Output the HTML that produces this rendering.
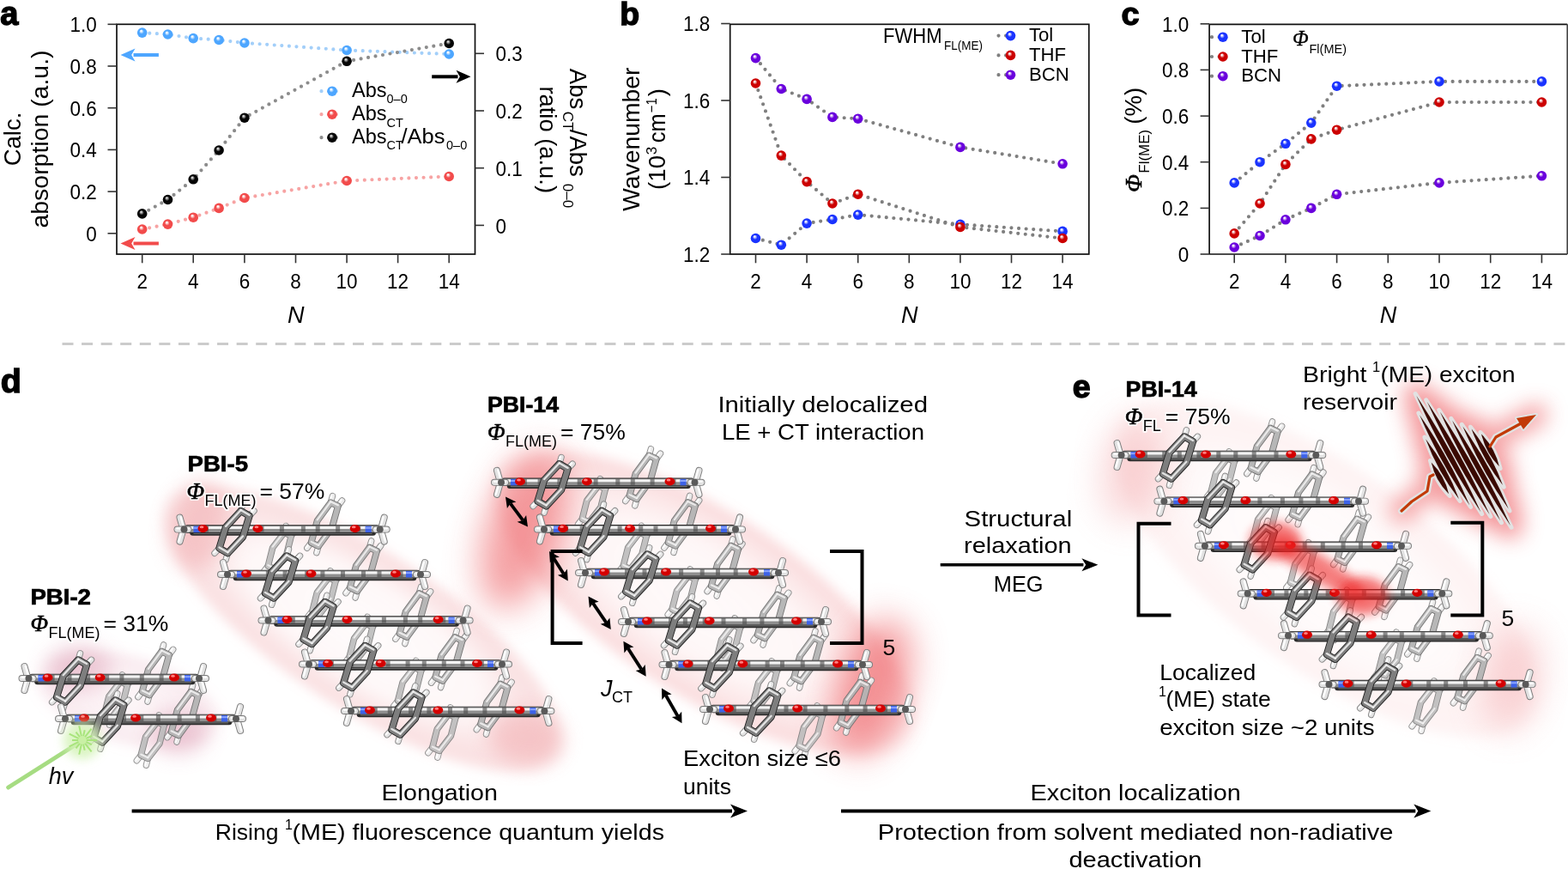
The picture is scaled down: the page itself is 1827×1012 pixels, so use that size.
<!DOCTYPE html>
<html><head><meta charset="utf-8"><title>PBI figure</title>
<style>html,body{margin:0;padding:0;background:#fff;overflow:hidden;} svg{display:block;}</style></head>
<body><svg width="1827" height="1012" viewBox="0 0 1827 1012">
<defs>
<radialGradient id="sLB" cx="0.5" cy="0.5" r="0.5" fx="0.38" fy="0.3">
<stop offset="0" stop-color="#ffffff"/><stop offset="0.1" stop-color="#ffffff" stop-opacity="0.95"/>
<stop offset="0.48" stop-color="#4da6ff"/><stop offset="1" stop-color="#4da6ff"/></radialGradient>
<radialGradient id="sLR" cx="0.5" cy="0.5" r="0.5" fx="0.38" fy="0.3">
<stop offset="0" stop-color="#ffffff"/><stop offset="0.1" stop-color="#ffffff" stop-opacity="0.95"/>
<stop offset="0.48" stop-color="#f24b4b"/><stop offset="1" stop-color="#f24b4b"/></radialGradient>
<radialGradient id="sK" cx="0.5" cy="0.5" r="0.5" fx="0.38" fy="0.3">
<stop offset="0" stop-color="#d8d8d8"/><stop offset="0.1" stop-color="#d8d8d8" stop-opacity="0.95"/>
<stop offset="0.48" stop-color="#050505"/><stop offset="1" stop-color="#050505"/></radialGradient>
<radialGradient id="sB" cx="0.5" cy="0.5" r="0.5" fx="0.38" fy="0.3">
<stop offset="0" stop-color="#ffffff"/><stop offset="0.1" stop-color="#ffffff" stop-opacity="0.95"/>
<stop offset="0.48" stop-color="#1a33ff"/><stop offset="1" stop-color="#1a33ff"/></radialGradient>
<radialGradient id="sR" cx="0.5" cy="0.5" r="0.5" fx="0.38" fy="0.3">
<stop offset="0" stop-color="#ffffff"/><stop offset="0.1" stop-color="#ffffff" stop-opacity="0.95"/>
<stop offset="0.48" stop-color="#cc0000"/><stop offset="1" stop-color="#cc0000"/></radialGradient>
<radialGradient id="sP" cx="0.5" cy="0.5" r="0.5" fx="0.38" fy="0.3">
<stop offset="0" stop-color="#ffffff"/><stop offset="0.1" stop-color="#ffffff" stop-opacity="0.95"/>
<stop offset="0.48" stop-color="#6a00dd"/><stop offset="1" stop-color="#6a00dd"/></radialGradient>
<linearGradient id="rod" x1="0" y1="0" x2="0" y2="1">
<stop offset="0" stop-color="#9a9a9a"/><stop offset="0.22" stop-color="#f4f4f4"/><stop offset="0.5" stop-color="#b8b8b8"/><stop offset="0.8" stop-color="#5a5a5a"/><stop offset="1" stop-color="#2a2a2a"/></linearGradient>
<linearGradient id="hstick" x1="0" y1="0" x2="0" y2="1">
<stop offset="0" stop-color="#c8c8c8"/><stop offset="0.35" stop-color="#ffffff"/><stop offset="1" stop-color="#9a9a9a"/></linearGradient>
<filter id="bl6" x="-50%" y="-50%" width="200%" height="200%"><feGaussianBlur stdDeviation="6"/></filter>
<filter id="bl12" x="-50%" y="-50%" width="200%" height="200%"><feGaussianBlur stdDeviation="12"/></filter>
<filter id="bl20" x="-50%" y="-50%" width="200%" height="200%"><feGaussianBlur stdDeviation="20"/></filter>
<filter id="bl28" x="-50%" y="-50%" width="200%" height="200%"><feGaussianBlur stdDeviation="28"/></filter>
<filter id="bl3" x="-50%" y="-50%" width="200%" height="200%"><feGaussianBlur stdDeviation="3"/></filter>
<radialGradient id="gl1" cx="0.5" cy="0.5" r="0.5"><stop offset="0" stop-color="#e4a0b6" stop-opacity="0.1"/><stop offset="0.5" stop-color="#e4a0b6" stop-opacity="0.14"/><stop offset="0.8" stop-color="#e4a0b6" stop-opacity="0.22"/><stop offset="1" stop-color="#e4a0b6" stop-opacity="0"/></radialGradient>
<radialGradient id="gl2" cx="0.5" cy="0.5" r="0.5"><stop offset="0" stop-color="#f0a2a6" stop-opacity="0.04"/><stop offset="0.55" stop-color="#f0a2a6" stop-opacity="0.08"/><stop offset="0.8" stop-color="#f0a2a6" stop-opacity="0.3"/><stop offset="0.92" stop-color="#f0a2a6" stop-opacity="0.32"/><stop offset="1" stop-color="#f0a2a6" stop-opacity="0"/></radialGradient>
<radialGradient id="gl3" cx="0.5" cy="0.5" r="0.5"><stop offset="0" stop-color="#f08a8e" stop-opacity="0.04"/><stop offset="0.5" stop-color="#f08a8e" stop-opacity="0.07"/><stop offset="0.78" stop-color="#f08a8e" stop-opacity="0.22"/><stop offset="0.9" stop-color="#f08a8e" stop-opacity="0.3"/><stop offset="1" stop-color="#f08a8e" stop-opacity="0"/></radialGradient>
<radialGradient id="gl4" cx="0.5" cy="0.5" r="0.5"><stop offset="0" stop-color="#f3a3a6" stop-opacity="0.03"/><stop offset="0.55" stop-color="#f3a3a6" stop-opacity="0.05"/><stop offset="0.8" stop-color="#f3a3a6" stop-opacity="0.13"/><stop offset="0.92" stop-color="#f3a3a6" stop-opacity="0.13"/><stop offset="1" stop-color="#f3a3a6" stop-opacity="0"/></radialGradient>
</defs>
<rect width="1827" height="1012" fill="#fff"/>
<rect x="136.0" y="28.3" width="417.5" height="267.7" fill="none" stroke="#111" stroke-width="1.7"/>
<line x1="165.7" y1="296.0" x2="165.7" y2="306.3" stroke="#333" stroke-width="1.6"/>
<g transform="translate(165.7,336.3) scale(1,1.09)">
<text x="0.0" y="0.0" font-size="22.5" text-anchor="middle" font-weight="normal" font-style="normal" fill="#000" font-family="'Liberation Sans', Arial, sans-serif" >2</text>
</g>
<line x1="225.2" y1="296.0" x2="225.2" y2="306.3" stroke="#333" stroke-width="1.6"/>
<g transform="translate(225.2,336.3) scale(1,1.09)">
<text x="0.0" y="0.0" font-size="22.5" text-anchor="middle" font-weight="normal" font-style="normal" fill="#000" font-family="'Liberation Sans', Arial, sans-serif" >4</text>
</g>
<line x1="284.9" y1="296.0" x2="284.9" y2="306.3" stroke="#333" stroke-width="1.6"/>
<g transform="translate(284.9,336.3) scale(1,1.09)">
<text x="0.0" y="0.0" font-size="22.5" text-anchor="middle" font-weight="normal" font-style="normal" fill="#000" font-family="'Liberation Sans', Arial, sans-serif" >6</text>
</g>
<line x1="344.5" y1="296.0" x2="344.5" y2="306.3" stroke="#333" stroke-width="1.6"/>
<g transform="translate(344.5,336.3) scale(1,1.09)">
<text x="0.0" y="0.0" font-size="22.5" text-anchor="middle" font-weight="normal" font-style="normal" fill="#000" font-family="'Liberation Sans', Arial, sans-serif" >8</text>
</g>
<line x1="404.1" y1="296.0" x2="404.1" y2="306.3" stroke="#333" stroke-width="1.6"/>
<g transform="translate(404.1,336.3) scale(1,1.09)">
<text x="0.0" y="0.0" font-size="22.5" text-anchor="middle" font-weight="normal" font-style="normal" fill="#000" font-family="'Liberation Sans', Arial, sans-serif" >10</text>
</g>
<line x1="463.6" y1="296.0" x2="463.6" y2="306.3" stroke="#333" stroke-width="1.6"/>
<g transform="translate(463.6,336.3) scale(1,1.09)">
<text x="0.0" y="0.0" font-size="22.5" text-anchor="middle" font-weight="normal" font-style="normal" fill="#000" font-family="'Liberation Sans', Arial, sans-serif" >12</text>
</g>
<line x1="523.2" y1="296.0" x2="523.2" y2="306.3" stroke="#333" stroke-width="1.6"/>
<g transform="translate(523.2,336.3) scale(1,1.09)">
<text x="0.0" y="0.0" font-size="22.5" text-anchor="middle" font-weight="normal" font-style="normal" fill="#000" font-family="'Liberation Sans', Arial, sans-serif" >14</text>
</g>
<line x1="125.5" y1="28.3" x2="136.0" y2="28.3" stroke="#333" stroke-width="1.6"/>
<g transform="translate(112.8,37.2) scale(1,1.09)">
<text x="0.0" y="0.0" font-size="22.5" text-anchor="end" font-weight="normal" font-style="normal" fill="#000" font-family="'Liberation Sans', Arial, sans-serif" >1.0</text>
</g>
<line x1="125.5" y1="77.0" x2="136.0" y2="77.0" stroke="#333" stroke-width="1.6"/>
<g transform="translate(112.8,85.9) scale(1,1.09)">
<text x="0.0" y="0.0" font-size="22.5" text-anchor="end" font-weight="normal" font-style="normal" fill="#000" font-family="'Liberation Sans', Arial, sans-serif" >0.8</text>
</g>
<line x1="125.5" y1="125.7" x2="136.0" y2="125.7" stroke="#333" stroke-width="1.6"/>
<g transform="translate(112.8,134.6) scale(1,1.09)">
<text x="0.0" y="0.0" font-size="22.5" text-anchor="end" font-weight="normal" font-style="normal" fill="#000" font-family="'Liberation Sans', Arial, sans-serif" >0.6</text>
</g>
<line x1="125.5" y1="174.4" x2="136.0" y2="174.4" stroke="#333" stroke-width="1.6"/>
<g transform="translate(112.8,183.3) scale(1,1.09)">
<text x="0.0" y="0.0" font-size="22.5" text-anchor="end" font-weight="normal" font-style="normal" fill="#000" font-family="'Liberation Sans', Arial, sans-serif" >0.4</text>
</g>
<line x1="125.5" y1="223.1" x2="136.0" y2="223.1" stroke="#333" stroke-width="1.6"/>
<g transform="translate(112.8,232.0) scale(1,1.09)">
<text x="0.0" y="0.0" font-size="22.5" text-anchor="end" font-weight="normal" font-style="normal" fill="#000" font-family="'Liberation Sans', Arial, sans-serif" >0.2</text>
</g>
<line x1="125.5" y1="271.8" x2="136.0" y2="271.8" stroke="#333" stroke-width="1.6"/>
<g transform="translate(112.8,280.7) scale(1,1.09)">
<text x="0.0" y="0.0" font-size="22.5" text-anchor="end" font-weight="normal" font-style="normal" fill="#000" font-family="'Liberation Sans', Arial, sans-serif" >0</text>
</g>
<line x1="553.5" y1="62.3" x2="564.0" y2="62.3" stroke="#333" stroke-width="1.6"/>
<g transform="translate(577.5,71.4) scale(1,1.09)">
<text x="0.0" y="0.0" font-size="22.5" text-anchor="start" font-weight="normal" font-style="normal" fill="#000" font-family="'Liberation Sans', Arial, sans-serif" >0.3</text>
</g>
<line x1="553.5" y1="129.0" x2="564.0" y2="129.0" stroke="#333" stroke-width="1.6"/>
<g transform="translate(577.5,138.1) scale(1,1.09)">
<text x="0.0" y="0.0" font-size="22.5" text-anchor="start" font-weight="normal" font-style="normal" fill="#000" font-family="'Liberation Sans', Arial, sans-serif" >0.2</text>
</g>
<line x1="553.5" y1="195.7" x2="564.0" y2="195.7" stroke="#333" stroke-width="1.6"/>
<g transform="translate(577.5,204.8) scale(1,1.09)">
<text x="0.0" y="0.0" font-size="22.5" text-anchor="start" font-weight="normal" font-style="normal" fill="#000" font-family="'Liberation Sans', Arial, sans-serif" >0.1</text>
</g>
<line x1="553.5" y1="262.4" x2="564.0" y2="262.4" stroke="#333" stroke-width="1.6"/>
<g transform="translate(577.5,271.5) scale(1,1.09)">
<text x="0.0" y="0.0" font-size="22.5" text-anchor="start" font-weight="normal" font-style="normal" fill="#000" font-family="'Liberation Sans', Arial, sans-serif" >0</text>
</g>
<path d="M165.7,38.1 L195.5,40.0 L225.2,44.6 L255.1,46.5 L284.9,50.0 L404.1,58.5 L523.2,63.0" fill="none" stroke="#a3cff9" stroke-width="4.2" stroke-linecap="round" stroke-dasharray="0 8.6"/>
<path d="M165.7,267.0 L195.5,261.1 L225.2,253.2 L255.1,242.4 L284.9,230.5 L404.1,210.5 L523.2,205.5" fill="none" stroke="#f7a3a3" stroke-width="4.2" stroke-linecap="round" stroke-dasharray="0 8.6"/>
<path d="M165.7,248.9 L195.5,232.5 L225.2,208.8 L255.1,175.0 L284.9,137.2 L404.1,71.3 L523.2,50.5" fill="none" stroke="#8c8c8c" stroke-width="4.2" stroke-linecap="round" stroke-dasharray="0 8.6"/>
<circle cx="165.7" cy="38.1" r="5.8" fill="url(#sLB)"/>
<circle cx="195.5" cy="40.0" r="5.8" fill="url(#sLB)"/>
<circle cx="225.2" cy="44.6" r="5.8" fill="url(#sLB)"/>
<circle cx="255.1" cy="46.5" r="5.8" fill="url(#sLB)"/>
<circle cx="284.9" cy="50.0" r="5.8" fill="url(#sLB)"/>
<circle cx="404.1" cy="58.5" r="5.8" fill="url(#sLB)"/>
<circle cx="523.2" cy="63.0" r="5.8" fill="url(#sLB)"/>
<circle cx="165.7" cy="267.0" r="5.8" fill="url(#sLR)"/>
<circle cx="195.5" cy="261.1" r="5.8" fill="url(#sLR)"/>
<circle cx="225.2" cy="253.2" r="5.8" fill="url(#sLR)"/>
<circle cx="255.1" cy="242.4" r="5.8" fill="url(#sLR)"/>
<circle cx="284.9" cy="230.5" r="5.8" fill="url(#sLR)"/>
<circle cx="404.1" cy="210.5" r="5.8" fill="url(#sLR)"/>
<circle cx="523.2" cy="205.5" r="5.8" fill="url(#sLR)"/>
<circle cx="165.7" cy="248.9" r="5.8" fill="url(#sK)"/>
<circle cx="195.5" cy="232.5" r="5.8" fill="url(#sK)"/>
<circle cx="225.2" cy="208.8" r="5.8" fill="url(#sK)"/>
<circle cx="255.1" cy="175.0" r="5.8" fill="url(#sK)"/>
<circle cx="284.9" cy="137.2" r="5.8" fill="url(#sK)"/>
<circle cx="404.1" cy="71.3" r="5.8" fill="url(#sK)"/>
<circle cx="523.2" cy="50.5" r="5.8" fill="url(#sK)"/>
<line x1="184.9" y1="64.0" x2="155.5" y2="64.0" stroke="#4da6ff" stroke-width="4"/>
<path d="M140.5,64.0 L157.5,56.5 L153.2,64.0 L157.5,71.5 Z" fill="#4da6ff"/>
<line x1="184.9" y1="283.5" x2="155.5" y2="283.5" stroke="#f24b4b" stroke-width="4"/>
<path d="M140.5,283.5 L157.5,276.0 L153.2,283.5 L157.5,291.0 Z" fill="#f24b4b"/>
<line x1="503.2" y1="89.3" x2="533.5" y2="89.3" stroke="#000" stroke-width="4"/>
<path d="M548.5,89.3 L531.5,96.8 L535.8,89.3 L531.5,81.8 Z" fill="#000"/>
<path d="M374.5,106.2 L400.0,106.2" fill="none" stroke="#a3cff9" stroke-width="4.2" stroke-linecap="round" stroke-dasharray="0 8.6"/>
<circle cx="387.0" cy="106.2" r="5.8" fill="url(#sLB)"/>
<path d="M374.5,133.2 L400.0,133.2" fill="none" stroke="#f7a3a3" stroke-width="4.2" stroke-linecap="round" stroke-dasharray="0 8.6"/>
<circle cx="387.0" cy="133.2" r="5.8" fill="url(#sLR)"/>
<path d="M374.5,160.2 L400.0,160.2" fill="none" stroke="#8c8c8c" stroke-width="4.2" stroke-linecap="round" stroke-dasharray="0 8.6"/>
<circle cx="387.0" cy="160.2" r="5.8" fill="url(#sK)"/>
<text x="410.0" y="113.4" font-size="23.5" text-anchor="start" font-weight="normal" font-style="normal" fill="#000" font-family="'Liberation Sans', Arial, sans-serif" >Abs</text>
<text x="450.5" y="120.3" font-size="14.5" text-anchor="start" font-weight="normal" font-style="normal" fill="#000" font-family="'Liberation Sans', Arial, sans-serif" >0–0</text>
<text x="410.0" y="139.6" font-size="23.5" text-anchor="start" font-weight="normal" font-style="normal" fill="#000" font-family="'Liberation Sans', Arial, sans-serif" >Abs</text>
<text x="450.5" y="147.5" font-size="14.5" text-anchor="start" font-weight="normal" font-style="normal" fill="#000" font-family="'Liberation Sans', Arial, sans-serif" >CT</text>
<text x="410.0" y="166.6" font-size="23.5" text-anchor="start" font-weight="normal" font-style="normal" fill="#000" font-family="'Liberation Sans', Arial, sans-serif" >Abs</text>
<text x="450.5" y="174.3" font-size="14.5" text-anchor="start" font-weight="normal" font-style="normal" fill="#000" font-family="'Liberation Sans', Arial, sans-serif" >CT</text>
<text x="467.5" y="166.6" font-size="23.5" text-anchor="start" font-weight="normal" font-style="normal" fill="#000" font-family="'Liberation Sans', Arial, sans-serif" textLength="51" lengthAdjust="spacingAndGlyphs" >/Abs</text>
<text x="520.0" y="174.3" font-size="14.5" text-anchor="start" font-weight="normal" font-style="normal" fill="#000" font-family="'Liberation Sans', Arial, sans-serif" >0–0</text>
<text x="344.8" y="375.7" font-size="27" text-anchor="middle" font-weight="normal" font-style="italic" fill="#000" font-family="'Liberation Sans', Arial, sans-serif" >N</text>
<g transform="translate(24.0,162.0) rotate(-90)">
<text x="0.0" y="0.0" font-size="27.5" text-anchor="middle" font-weight="normal" font-style="normal" fill="#000" font-family="'Liberation Sans', Arial, sans-serif" >Calc.</text>
</g>
<g transform="translate(56.4,162.0) rotate(-90)">
<text x="0.0" y="0.0" font-size="27.5" text-anchor="middle" font-weight="normal" font-style="normal" fill="#000" font-family="'Liberation Sans', Arial, sans-serif" textLength="207" lengthAdjust="spacingAndGlyphs" >absorption (a.u.)</text>
</g>
<g transform="translate(663.5,79.8) rotate(90)">
<text x="0.0" y="0.0" font-size="27.5" text-anchor="start" font-weight="normal" font-style="normal" fill="#000" font-family="'Liberation Sans', Arial, sans-serif" >Abs</text>
<text x="50.0" y="8.0" font-size="17" text-anchor="start" font-weight="normal" font-style="normal" fill="#000" font-family="'Liberation Sans', Arial, sans-serif" >CT</text>
<text x="71.0" y="0.0" font-size="27.5" text-anchor="start" font-weight="normal" font-style="normal" fill="#000" font-family="'Liberation Sans', Arial, sans-serif" >/Abs</text>
<text x="134.0" y="8.0" font-size="17" text-anchor="start" font-weight="normal" font-style="normal" fill="#000" font-family="'Liberation Sans', Arial, sans-serif" >0–0</text>
</g>
<g transform="translate(629.0,162.7) rotate(90)">
<text x="0.0" y="0.0" font-size="27.5" text-anchor="middle" font-weight="normal" font-style="normal" fill="#000" font-family="'Liberation Sans', Arial, sans-serif" textLength="124.6" lengthAdjust="spacingAndGlyphs" >ratio (a.u.)</text>
</g>
<text x="0.3" y="29.4" font-size="38" text-anchor="start" font-weight="bold" font-style="normal" fill="#000" font-family="'Liberation Sans', Arial, sans-serif" stroke="#000" stroke-width="1.4">a</text>
<rect x="850.7" y="28.3" width="418.0999999999999" height="267.7" fill="none" stroke="#111" stroke-width="1.7"/>
<line x1="880.5" y1="296.0" x2="880.5" y2="306.3" stroke="#333" stroke-width="1.6"/>
<g transform="translate(880.5,336.3) scale(1,1.09)">
<text x="0.0" y="0.0" font-size="22.5" text-anchor="middle" font-weight="normal" font-style="normal" fill="#000" font-family="'Liberation Sans', Arial, sans-serif" >2</text>
</g>
<line x1="940.1" y1="296.0" x2="940.1" y2="306.3" stroke="#333" stroke-width="1.6"/>
<g transform="translate(940.1,336.3) scale(1,1.09)">
<text x="0.0" y="0.0" font-size="22.5" text-anchor="middle" font-weight="normal" font-style="normal" fill="#000" font-family="'Liberation Sans', Arial, sans-serif" >4</text>
</g>
<line x1="999.7" y1="296.0" x2="999.7" y2="306.3" stroke="#333" stroke-width="1.6"/>
<g transform="translate(999.7,336.3) scale(1,1.09)">
<text x="0.0" y="0.0" font-size="22.5" text-anchor="middle" font-weight="normal" font-style="normal" fill="#000" font-family="'Liberation Sans', Arial, sans-serif" >6</text>
</g>
<line x1="1059.3" y1="296.0" x2="1059.3" y2="306.3" stroke="#333" stroke-width="1.6"/>
<g transform="translate(1059.3,336.3) scale(1,1.09)">
<text x="0.0" y="0.0" font-size="22.5" text-anchor="middle" font-weight="normal" font-style="normal" fill="#000" font-family="'Liberation Sans', Arial, sans-serif" >8</text>
</g>
<line x1="1118.9" y1="296.0" x2="1118.9" y2="306.3" stroke="#333" stroke-width="1.6"/>
<g transform="translate(1118.9,336.3) scale(1,1.09)">
<text x="0.0" y="0.0" font-size="22.5" text-anchor="middle" font-weight="normal" font-style="normal" fill="#000" font-family="'Liberation Sans', Arial, sans-serif" >10</text>
</g>
<line x1="1178.5" y1="296.0" x2="1178.5" y2="306.3" stroke="#333" stroke-width="1.6"/>
<g transform="translate(1178.5,336.3) scale(1,1.09)">
<text x="0.0" y="0.0" font-size="22.5" text-anchor="middle" font-weight="normal" font-style="normal" fill="#000" font-family="'Liberation Sans', Arial, sans-serif" >12</text>
</g>
<line x1="1238.1" y1="296.0" x2="1238.1" y2="306.3" stroke="#333" stroke-width="1.6"/>
<g transform="translate(1238.1,336.3) scale(1,1.09)">
<text x="0.0" y="0.0" font-size="22.5" text-anchor="middle" font-weight="normal" font-style="normal" fill="#000" font-family="'Liberation Sans', Arial, sans-serif" >14</text>
</g>
<line x1="840.2" y1="27.5" x2="850.7" y2="27.5" stroke="#333" stroke-width="1.6"/>
<g transform="translate(827.2,36.4) scale(1,1.09)">
<text x="0.0" y="0.0" font-size="22.5" text-anchor="end" font-weight="normal" font-style="normal" fill="#000" font-family="'Liberation Sans', Arial, sans-serif" >1.8</text>
</g>
<line x1="840.2" y1="117.0" x2="850.7" y2="117.0" stroke="#333" stroke-width="1.6"/>
<g transform="translate(827.2,125.9) scale(1,1.09)">
<text x="0.0" y="0.0" font-size="22.5" text-anchor="end" font-weight="normal" font-style="normal" fill="#000" font-family="'Liberation Sans', Arial, sans-serif" >1.6</text>
</g>
<line x1="840.2" y1="206.5" x2="850.7" y2="206.5" stroke="#333" stroke-width="1.6"/>
<g transform="translate(827.2,215.4) scale(1,1.09)">
<text x="0.0" y="0.0" font-size="22.5" text-anchor="end" font-weight="normal" font-style="normal" fill="#000" font-family="'Liberation Sans', Arial, sans-serif" >1.4</text>
</g>
<line x1="840.2" y1="296.0" x2="850.7" y2="296.0" stroke="#333" stroke-width="1.6"/>
<g transform="translate(827.2,304.9) scale(1,1.09)">
<text x="0.0" y="0.0" font-size="22.5" text-anchor="end" font-weight="normal" font-style="normal" fill="#000" font-family="'Liberation Sans', Arial, sans-serif" >1.2</text>
</g>
<path d="M880.5,67.6 L910.3,103.5 L940.1,115.4 L969.9,136.4 L999.7,138.2 L1118.9,171.4 L1238.1,190.8" fill="none" stroke="#7f7f7f" stroke-width="4.2" stroke-linecap="round" stroke-dasharray="0 8.6"/>
<path d="M880.5,97.0 L910.3,181.1 L940.1,211.6 L969.9,237.0 L999.7,226.2 L1118.9,264.4 L1238.1,277.5" fill="none" stroke="#7f7f7f" stroke-width="4.2" stroke-linecap="round" stroke-dasharray="0 8.6"/>
<path d="M880.5,277.5 L910.3,285.2 L940.1,260.1 L969.9,255.5 L999.7,250.1 L1118.9,261.3 L1238.1,269.4" fill="none" stroke="#7f7f7f" stroke-width="4.2" stroke-linecap="round" stroke-dasharray="0 8.6"/>
<circle cx="880.5" cy="277.5" r="5.8" fill="url(#sB)"/>
<circle cx="910.3" cy="285.2" r="5.8" fill="url(#sB)"/>
<circle cx="940.1" cy="260.1" r="5.8" fill="url(#sB)"/>
<circle cx="969.9" cy="255.5" r="5.8" fill="url(#sB)"/>
<circle cx="999.7" cy="250.1" r="5.8" fill="url(#sB)"/>
<circle cx="1118.9" cy="261.3" r="5.8" fill="url(#sB)"/>
<circle cx="1238.1" cy="269.4" r="5.8" fill="url(#sB)"/>
<circle cx="880.5" cy="97.0" r="5.8" fill="url(#sR)"/>
<circle cx="910.3" cy="181.1" r="5.8" fill="url(#sR)"/>
<circle cx="940.1" cy="211.6" r="5.8" fill="url(#sR)"/>
<circle cx="969.9" cy="237.0" r="5.8" fill="url(#sR)"/>
<circle cx="999.7" cy="226.2" r="5.8" fill="url(#sR)"/>
<circle cx="1118.9" cy="264.4" r="5.8" fill="url(#sR)"/>
<circle cx="1238.1" cy="277.5" r="5.8" fill="url(#sR)"/>
<circle cx="880.5" cy="67.6" r="5.8" fill="url(#sP)"/>
<circle cx="910.3" cy="103.5" r="5.8" fill="url(#sP)"/>
<circle cx="940.1" cy="115.4" r="5.8" fill="url(#sP)"/>
<circle cx="969.9" cy="136.4" r="5.8" fill="url(#sP)"/>
<circle cx="999.7" cy="138.2" r="5.8" fill="url(#sP)"/>
<circle cx="1118.9" cy="171.4" r="5.8" fill="url(#sP)"/>
<circle cx="1238.1" cy="190.8" r="5.8" fill="url(#sP)"/>
<path d="M1163.5,41.6 L1175.0,41.6" fill="none" stroke="#7f7f7f" stroke-width="4.2" stroke-linecap="round" stroke-dasharray="0 8.6"/>
<circle cx="1177.5" cy="41.6" r="5.8" fill="url(#sB)"/>
<text x="1198.9" y="48.4" font-size="22.2" text-anchor="start" font-weight="normal" font-style="normal" fill="#000" font-family="'Liberation Sans', Arial, sans-serif" >Tol</text>
<path d="M1163.5,64.4 L1175.0,64.4" fill="none" stroke="#7f7f7f" stroke-width="4.2" stroke-linecap="round" stroke-dasharray="0 8.6"/>
<circle cx="1177.5" cy="64.4" r="5.8" fill="url(#sR)"/>
<text x="1198.9" y="71.2" font-size="22.2" text-anchor="start" font-weight="normal" font-style="normal" fill="#000" font-family="'Liberation Sans', Arial, sans-serif" >THF</text>
<path d="M1163.5,87.2 L1175.0,87.2" fill="none" stroke="#7f7f7f" stroke-width="4.2" stroke-linecap="round" stroke-dasharray="0 8.6"/>
<circle cx="1177.5" cy="87.2" r="5.8" fill="url(#sP)"/>
<text x="1198.9" y="94.0" font-size="22.2" text-anchor="start" font-weight="normal" font-style="normal" fill="#000" font-family="'Liberation Sans', Arial, sans-serif" >BCN</text>
<text x="1029.0" y="50.1" font-size="23.5" text-anchor="start" font-weight="normal" font-style="normal" fill="#000" font-family="'Liberation Sans', Arial, sans-serif" textLength="68.5" lengthAdjust="spacingAndGlyphs" >FWHM</text>
<text x="1100.0" y="57.8" font-size="14.5" text-anchor="start" font-weight="normal" font-style="normal" fill="#000" font-family="'Liberation Sans', Arial, sans-serif" textLength="45" lengthAdjust="spacingAndGlyphs" >FL(ME)</text>
<text x="1059.8" y="375.7" font-size="27" text-anchor="middle" font-weight="normal" font-style="italic" fill="#000" font-family="'Liberation Sans', Arial, sans-serif" >N</text>
<g transform="translate(744.8,162.2) rotate(-90)">
<text x="0.0" y="0.0" font-size="27.5" text-anchor="middle" font-weight="normal" font-style="normal" fill="#000" font-family="'Liberation Sans', Arial, sans-serif" textLength="167.4" lengthAdjust="spacingAndGlyphs" >Wavenumber</text>
</g>
<g transform="translate(775.2,161.7) rotate(-90)">
<text x="-59.2" y="0.0" font-size="27.5" text-anchor="start" font-weight="normal" font-style="normal" fill="#000" font-family="'Liberation Sans', Arial, sans-serif" textLength="40" lengthAdjust="spacingAndGlyphs" >(10</text>
<text x="-18.5" y="-10.5" font-size="17" text-anchor="start" font-weight="normal" font-style="normal" fill="#000" font-family="'Liberation Sans', Arial, sans-serif" >3</text>
<text x="-4.5" y="0.0" font-size="27.5" text-anchor="start" font-weight="normal" font-style="normal" fill="#000" font-family="'Liberation Sans', Arial, sans-serif" textLength="34" lengthAdjust="spacingAndGlyphs" >cm</text>
<text x="30.5" y="-10.5" font-size="17" text-anchor="start" font-weight="normal" font-style="normal" fill="#000" font-family="'Liberation Sans', Arial, sans-serif" textLength="17" lengthAdjust="spacingAndGlyphs" >−1</text>
<text x="49.5" y="0.0" font-size="27.5" text-anchor="start" font-weight="normal" font-style="normal" fill="#000" font-family="'Liberation Sans', Arial, sans-serif" >)</text>
</g>
<text x="722.3" y="29.2" font-size="37.5" text-anchor="start" font-weight="bold" font-style="normal" fill="#000" font-family="'Liberation Sans', Arial, sans-serif" stroke="#000" stroke-width="1.4">b</text>
<line x1="1409.1" y1="28.3" x2="1826.2" y2="28.3" stroke="#111" stroke-width="1.7"/>
<line x1="1409.1" y1="296.0" x2="1826.2" y2="296.0" stroke="#111" stroke-width="1.7"/>
<line x1="1409.1" y1="28.3" x2="1409.1" y2="296.0" stroke="#111" stroke-width="1.7"/>
<line x1="1826.2" y1="28.3" x2="1826.2" y2="296.0" stroke="#444" stroke-width="1.6"/>
<line x1="1438.2" y1="296.0" x2="1438.2" y2="306.3" stroke="#333" stroke-width="1.6"/>
<g transform="translate(1438.2,336.3) scale(1,1.09)">
<text x="0.0" y="0.0" font-size="22.5" text-anchor="middle" font-weight="normal" font-style="normal" fill="#000" font-family="'Liberation Sans', Arial, sans-serif" >2</text>
</g>
<line x1="1497.9" y1="296.0" x2="1497.9" y2="306.3" stroke="#333" stroke-width="1.6"/>
<g transform="translate(1497.9,336.3) scale(1,1.09)">
<text x="0.0" y="0.0" font-size="22.5" text-anchor="middle" font-weight="normal" font-style="normal" fill="#000" font-family="'Liberation Sans', Arial, sans-serif" >4</text>
</g>
<line x1="1557.6" y1="296.0" x2="1557.6" y2="306.3" stroke="#333" stroke-width="1.6"/>
<g transform="translate(1557.6,336.3) scale(1,1.09)">
<text x="0.0" y="0.0" font-size="22.5" text-anchor="middle" font-weight="normal" font-style="normal" fill="#000" font-family="'Liberation Sans', Arial, sans-serif" >6</text>
</g>
<line x1="1617.3" y1="296.0" x2="1617.3" y2="306.3" stroke="#333" stroke-width="1.6"/>
<g transform="translate(1617.3,336.3) scale(1,1.09)">
<text x="0.0" y="0.0" font-size="22.5" text-anchor="middle" font-weight="normal" font-style="normal" fill="#000" font-family="'Liberation Sans', Arial, sans-serif" >8</text>
</g>
<line x1="1677.0" y1="296.0" x2="1677.0" y2="306.3" stroke="#333" stroke-width="1.6"/>
<g transform="translate(1677.0,336.3) scale(1,1.09)">
<text x="0.0" y="0.0" font-size="22.5" text-anchor="middle" font-weight="normal" font-style="normal" fill="#000" font-family="'Liberation Sans', Arial, sans-serif" >10</text>
</g>
<line x1="1736.7" y1="296.0" x2="1736.7" y2="306.3" stroke="#333" stroke-width="1.6"/>
<g transform="translate(1736.7,336.3) scale(1,1.09)">
<text x="0.0" y="0.0" font-size="22.5" text-anchor="middle" font-weight="normal" font-style="normal" fill="#000" font-family="'Liberation Sans', Arial, sans-serif" >12</text>
</g>
<line x1="1796.4" y1="296.0" x2="1796.4" y2="306.3" stroke="#333" stroke-width="1.6"/>
<g transform="translate(1796.4,336.3) scale(1,1.09)">
<text x="0.0" y="0.0" font-size="22.5" text-anchor="middle" font-weight="normal" font-style="normal" fill="#000" font-family="'Liberation Sans', Arial, sans-serif" >14</text>
</g>
<line x1="1398.6" y1="27.8" x2="1409.1" y2="27.8" stroke="#333" stroke-width="1.6"/>
<g transform="translate(1385.2,36.7) scale(1,1.09)">
<text x="0.0" y="0.0" font-size="22.5" text-anchor="end" font-weight="normal" font-style="normal" fill="#000" font-family="'Liberation Sans', Arial, sans-serif" >1.0</text>
</g>
<line x1="1398.6" y1="81.4" x2="1409.1" y2="81.4" stroke="#333" stroke-width="1.6"/>
<g transform="translate(1385.2,90.3) scale(1,1.09)">
<text x="0.0" y="0.0" font-size="22.5" text-anchor="end" font-weight="normal" font-style="normal" fill="#000" font-family="'Liberation Sans', Arial, sans-serif" >0.8</text>
</g>
<line x1="1398.6" y1="135.1" x2="1409.1" y2="135.1" stroke="#333" stroke-width="1.6"/>
<g transform="translate(1385.2,144.0) scale(1,1.09)">
<text x="0.0" y="0.0" font-size="22.5" text-anchor="end" font-weight="normal" font-style="normal" fill="#000" font-family="'Liberation Sans', Arial, sans-serif" >0.6</text>
</g>
<line x1="1398.6" y1="188.7" x2="1409.1" y2="188.7" stroke="#333" stroke-width="1.6"/>
<g transform="translate(1385.2,197.6) scale(1,1.09)">
<text x="0.0" y="0.0" font-size="22.5" text-anchor="end" font-weight="normal" font-style="normal" fill="#000" font-family="'Liberation Sans', Arial, sans-serif" >0.4</text>
</g>
<line x1="1398.6" y1="242.4" x2="1409.1" y2="242.4" stroke="#333" stroke-width="1.6"/>
<g transform="translate(1385.2,251.3) scale(1,1.09)">
<text x="0.0" y="0.0" font-size="22.5" text-anchor="end" font-weight="normal" font-style="normal" fill="#000" font-family="'Liberation Sans', Arial, sans-serif" >0.2</text>
</g>
<line x1="1398.6" y1="296.0" x2="1409.1" y2="296.0" stroke="#333" stroke-width="1.6"/>
<g transform="translate(1385.2,304.9) scale(1,1.09)">
<text x="0.0" y="0.0" font-size="22.5" text-anchor="end" font-weight="normal" font-style="normal" fill="#000" font-family="'Liberation Sans', Arial, sans-serif" >0</text>
</g>
<path d="M1438.2,212.9 L1468.0,188.7 L1497.9,167.3 L1527.8,143.1 L1557.6,100.2 L1677.0,94.9 L1796.4,94.9" fill="none" stroke="#7f7f7f" stroke-width="4.2" stroke-linecap="round" stroke-dasharray="0 8.6"/>
<path d="M1438.2,271.9 L1468.0,237.0 L1497.9,191.4 L1527.8,161.9 L1557.6,151.2 L1677.0,119.0 L1796.4,119.0" fill="none" stroke="#7f7f7f" stroke-width="4.2" stroke-linecap="round" stroke-dasharray="0 8.6"/>
<path d="M1438.2,288.0 L1468.0,274.5 L1497.9,255.8 L1527.8,242.4 L1557.6,226.3 L1677.0,212.9 L1796.4,204.8" fill="none" stroke="#7f7f7f" stroke-width="4.2" stroke-linecap="round" stroke-dasharray="0 8.6"/>
<circle cx="1438.2" cy="212.9" r="5.8" fill="url(#sB)"/>
<circle cx="1468.0" cy="188.7" r="5.8" fill="url(#sB)"/>
<circle cx="1497.9" cy="167.3" r="5.8" fill="url(#sB)"/>
<circle cx="1527.8" cy="143.1" r="5.8" fill="url(#sB)"/>
<circle cx="1557.6" cy="100.2" r="5.8" fill="url(#sB)"/>
<circle cx="1677.0" cy="94.9" r="5.8" fill="url(#sB)"/>
<circle cx="1796.4" cy="94.9" r="5.8" fill="url(#sB)"/>
<circle cx="1438.2" cy="271.9" r="5.8" fill="url(#sR)"/>
<circle cx="1468.0" cy="237.0" r="5.8" fill="url(#sR)"/>
<circle cx="1497.9" cy="191.4" r="5.8" fill="url(#sR)"/>
<circle cx="1527.8" cy="161.9" r="5.8" fill="url(#sR)"/>
<circle cx="1557.6" cy="151.2" r="5.8" fill="url(#sR)"/>
<circle cx="1677.0" cy="119.0" r="5.8" fill="url(#sR)"/>
<circle cx="1796.4" cy="119.0" r="5.8" fill="url(#sR)"/>
<circle cx="1438.2" cy="288.0" r="5.8" fill="url(#sP)"/>
<circle cx="1468.0" cy="274.5" r="5.8" fill="url(#sP)"/>
<circle cx="1497.9" cy="255.8" r="5.8" fill="url(#sP)"/>
<circle cx="1527.8" cy="242.4" r="5.8" fill="url(#sP)"/>
<circle cx="1557.6" cy="226.3" r="5.8" fill="url(#sP)"/>
<circle cx="1677.0" cy="212.9" r="5.8" fill="url(#sP)"/>
<circle cx="1796.4" cy="204.8" r="5.8" fill="url(#sP)"/>
<path d="M1412.0,43.2 L1422.0,43.2" fill="none" stroke="#7f7f7f" stroke-width="4.2" stroke-linecap="round" stroke-dasharray="0 8.6"/>
<circle cx="1424.9" cy="43.2" r="5.8" fill="url(#sB)"/>
<text x="1446.3" y="49.8" font-size="22.2" text-anchor="start" font-weight="normal" font-style="normal" fill="#000" font-family="'Liberation Sans', Arial, sans-serif" >Tol</text>
<path d="M1412.0,66.0 L1422.0,66.0" fill="none" stroke="#7f7f7f" stroke-width="4.2" stroke-linecap="round" stroke-dasharray="0 8.6"/>
<circle cx="1424.9" cy="66.0" r="5.8" fill="url(#sR)"/>
<text x="1446.3" y="72.5" font-size="22.2" text-anchor="start" font-weight="normal" font-style="normal" fill="#000" font-family="'Liberation Sans', Arial, sans-serif" >THF</text>
<path d="M1412.0,88.7 L1422.0,88.7" fill="none" stroke="#7f7f7f" stroke-width="4.2" stroke-linecap="round" stroke-dasharray="0 8.6"/>
<circle cx="1424.9" cy="88.7" r="5.8" fill="url(#sP)"/>
<text x="1446.3" y="95.3" font-size="22.2" text-anchor="start" font-weight="normal" font-style="normal" fill="#000" font-family="'Liberation Sans', Arial, sans-serif" >BCN</text>
<text x="1506.0" y="52.8" font-size="24.5" text-anchor="start" font-weight="normal" font-style="italic" fill="#000" font-family="'Liberation Serif', serif" stroke="#000" stroke-width="0.3">Φ</text>
<text x="1525.5" y="61.7" font-size="14.5" text-anchor="start" font-weight="normal" font-style="normal" fill="#000" font-family="'Liberation Sans', Arial, sans-serif" >Fl(ME)</text>
<text x="1617.5" y="375.7" font-size="27" text-anchor="middle" font-weight="normal" font-style="italic" fill="#000" font-family="'Liberation Sans', Arial, sans-serif" >N</text>
<g transform="translate(1330.3,163.2) rotate(-90)">
<text x="-60.5" y="0.0" font-size="27" text-anchor="start" font-weight="normal" font-style="italic" fill="#000" font-family="'Liberation Serif', serif" stroke="#000" stroke-width="0.6">Φ</text>
<text x="-38.5" y="8.5" font-size="17" text-anchor="start" font-weight="normal" font-style="normal" fill="#000" font-family="'Liberation Sans', Arial, sans-serif" >Fl(ME)</text>
<text x="18.5" y="0.0" font-size="27.5" text-anchor="start" font-weight="normal" font-style="normal" fill="#000" font-family="'Liberation Sans', Arial, sans-serif" >(%)</text>
</g>
<text x="1306.5" y="29.4" font-size="37.8" text-anchor="start" font-weight="bold" font-style="normal" fill="#000" font-family="'Liberation Sans', Arial, sans-serif" stroke="#000" stroke-width="1.4">c</text>
<line x1="72.5" y1="400.4" x2="1827" y2="400.4" stroke="#cbcbcb" stroke-width="3" stroke-dasharray="13 9.57"/>
<ellipse cx="150" cy="815" rx="118" ry="56" transform="rotate(16 150 815)" fill="url(#gl1)" filter="url(#bl6)"/>
<ellipse cx="92" cy="778" rx="38" ry="26" transform="rotate(0 92 778)" fill="#dc98b0" opacity="0.45" filter="url(#bl12)"/>
<ellipse cx="208" cy="852" rx="34" ry="26" transform="rotate(0 208 852)" fill="#dc98b0" opacity="0.45" filter="url(#bl12)"/>
<ellipse cx="423" cy="733" rx="280" ry="96" transform="rotate(33 423 733)" fill="url(#gl2)" filter="url(#bl6)"/>
<ellipse cx="232" cy="612" rx="34" ry="52" transform="rotate(10 232 612)" fill="#f0a0a4" opacity="0.45" filter="url(#bl12)"/>
<ellipse cx="612" cy="858" rx="44" ry="32" transform="rotate(10 612 858)" fill="#f0a0a4" opacity="0.45" filter="url(#bl12)"/>
<ellipse cx="820" cy="702" rx="294" ry="112" transform="rotate(33 820 702)" fill="url(#gl3)" filter="url(#bl6)"/>
<ellipse cx="610" cy="618" rx="44" ry="95" transform="rotate(18 610 618)" fill="#ee6266" opacity="0.6" filter="url(#bl20)"/>
<ellipse cx="1016" cy="800" rx="40" ry="82" transform="rotate(18 1016 800)" fill="#ee5a5e" opacity="0.62" filter="url(#bl20)"/>
<ellipse cx="1545" cy="662" rx="305" ry="122" transform="rotate(36 1545 662)" fill="url(#gl4)" filter="url(#bl6)"/>
<ellipse cx="1320" cy="548" rx="36" ry="62" transform="rotate(10 1320 548)" fill="#f3a0a4" opacity="0.42" filter="url(#bl20)"/>
<ellipse cx="1762" cy="790" rx="34" ry="62" transform="rotate(10 1762 790)" fill="#f3a0a4" opacity="0.42" filter="url(#bl20)"/>
<g opacity="0.95">
<g opacity="1.0" stroke-linecap="round"><line x1="174.2" y1="809.4" x2="172.0" y2="817.1" stroke="#888" stroke-width="7.4"/><line x1="174.2" y1="809.4" x2="172.0" y2="817.1" stroke="#eaeaea" stroke-width="5.6"/><line x1="173.1" y1="809.1" x2="171.0" y2="816.8" stroke="#ffffff" stroke-width="2.1" opacity="0.9"/></g>
<g opacity="1.0" stroke-linecap="round"><line x1="165.7" y1="805.3" x2="160.9" y2="811.7" stroke="#888" stroke-width="7.4"/><line x1="165.7" y1="805.3" x2="160.9" y2="811.7" stroke="#eaeaea" stroke-width="5.6"/><line x1="164.8" y1="804.6" x2="160.0" y2="811.0" stroke="#ffffff" stroke-width="2.1" opacity="0.9"/></g>
<g opacity="1.0" stroke-linecap="round"><line x1="188.4" y1="758.6" x2="190.6" y2="750.9" stroke="#888" stroke-width="7.4"/><line x1="188.4" y1="758.6" x2="190.6" y2="750.9" stroke="#eaeaea" stroke-width="5.6"/><line x1="187.4" y1="758.3" x2="189.5" y2="750.6" stroke="#ffffff" stroke-width="2.1" opacity="0.9"/></g>
<g opacity="1.0" stroke-linecap="round"><line x1="197.0" y1="762.7" x2="201.7" y2="756.3" stroke="#888" stroke-width="7.4"/><line x1="197.0" y1="762.7" x2="201.7" y2="756.3" stroke="#eaeaea" stroke-width="5.6"/><line x1="196.1" y1="762.1" x2="200.8" y2="755.6" stroke="#ffffff" stroke-width="2.1" opacity="0.9"/></g>
<path d="M189.9,788.2 L174.2,809.4 L165.7,805.3 L172.8,779.8 L188.4,758.6 L197.0,762.7 Z" fill="none" stroke="#6e6e6e" stroke-width="7.8" stroke-linejoin="round"/><path d="M189.9,788.2 L174.2,809.4 L165.7,805.3 L172.8,779.8 L188.4,758.6 L197.0,762.7 Z" fill="none" stroke="#b4b4b4" stroke-width="6.0" stroke-linejoin="round"/>
<line x1="174.2" y1="808.4" x2="165.7" y2="804.3" stroke="#f4f4f4" stroke-width="2.1" stroke-linecap="round" opacity="0.85"/>
<line x1="188.4" y1="757.6" x2="197.0" y2="761.7" stroke="#f4f4f4" stroke-width="2.1" stroke-linecap="round" opacity="0.85"/>
<line x1="189.9" y1="787.2" x2="174.2" y2="808.4" stroke="#f4f4f4" stroke-width="2.1" stroke-linecap="round" opacity="0.85"/>
<line x1="172.8" y1="778.8" x2="188.4" y2="757.6" stroke="#f4f4f4" stroke-width="2.1" stroke-linecap="round" opacity="0.85"/>
</g>
<g opacity="0.9">
<g opacity="1.0" stroke-linecap="round"><line x1="129.5" y1="836.4" x2="127.6" y2="844.2" stroke="#888" stroke-width="7.4"/><line x1="129.5" y1="836.4" x2="127.6" y2="844.2" stroke="#eeeeee" stroke-width="5.6"/><line x1="128.5" y1="836.2" x2="126.5" y2="843.9" stroke="#ffffff" stroke-width="2.1" opacity="0.9"/></g>
<g opacity="1.0" stroke-linecap="round"><line x1="121.4" y1="832.5" x2="116.6" y2="838.8" stroke="#888" stroke-width="7.4"/><line x1="121.4" y1="832.5" x2="116.6" y2="838.8" stroke="#eeeeee" stroke-width="5.6"/><line x1="120.6" y1="831.8" x2="115.7" y2="838.1" stroke="#ffffff" stroke-width="2.1" opacity="0.9"/></g>
<g opacity="1.0" stroke-linecap="round"><line x1="140.4" y1="793.6" x2="142.4" y2="785.8" stroke="#888" stroke-width="7.4"/><line x1="140.4" y1="793.6" x2="142.4" y2="785.8" stroke="#eeeeee" stroke-width="5.6"/><line x1="139.3" y1="793.3" x2="141.3" y2="785.5" stroke="#ffffff" stroke-width="2.1" opacity="0.9"/></g>
<g opacity="1.0" stroke-linecap="round"><line x1="148.5" y1="797.5" x2="153.4" y2="791.2" stroke="#888" stroke-width="7.4"/><line x1="148.5" y1="797.5" x2="153.4" y2="791.2" stroke="#eeeeee" stroke-width="5.6"/><line x1="147.6" y1="796.8" x2="152.5" y2="790.5" stroke="#ffffff" stroke-width="2.1" opacity="0.9"/></g>
<path d="M143.1,818.9 L129.5,836.4 L121.4,832.5 L126.9,811.1 L140.4,793.6 L148.5,797.5 Z" fill="none" stroke="#7a7a7a" stroke-width="7.6" stroke-linejoin="round"/><path d="M143.1,818.9 L129.5,836.4 L121.4,832.5 L126.9,811.1 L140.4,793.6 L148.5,797.5 Z" fill="none" stroke="#bcbcbc" stroke-width="5.8" stroke-linejoin="round"/>
<line x1="129.5" y1="835.4" x2="121.4" y2="831.5" stroke="#f4f4f4" stroke-width="2.0" stroke-linecap="round" opacity="0.85"/>
<line x1="140.4" y1="792.6" x2="148.5" y2="796.5" stroke="#f4f4f4" stroke-width="2.0" stroke-linecap="round" opacity="0.85"/>
<line x1="143.1" y1="817.9" x2="129.5" y2="835.4" stroke="#f4f4f4" stroke-width="2.0" stroke-linecap="round" opacity="0.85"/>
<line x1="126.9" y1="810.1" x2="140.4" y2="792.6" stroke="#f4f4f4" stroke-width="2.0" stroke-linecap="round" opacity="0.85"/>
</g>
<g opacity="0.95">
<g opacity="1.0" stroke-linecap="round"><line x1="208.2" y1="856.4" x2="206.0" y2="864.1" stroke="#888" stroke-width="7.4"/><line x1="208.2" y1="856.4" x2="206.0" y2="864.1" stroke="#eaeaea" stroke-width="5.6"/><line x1="207.1" y1="856.1" x2="204.9" y2="863.8" stroke="#ffffff" stroke-width="2.1" opacity="0.9"/></g>
<g opacity="1.0" stroke-linecap="round"><line x1="199.6" y1="852.3" x2="194.9" y2="858.7" stroke="#888" stroke-width="7.4"/><line x1="199.6" y1="852.3" x2="194.9" y2="858.7" stroke="#eaeaea" stroke-width="5.6"/><line x1="198.7" y1="851.6" x2="194.0" y2="858.0" stroke="#ffffff" stroke-width="2.1" opacity="0.9"/></g>
<g opacity="1.0" stroke-linecap="round"><line x1="222.4" y1="805.6" x2="224.6" y2="797.9" stroke="#888" stroke-width="7.4"/><line x1="222.4" y1="805.6" x2="224.6" y2="797.9" stroke="#eaeaea" stroke-width="5.6"/><line x1="221.3" y1="805.3" x2="223.5" y2="797.6" stroke="#ffffff" stroke-width="2.1" opacity="0.9"/></g>
<g opacity="1.0" stroke-linecap="round"><line x1="230.9" y1="809.7" x2="235.7" y2="803.3" stroke="#888" stroke-width="7.4"/><line x1="230.9" y1="809.7" x2="235.7" y2="803.3" stroke="#eaeaea" stroke-width="5.6"/><line x1="230.0" y1="809.1" x2="234.8" y2="802.6" stroke="#ffffff" stroke-width="2.1" opacity="0.9"/></g>
<path d="M223.8,835.2 L208.2,856.4 L199.6,852.3 L206.7,826.8 L222.4,805.6 L230.9,809.7 Z" fill="none" stroke="#6e6e6e" stroke-width="7.8" stroke-linejoin="round"/><path d="M223.8,835.2 L208.2,856.4 L199.6,852.3 L206.7,826.8 L222.4,805.6 L230.9,809.7 Z" fill="none" stroke="#b4b4b4" stroke-width="6.0" stroke-linejoin="round"/>
<line x1="208.2" y1="855.4" x2="199.6" y2="851.3" stroke="#f4f4f4" stroke-width="2.1" stroke-linecap="round" opacity="0.85"/>
<line x1="222.4" y1="804.6" x2="230.9" y2="808.7" stroke="#f4f4f4" stroke-width="2.1" stroke-linecap="round" opacity="0.85"/>
<line x1="223.8" y1="834.2" x2="208.2" y2="855.4" stroke="#f4f4f4" stroke-width="2.1" stroke-linecap="round" opacity="0.85"/>
<line x1="206.7" y1="825.8" x2="222.4" y2="804.6" stroke="#f4f4f4" stroke-width="2.1" stroke-linecap="round" opacity="0.85"/>
</g>
<g opacity="0.9">
<g opacity="1.0" stroke-linecap="round"><line x1="172.3" y1="883.4" x2="170.4" y2="891.2" stroke="#888" stroke-width="7.4"/><line x1="172.3" y1="883.4" x2="170.4" y2="891.2" stroke="#eeeeee" stroke-width="5.6"/><line x1="171.2" y1="883.2" x2="169.3" y2="890.9" stroke="#ffffff" stroke-width="2.1" opacity="0.9"/></g>
<g opacity="1.0" stroke-linecap="round"><line x1="164.2" y1="879.5" x2="159.3" y2="885.8" stroke="#888" stroke-width="7.4"/><line x1="164.2" y1="879.5" x2="159.3" y2="885.8" stroke="#eeeeee" stroke-width="5.6"/><line x1="163.4" y1="878.8" x2="158.5" y2="885.1" stroke="#ffffff" stroke-width="2.1" opacity="0.9"/></g>
<g opacity="1.0" stroke-linecap="round"><line x1="183.2" y1="840.6" x2="185.2" y2="832.8" stroke="#888" stroke-width="7.4"/><line x1="183.2" y1="840.6" x2="185.2" y2="832.8" stroke="#eeeeee" stroke-width="5.6"/><line x1="182.1" y1="840.3" x2="184.1" y2="832.5" stroke="#ffffff" stroke-width="2.1" opacity="0.9"/></g>
<g opacity="1.0" stroke-linecap="round"><line x1="191.3" y1="844.5" x2="196.2" y2="838.2" stroke="#888" stroke-width="7.4"/><line x1="191.3" y1="844.5" x2="196.2" y2="838.2" stroke="#eeeeee" stroke-width="5.6"/><line x1="190.4" y1="843.8" x2="195.3" y2="837.5" stroke="#ffffff" stroke-width="2.1" opacity="0.9"/></g>
<path d="M185.9,865.9 L172.3,883.4 L164.2,879.5 L169.7,858.1 L183.2,840.6 L191.3,844.5 Z" fill="none" stroke="#7a7a7a" stroke-width="7.6" stroke-linejoin="round"/><path d="M185.9,865.9 L172.3,883.4 L164.2,879.5 L169.7,858.1 L183.2,840.6 L191.3,844.5 Z" fill="none" stroke="#bcbcbc" stroke-width="5.8" stroke-linejoin="round"/>
<line x1="172.3" y1="882.4" x2="164.2" y2="878.5" stroke="#f4f4f4" stroke-width="2.0" stroke-linecap="round" opacity="0.85"/>
<line x1="183.2" y1="839.6" x2="191.3" y2="843.5" stroke="#f4f4f4" stroke-width="2.0" stroke-linecap="round" opacity="0.85"/>
<line x1="185.9" y1="864.9" x2="172.3" y2="882.4" stroke="#f4f4f4" stroke-width="2.0" stroke-linecap="round" opacity="0.85"/>
<line x1="169.7" y1="857.1" x2="183.2" y2="839.6" stroke="#f4f4f4" stroke-width="2.0" stroke-linecap="round" opacity="0.85"/>
</g>
<line x1="43.5" y1="794.0" x2="224.0" y2="794.0" stroke="#2c2c2c" stroke-width="6.5" stroke-linecap="round"/>
<line x1="45.5" y1="794.0" x2="222.0" y2="794.0" stroke="#6a6a6a" stroke-width="3" stroke-linecap="round"/>
<g opacity="1.0" stroke-linecap="round"><line x1="37.5" y1="789.5" x2="228.0" y2="789.5" stroke="#2a2a2a" stroke-width="9.6"/><line x1="37.5" y1="789.5" x2="228.0" y2="789.5" stroke="#8e8e8e" stroke-width="7.8"/><line x1="37.5" y1="787.9" x2="228.0" y2="787.9" stroke="#ffffff" stroke-width="3.0" opacity="0.9"/></g>
<rect x="58.6" y="786.0" width="5" height="7" fill="#4a4a4a" opacity="0.6"/>
<rect x="78.5" y="786.0" width="5" height="7" fill="#4a4a4a" opacity="0.6"/>
<rect x="100.1" y="786.0" width="5" height="7" fill="#4a4a4a" opacity="0.6"/>
<rect x="122.1" y="786.0" width="5" height="7" fill="#4a4a4a" opacity="0.6"/>
<rect x="139.4" y="786.0" width="5" height="7" fill="#4a4a4a" opacity="0.6"/>
<rect x="162.8" y="786.0" width="5" height="7" fill="#4a4a4a" opacity="0.6"/>
<rect x="185.6" y="786.0" width="5" height="7" fill="#4a4a4a" opacity="0.6"/>
<rect x="206.6" y="786.0" width="5" height="7" fill="#4a4a4a" opacity="0.6"/>
<rect x="44.5" y="786.0" width="7" height="7.5" fill="#3d62e8"/><rect x="44.5" y="787.2" width="7" height="2" fill="#8aa4ff"/>
<rect x="215.0" y="786.0" width="7" height="7.5" fill="#3d62e8"/><rect x="215.0" y="787.2" width="7" height="2" fill="#8aa4ff"/>
<ellipse cx="55.5" cy="789.0" rx="6" ry="4.6" fill="#d40000"/><ellipse cx="54.0" cy="787.2" rx="2.4" ry="1.5" fill="#ff8080"/>
<ellipse cx="116.7" cy="789.0" rx="6" ry="4.6" fill="#d40000"/><ellipse cx="115.2" cy="787.2" rx="2.4" ry="1.5" fill="#ff8080"/>
<ellipse cx="203.0" cy="789.0" rx="6" ry="4.6" fill="#d40000"/><ellipse cx="201.5" cy="787.2" rx="2.4" ry="1.5" fill="#ff8080"/>
<g opacity="1.0" stroke-linecap="round"><line x1="32.5" y1="790.0" x2="28.5" y2="776.0" stroke="#7a7a7a" stroke-width="8.0"/><line x1="32.5" y1="790.0" x2="28.5" y2="776.0" stroke="#e2e2e2" stroke-width="6.2"/><line x1="33.7" y1="789.7" x2="29.7" y2="775.7" stroke="#ffffff" stroke-width="2.4" opacity="0.9"/></g>
<g opacity="1.0" stroke-linecap="round"><line x1="32.5" y1="790.0" x2="28.5" y2="804.0" stroke="#7a7a7a" stroke-width="8.0"/><line x1="32.5" y1="790.0" x2="28.5" y2="804.0" stroke="#e2e2e2" stroke-width="6.2"/><line x1="31.3" y1="789.7" x2="27.3" y2="803.7" stroke="#ffffff" stroke-width="2.4" opacity="0.9"/></g>
<g opacity="1.0" stroke-linecap="round"><line x1="38.5" y1="790.0" x2="25.5" y2="790.0" stroke="#7a7a7a" stroke-width="8.0"/><line x1="38.5" y1="790.0" x2="25.5" y2="790.0" stroke="#e2e2e2" stroke-width="6.2"/><line x1="38.5" y1="788.8" x2="25.5" y2="788.8" stroke="#ffffff" stroke-width="2.4" opacity="0.9"/></g>
<circle cx="33.5" cy="790.0" r="4" fill="#5a5a5a"/>
<g opacity="1.0" stroke-linecap="round"><line x1="233.0" y1="790.0" x2="237.0" y2="776.0" stroke="#7a7a7a" stroke-width="8.0"/><line x1="233.0" y1="790.0" x2="237.0" y2="776.0" stroke="#e2e2e2" stroke-width="6.2"/><line x1="231.8" y1="789.7" x2="235.8" y2="775.7" stroke="#ffffff" stroke-width="2.4" opacity="0.9"/></g>
<g opacity="1.0" stroke-linecap="round"><line x1="233.0" y1="790.0" x2="237.0" y2="804.0" stroke="#7a7a7a" stroke-width="8.0"/><line x1="233.0" y1="790.0" x2="237.0" y2="804.0" stroke="#e2e2e2" stroke-width="6.2"/><line x1="234.2" y1="789.7" x2="238.2" y2="803.7" stroke="#ffffff" stroke-width="2.4" opacity="0.9"/></g>
<g opacity="1.0" stroke-linecap="round"><line x1="227.0" y1="790.0" x2="240.0" y2="790.0" stroke="#7a7a7a" stroke-width="8.0"/><line x1="227.0" y1="790.0" x2="240.0" y2="790.0" stroke="#e2e2e2" stroke-width="6.2"/><line x1="227.0" y1="788.8" x2="240.0" y2="788.8" stroke="#ffffff" stroke-width="2.4" opacity="0.9"/></g>
<circle cx="232.0" cy="790.0" r="4" fill="#5a5a5a"/>
<g opacity="1.0">
<g opacity="1.0" stroke-linecap="round"><line x1="76.0" y1="817.6" x2="73.6" y2="825.3" stroke="#888" stroke-width="7.4"/><line x1="76.0" y1="817.6" x2="73.6" y2="825.3" stroke="#e4e4e4" stroke-width="5.6"/><line x1="74.9" y1="817.3" x2="72.6" y2="824.9" stroke="#ffffff" stroke-width="2.1" opacity="0.9"/></g>
<g opacity="1.0" stroke-linecap="round"><line x1="66.0" y1="811.9" x2="60.6" y2="817.7" stroke="#888" stroke-width="7.4"/><line x1="66.0" y1="811.9" x2="60.6" y2="817.7" stroke="#e4e4e4" stroke-width="5.6"/><line x1="65.2" y1="811.1" x2="59.8" y2="817.0" stroke="#ffffff" stroke-width="2.1" opacity="0.9"/></g>
<g opacity="1.0" stroke-linecap="round"><line x1="91.1" y1="768.4" x2="93.5" y2="760.7" stroke="#888" stroke-width="7.4"/><line x1="91.1" y1="768.4" x2="93.5" y2="760.7" stroke="#e4e4e4" stroke-width="5.6"/><line x1="90.1" y1="768.0" x2="92.4" y2="760.4" stroke="#ffffff" stroke-width="2.1" opacity="0.9"/></g>
<g opacity="1.0" stroke-linecap="round"><line x1="101.1" y1="774.1" x2="106.5" y2="768.3" stroke="#888" stroke-width="7.4"/><line x1="101.1" y1="774.1" x2="106.5" y2="768.3" stroke="#e4e4e4" stroke-width="5.6"/><line x1="100.3" y1="773.4" x2="105.7" y2="767.5" stroke="#ffffff" stroke-width="2.1" opacity="0.9"/></g>
<path d="M93.5,798.8 L76.0,817.6 L66.0,811.9 L73.6,787.2 L91.1,768.4 L101.1,774.1 Z" fill="none" stroke="#222222" stroke-width="8.3" stroke-linejoin="round"/><path d="M93.5,798.8 L76.0,817.6 L66.0,811.9 L73.6,787.2 L91.1,768.4 L101.1,774.1 Z" fill="none" stroke="#7e7e7e" stroke-width="6.5" stroke-linejoin="round"/>
<line x1="76.0" y1="816.6" x2="66.0" y2="810.9" stroke="#f4f4f4" stroke-width="2.3" stroke-linecap="round" opacity="0.85"/>
<line x1="91.1" y1="767.4" x2="101.1" y2="773.1" stroke="#f4f4f4" stroke-width="2.3" stroke-linecap="round" opacity="0.85"/>
<line x1="93.5" y1="797.8" x2="76.0" y2="816.6" stroke="#f4f4f4" stroke-width="2.3" stroke-linecap="round" opacity="0.85"/>
<line x1="73.6" y1="786.2" x2="91.1" y2="767.4" stroke="#f4f4f4" stroke-width="2.3" stroke-linecap="round" opacity="0.85"/>
</g>
<line x1="86.0" y1="841.0" x2="267.0" y2="841.0" stroke="#2c2c2c" stroke-width="6.5" stroke-linecap="round"/>
<line x1="88.0" y1="841.0" x2="265.0" y2="841.0" stroke="#6a6a6a" stroke-width="3" stroke-linecap="round"/>
<g opacity="1.0" stroke-linecap="round"><line x1="80.0" y1="836.5" x2="271.0" y2="836.5" stroke="#2a2a2a" stroke-width="9.6"/><line x1="80.0" y1="836.5" x2="271.0" y2="836.5" stroke="#8e8e8e" stroke-width="7.8"/><line x1="80.0" y1="834.9" x2="271.0" y2="834.9" stroke="#ffffff" stroke-width="3.0" opacity="0.9"/></g>
<rect x="96.7" y="833.0" width="5" height="7" fill="#4a4a4a" opacity="0.6"/>
<rect x="121.1" y="833.0" width="5" height="7" fill="#4a4a4a" opacity="0.6"/>
<rect x="142.0" y="833.0" width="5" height="7" fill="#4a4a4a" opacity="0.6"/>
<rect x="162.3" y="833.0" width="5" height="7" fill="#4a4a4a" opacity="0.6"/>
<rect x="181.9" y="833.0" width="5" height="7" fill="#4a4a4a" opacity="0.6"/>
<rect x="206.6" y="833.0" width="5" height="7" fill="#4a4a4a" opacity="0.6"/>
<rect x="227.9" y="833.0" width="5" height="7" fill="#4a4a4a" opacity="0.6"/>
<rect x="247.4" y="833.0" width="5" height="7" fill="#4a4a4a" opacity="0.6"/>
<rect x="87.0" y="833.0" width="7" height="7.5" fill="#3d62e8"/><rect x="87.0" y="834.2" width="7" height="2" fill="#8aa4ff"/>
<rect x="258.0" y="833.0" width="7" height="7.5" fill="#3d62e8"/><rect x="258.0" y="834.2" width="7" height="2" fill="#8aa4ff"/>
<ellipse cx="98.0" cy="836.0" rx="6" ry="4.6" fill="#d40000"/><ellipse cx="96.5" cy="834.2" rx="2.4" ry="1.5" fill="#ff8080"/>
<ellipse cx="158.1" cy="836.0" rx="6" ry="4.6" fill="#d40000"/><ellipse cx="156.6" cy="834.2" rx="2.4" ry="1.5" fill="#ff8080"/>
<ellipse cx="246.0" cy="836.0" rx="6" ry="4.6" fill="#d40000"/><ellipse cx="244.5" cy="834.2" rx="2.4" ry="1.5" fill="#ff8080"/>
<g opacity="1.0" stroke-linecap="round"><line x1="75.0" y1="837.0" x2="71.0" y2="823.0" stroke="#7a7a7a" stroke-width="8.0"/><line x1="75.0" y1="837.0" x2="71.0" y2="823.0" stroke="#e2e2e2" stroke-width="6.2"/><line x1="76.2" y1="836.7" x2="72.2" y2="822.7" stroke="#ffffff" stroke-width="2.4" opacity="0.9"/></g>
<g opacity="1.0" stroke-linecap="round"><line x1="75.0" y1="837.0" x2="71.0" y2="851.0" stroke="#7a7a7a" stroke-width="8.0"/><line x1="75.0" y1="837.0" x2="71.0" y2="851.0" stroke="#e2e2e2" stroke-width="6.2"/><line x1="73.8" y1="836.7" x2="69.8" y2="850.7" stroke="#ffffff" stroke-width="2.4" opacity="0.9"/></g>
<g opacity="1.0" stroke-linecap="round"><line x1="81.0" y1="837.0" x2="68.0" y2="837.0" stroke="#7a7a7a" stroke-width="8.0"/><line x1="81.0" y1="837.0" x2="68.0" y2="837.0" stroke="#e2e2e2" stroke-width="6.2"/><line x1="81.0" y1="835.8" x2="68.0" y2="835.8" stroke="#ffffff" stroke-width="2.4" opacity="0.9"/></g>
<circle cx="76.0" cy="837.0" r="4" fill="#5a5a5a"/>
<g opacity="1.0" stroke-linecap="round"><line x1="276.0" y1="837.0" x2="280.0" y2="823.0" stroke="#7a7a7a" stroke-width="8.0"/><line x1="276.0" y1="837.0" x2="280.0" y2="823.0" stroke="#e2e2e2" stroke-width="6.2"/><line x1="274.8" y1="836.7" x2="278.8" y2="822.7" stroke="#ffffff" stroke-width="2.4" opacity="0.9"/></g>
<g opacity="1.0" stroke-linecap="round"><line x1="276.0" y1="837.0" x2="280.0" y2="851.0" stroke="#7a7a7a" stroke-width="8.0"/><line x1="276.0" y1="837.0" x2="280.0" y2="851.0" stroke="#e2e2e2" stroke-width="6.2"/><line x1="277.2" y1="836.7" x2="281.2" y2="850.7" stroke="#ffffff" stroke-width="2.4" opacity="0.9"/></g>
<g opacity="1.0" stroke-linecap="round"><line x1="270.0" y1="837.0" x2="283.0" y2="837.0" stroke="#7a7a7a" stroke-width="8.0"/><line x1="270.0" y1="837.0" x2="283.0" y2="837.0" stroke="#e2e2e2" stroke-width="6.2"/><line x1="270.0" y1="835.8" x2="283.0" y2="835.8" stroke="#ffffff" stroke-width="2.4" opacity="0.9"/></g>
<circle cx="275.0" cy="837.0" r="4" fill="#5a5a5a"/>
<g opacity="1.0">
<g opacity="1.0" stroke-linecap="round"><line x1="119.3" y1="864.6" x2="116.9" y2="872.3" stroke="#888" stroke-width="7.4"/><line x1="119.3" y1="864.6" x2="116.9" y2="872.3" stroke="#e4e4e4" stroke-width="5.6"/><line x1="118.2" y1="864.3" x2="115.9" y2="871.9" stroke="#ffffff" stroke-width="2.1" opacity="0.9"/></g>
<g opacity="1.0" stroke-linecap="round"><line x1="109.3" y1="858.9" x2="103.9" y2="864.7" stroke="#888" stroke-width="7.4"/><line x1="109.3" y1="858.9" x2="103.9" y2="864.7" stroke="#e4e4e4" stroke-width="5.6"/><line x1="108.5" y1="858.1" x2="103.1" y2="864.0" stroke="#ffffff" stroke-width="2.1" opacity="0.9"/></g>
<g opacity="1.0" stroke-linecap="round"><line x1="134.4" y1="815.4" x2="136.8" y2="807.7" stroke="#888" stroke-width="7.4"/><line x1="134.4" y1="815.4" x2="136.8" y2="807.7" stroke="#e4e4e4" stroke-width="5.6"/><line x1="133.4" y1="815.0" x2="135.7" y2="807.4" stroke="#ffffff" stroke-width="2.1" opacity="0.9"/></g>
<g opacity="1.0" stroke-linecap="round"><line x1="144.4" y1="821.1" x2="149.9" y2="815.3" stroke="#888" stroke-width="7.4"/><line x1="144.4" y1="821.1" x2="149.9" y2="815.3" stroke="#e4e4e4" stroke-width="5.6"/><line x1="143.6" y1="820.4" x2="149.0" y2="814.5" stroke="#ffffff" stroke-width="2.1" opacity="0.9"/></g>
<path d="M136.8,845.8 L119.3,864.6 L109.3,858.9 L116.9,834.2 L134.4,815.4 L144.4,821.1 Z" fill="none" stroke="#222222" stroke-width="8.3" stroke-linejoin="round"/><path d="M136.8,845.8 L119.3,864.6 L109.3,858.9 L116.9,834.2 L134.4,815.4 L144.4,821.1 Z" fill="none" stroke="#7e7e7e" stroke-width="6.5" stroke-linejoin="round"/>
<line x1="119.3" y1="863.6" x2="109.3" y2="857.9" stroke="#f4f4f4" stroke-width="2.3" stroke-linecap="round" opacity="0.85"/>
<line x1="134.4" y1="814.4" x2="144.4" y2="820.1" stroke="#f4f4f4" stroke-width="2.3" stroke-linecap="round" opacity="0.85"/>
<line x1="136.8" y1="844.8" x2="119.3" y2="863.6" stroke="#f4f4f4" stroke-width="2.3" stroke-linecap="round" opacity="0.85"/>
<line x1="116.9" y1="833.2" x2="134.4" y2="814.4" stroke="#f4f4f4" stroke-width="2.3" stroke-linecap="round" opacity="0.85"/>
</g>
<g opacity="0.95">
<g opacity="1.0" stroke-linecap="round"><line x1="371.1" y1="636.0" x2="368.9" y2="643.7" stroke="#888" stroke-width="7.4"/><line x1="371.1" y1="636.0" x2="368.9" y2="643.7" stroke="#eaeaea" stroke-width="5.6"/><line x1="370.0" y1="635.7" x2="367.9" y2="643.4" stroke="#ffffff" stroke-width="2.1" opacity="0.9"/></g>
<g opacity="1.0" stroke-linecap="round"><line x1="362.6" y1="631.9" x2="357.8" y2="638.3" stroke="#888" stroke-width="7.4"/><line x1="362.6" y1="631.9" x2="357.8" y2="638.3" stroke="#eaeaea" stroke-width="5.6"/><line x1="361.7" y1="631.2" x2="356.9" y2="637.6" stroke="#ffffff" stroke-width="2.1" opacity="0.9"/></g>
<g opacity="1.0" stroke-linecap="round"><line x1="385.3" y1="585.2" x2="387.5" y2="577.5" stroke="#888" stroke-width="7.4"/><line x1="385.3" y1="585.2" x2="387.5" y2="577.5" stroke="#eaeaea" stroke-width="5.6"/><line x1="384.3" y1="584.9" x2="386.4" y2="577.2" stroke="#ffffff" stroke-width="2.1" opacity="0.9"/></g>
<g opacity="1.0" stroke-linecap="round"><line x1="393.9" y1="589.3" x2="398.6" y2="582.9" stroke="#888" stroke-width="7.4"/><line x1="393.9" y1="589.3" x2="398.6" y2="582.9" stroke="#eaeaea" stroke-width="5.6"/><line x1="393.0" y1="588.7" x2="397.7" y2="582.2" stroke="#ffffff" stroke-width="2.1" opacity="0.9"/></g>
<path d="M386.7,614.8 L371.1,636.0 L362.6,631.9 L369.7,606.4 L385.3,585.2 L393.9,589.3 Z" fill="none" stroke="#6e6e6e" stroke-width="7.8" stroke-linejoin="round"/><path d="M386.7,614.8 L371.1,636.0 L362.6,631.9 L369.7,606.4 L385.3,585.2 L393.9,589.3 Z" fill="none" stroke="#b4b4b4" stroke-width="6.0" stroke-linejoin="round"/>
<line x1="371.1" y1="635.0" x2="362.6" y2="630.9" stroke="#f4f4f4" stroke-width="2.1" stroke-linecap="round" opacity="0.85"/>
<line x1="385.3" y1="584.2" x2="393.9" y2="588.3" stroke="#f4f4f4" stroke-width="2.1" stroke-linecap="round" opacity="0.85"/>
<line x1="386.7" y1="613.8" x2="371.1" y2="635.0" stroke="#f4f4f4" stroke-width="2.1" stroke-linecap="round" opacity="0.85"/>
<line x1="369.7" y1="605.4" x2="385.3" y2="584.2" stroke="#f4f4f4" stroke-width="2.1" stroke-linecap="round" opacity="0.85"/>
</g>
<g opacity="0.9">
<g opacity="1.0" stroke-linecap="round"><line x1="320.3" y1="663.0" x2="318.4" y2="670.8" stroke="#888" stroke-width="7.4"/><line x1="320.3" y1="663.0" x2="318.4" y2="670.8" stroke="#eeeeee" stroke-width="5.6"/><line x1="319.3" y1="662.8" x2="317.3" y2="670.5" stroke="#ffffff" stroke-width="2.1" opacity="0.9"/></g>
<g opacity="1.0" stroke-linecap="round"><line x1="312.3" y1="659.1" x2="307.4" y2="665.4" stroke="#888" stroke-width="7.4"/><line x1="312.3" y1="659.1" x2="307.4" y2="665.4" stroke="#eeeeee" stroke-width="5.6"/><line x1="311.4" y1="658.4" x2="306.5" y2="664.7" stroke="#ffffff" stroke-width="2.1" opacity="0.9"/></g>
<g opacity="1.0" stroke-linecap="round"><line x1="331.2" y1="620.2" x2="333.2" y2="612.4" stroke="#888" stroke-width="7.4"/><line x1="331.2" y1="620.2" x2="333.2" y2="612.4" stroke="#eeeeee" stroke-width="5.6"/><line x1="330.2" y1="619.9" x2="332.1" y2="612.1" stroke="#ffffff" stroke-width="2.1" opacity="0.9"/></g>
<g opacity="1.0" stroke-linecap="round"><line x1="339.3" y1="624.1" x2="344.2" y2="617.8" stroke="#888" stroke-width="7.4"/><line x1="339.3" y1="624.1" x2="344.2" y2="617.8" stroke="#eeeeee" stroke-width="5.6"/><line x1="338.4" y1="623.4" x2="343.3" y2="617.1" stroke="#ffffff" stroke-width="2.1" opacity="0.9"/></g>
<path d="M333.9,645.5 L320.3,663.0 L312.3,659.1 L317.7,637.7 L331.2,620.2 L339.3,624.1 Z" fill="none" stroke="#7a7a7a" stroke-width="7.6" stroke-linejoin="round"/><path d="M333.9,645.5 L320.3,663.0 L312.3,659.1 L317.7,637.7 L331.2,620.2 L339.3,624.1 Z" fill="none" stroke="#bcbcbc" stroke-width="5.8" stroke-linejoin="round"/>
<line x1="320.3" y1="662.0" x2="312.3" y2="658.1" stroke="#f4f4f4" stroke-width="2.0" stroke-linecap="round" opacity="0.85"/>
<line x1="331.2" y1="619.2" x2="339.3" y2="623.1" stroke="#f4f4f4" stroke-width="2.0" stroke-linecap="round" opacity="0.85"/>
<line x1="333.9" y1="644.5" x2="320.3" y2="662.0" stroke="#f4f4f4" stroke-width="2.0" stroke-linecap="round" opacity="0.85"/>
<line x1="317.7" y1="636.7" x2="331.2" y2="619.2" stroke="#f4f4f4" stroke-width="2.0" stroke-linecap="round" opacity="0.85"/>
</g>
<g opacity="0.95">
<g opacity="1.0" stroke-linecap="round"><line x1="416.3" y1="688.4" x2="414.1" y2="696.1" stroke="#888" stroke-width="7.4"/><line x1="416.3" y1="688.4" x2="414.1" y2="696.1" stroke="#eaeaea" stroke-width="5.6"/><line x1="415.2" y1="688.1" x2="413.1" y2="695.8" stroke="#ffffff" stroke-width="2.1" opacity="0.9"/></g>
<g opacity="1.0" stroke-linecap="round"><line x1="407.8" y1="684.3" x2="403.0" y2="690.7" stroke="#888" stroke-width="7.4"/><line x1="407.8" y1="684.3" x2="403.0" y2="690.7" stroke="#eaeaea" stroke-width="5.6"/><line x1="406.9" y1="683.6" x2="402.1" y2="690.0" stroke="#ffffff" stroke-width="2.1" opacity="0.9"/></g>
<g opacity="1.0" stroke-linecap="round"><line x1="430.5" y1="637.6" x2="432.7" y2="629.9" stroke="#888" stroke-width="7.4"/><line x1="430.5" y1="637.6" x2="432.7" y2="629.9" stroke="#eaeaea" stroke-width="5.6"/><line x1="429.5" y1="637.3" x2="431.6" y2="629.6" stroke="#ffffff" stroke-width="2.1" opacity="0.9"/></g>
<g opacity="1.0" stroke-linecap="round"><line x1="439.1" y1="641.7" x2="443.8" y2="635.3" stroke="#888" stroke-width="7.4"/><line x1="439.1" y1="641.7" x2="443.8" y2="635.3" stroke="#eaeaea" stroke-width="5.6"/><line x1="438.2" y1="641.1" x2="442.9" y2="634.6" stroke="#ffffff" stroke-width="2.1" opacity="0.9"/></g>
<path d="M432.0,667.2 L416.3,688.4 L407.8,684.3 L414.9,658.8 L430.5,637.6 L439.1,641.7 Z" fill="none" stroke="#6e6e6e" stroke-width="7.8" stroke-linejoin="round"/><path d="M432.0,667.2 L416.3,688.4 L407.8,684.3 L414.9,658.8 L430.5,637.6 L439.1,641.7 Z" fill="none" stroke="#b4b4b4" stroke-width="6.0" stroke-linejoin="round"/>
<line x1="416.3" y1="687.4" x2="407.8" y2="683.3" stroke="#f4f4f4" stroke-width="2.1" stroke-linecap="round" opacity="0.85"/>
<line x1="430.5" y1="636.6" x2="439.1" y2="640.7" stroke="#f4f4f4" stroke-width="2.1" stroke-linecap="round" opacity="0.85"/>
<line x1="432.0" y1="666.2" x2="416.3" y2="687.4" stroke="#f4f4f4" stroke-width="2.1" stroke-linecap="round" opacity="0.85"/>
<line x1="414.9" y1="657.8" x2="430.5" y2="636.6" stroke="#f4f4f4" stroke-width="2.1" stroke-linecap="round" opacity="0.85"/>
</g>
<g opacity="0.9">
<g opacity="1.0" stroke-linecap="round"><line x1="372.1" y1="715.4" x2="370.1" y2="723.2" stroke="#888" stroke-width="7.4"/><line x1="372.1" y1="715.4" x2="370.1" y2="723.2" stroke="#eeeeee" stroke-width="5.6"/><line x1="371.0" y1="715.2" x2="369.0" y2="722.9" stroke="#ffffff" stroke-width="2.1" opacity="0.9"/></g>
<g opacity="1.0" stroke-linecap="round"><line x1="364.0" y1="711.5" x2="359.1" y2="717.8" stroke="#888" stroke-width="7.4"/><line x1="364.0" y1="711.5" x2="359.1" y2="717.8" stroke="#eeeeee" stroke-width="5.6"/><line x1="363.1" y1="710.8" x2="358.2" y2="717.1" stroke="#ffffff" stroke-width="2.1" opacity="0.9"/></g>
<g opacity="1.0" stroke-linecap="round"><line x1="383.0" y1="672.6" x2="384.9" y2="664.8" stroke="#888" stroke-width="7.4"/><line x1="383.0" y1="672.6" x2="384.9" y2="664.8" stroke="#eeeeee" stroke-width="5.6"/><line x1="381.9" y1="672.3" x2="383.9" y2="664.5" stroke="#ffffff" stroke-width="2.1" opacity="0.9"/></g>
<g opacity="1.0" stroke-linecap="round"><line x1="391.1" y1="676.5" x2="396.0" y2="670.2" stroke="#888" stroke-width="7.4"/><line x1="391.1" y1="676.5" x2="396.0" y2="670.2" stroke="#eeeeee" stroke-width="5.6"/><line x1="390.2" y1="675.8" x2="395.1" y2="669.5" stroke="#ffffff" stroke-width="2.1" opacity="0.9"/></g>
<path d="M385.6,697.9 L372.1,715.4 L364.0,711.5 L369.4,690.1 L383.0,672.6 L391.1,676.5 Z" fill="none" stroke="#7a7a7a" stroke-width="7.6" stroke-linejoin="round"/><path d="M385.6,697.9 L372.1,715.4 L364.0,711.5 L369.4,690.1 L383.0,672.6 L391.1,676.5 Z" fill="none" stroke="#bcbcbc" stroke-width="5.8" stroke-linejoin="round"/>
<line x1="372.1" y1="714.4" x2="364.0" y2="710.5" stroke="#f4f4f4" stroke-width="2.0" stroke-linecap="round" opacity="0.85"/>
<line x1="383.0" y1="671.6" x2="391.1" y2="675.5" stroke="#f4f4f4" stroke-width="2.0" stroke-linecap="round" opacity="0.85"/>
<line x1="385.6" y1="696.9" x2="372.1" y2="714.4" stroke="#f4f4f4" stroke-width="2.0" stroke-linecap="round" opacity="0.85"/>
<line x1="369.4" y1="689.1" x2="383.0" y2="671.6" stroke="#f4f4f4" stroke-width="2.0" stroke-linecap="round" opacity="0.85"/>
</g>
<g opacity="0.95">
<g opacity="1.0" stroke-linecap="round"><line x1="474.1" y1="741.9" x2="471.9" y2="749.6" stroke="#888" stroke-width="7.4"/><line x1="474.1" y1="741.9" x2="471.9" y2="749.6" stroke="#eaeaea" stroke-width="5.6"/><line x1="473.0" y1="741.6" x2="470.9" y2="749.3" stroke="#ffffff" stroke-width="2.1" opacity="0.9"/></g>
<g opacity="1.0" stroke-linecap="round"><line x1="465.6" y1="737.8" x2="460.8" y2="744.2" stroke="#888" stroke-width="7.4"/><line x1="465.6" y1="737.8" x2="460.8" y2="744.2" stroke="#eaeaea" stroke-width="5.6"/><line x1="464.6" y1="737.1" x2="459.9" y2="743.5" stroke="#ffffff" stroke-width="2.1" opacity="0.9"/></g>
<g opacity="1.0" stroke-linecap="round"><line x1="488.3" y1="691.1" x2="490.5" y2="683.4" stroke="#888" stroke-width="7.4"/><line x1="488.3" y1="691.1" x2="490.5" y2="683.4" stroke="#eaeaea" stroke-width="5.6"/><line x1="487.3" y1="690.8" x2="489.4" y2="683.1" stroke="#ffffff" stroke-width="2.1" opacity="0.9"/></g>
<g opacity="1.0" stroke-linecap="round"><line x1="496.9" y1="695.2" x2="501.6" y2="688.8" stroke="#888" stroke-width="7.4"/><line x1="496.9" y1="695.2" x2="501.6" y2="688.8" stroke="#eaeaea" stroke-width="5.6"/><line x1="496.0" y1="694.6" x2="500.7" y2="688.1" stroke="#ffffff" stroke-width="2.1" opacity="0.9"/></g>
<path d="M489.7,720.7 L474.1,741.9 L465.6,737.8 L472.7,712.3 L488.3,691.1 L496.9,695.2 Z" fill="none" stroke="#6e6e6e" stroke-width="7.8" stroke-linejoin="round"/><path d="M489.7,720.7 L474.1,741.9 L465.6,737.8 L472.7,712.3 L488.3,691.1 L496.9,695.2 Z" fill="none" stroke="#b4b4b4" stroke-width="6.0" stroke-linejoin="round"/>
<line x1="474.1" y1="740.9" x2="465.6" y2="736.8" stroke="#f4f4f4" stroke-width="2.1" stroke-linecap="round" opacity="0.85"/>
<line x1="488.3" y1="690.1" x2="496.9" y2="694.2" stroke="#f4f4f4" stroke-width="2.1" stroke-linecap="round" opacity="0.85"/>
<line x1="489.7" y1="719.7" x2="474.1" y2="740.9" stroke="#f4f4f4" stroke-width="2.1" stroke-linecap="round" opacity="0.85"/>
<line x1="472.7" y1="711.3" x2="488.3" y2="690.1" stroke="#f4f4f4" stroke-width="2.1" stroke-linecap="round" opacity="0.85"/>
</g>
<g opacity="0.9">
<g opacity="1.0" stroke-linecap="round"><line x1="415.3" y1="768.9" x2="413.3" y2="776.7" stroke="#888" stroke-width="7.4"/><line x1="415.3" y1="768.9" x2="413.3" y2="776.7" stroke="#eeeeee" stroke-width="5.6"/><line x1="414.2" y1="768.7" x2="412.2" y2="776.4" stroke="#ffffff" stroke-width="2.1" opacity="0.9"/></g>
<g opacity="1.0" stroke-linecap="round"><line x1="407.2" y1="765.0" x2="402.3" y2="771.3" stroke="#888" stroke-width="7.4"/><line x1="407.2" y1="765.0" x2="402.3" y2="771.3" stroke="#eeeeee" stroke-width="5.6"/><line x1="406.3" y1="764.3" x2="401.4" y2="770.6" stroke="#ffffff" stroke-width="2.1" opacity="0.9"/></g>
<g opacity="1.0" stroke-linecap="round"><line x1="426.2" y1="726.1" x2="428.1" y2="718.3" stroke="#888" stroke-width="7.4"/><line x1="426.2" y1="726.1" x2="428.1" y2="718.3" stroke="#eeeeee" stroke-width="5.6"/><line x1="425.1" y1="725.8" x2="427.0" y2="718.0" stroke="#ffffff" stroke-width="2.1" opacity="0.9"/></g>
<g opacity="1.0" stroke-linecap="round"><line x1="434.2" y1="730.0" x2="439.1" y2="723.7" stroke="#888" stroke-width="7.4"/><line x1="434.2" y1="730.0" x2="439.1" y2="723.7" stroke="#eeeeee" stroke-width="5.6"/><line x1="433.4" y1="729.3" x2="438.3" y2="723.0" stroke="#ffffff" stroke-width="2.1" opacity="0.9"/></g>
<path d="M428.8,751.4 L415.3,768.9 L407.2,765.0 L412.6,743.6 L426.2,726.1 L434.2,730.0 Z" fill="none" stroke="#7a7a7a" stroke-width="7.6" stroke-linejoin="round"/><path d="M428.8,751.4 L415.3,768.9 L407.2,765.0 L412.6,743.6 L426.2,726.1 L434.2,730.0 Z" fill="none" stroke="#bcbcbc" stroke-width="5.8" stroke-linejoin="round"/>
<line x1="415.3" y1="767.9" x2="407.2" y2="764.0" stroke="#f4f4f4" stroke-width="2.0" stroke-linecap="round" opacity="0.85"/>
<line x1="426.2" y1="725.1" x2="434.2" y2="729.0" stroke="#f4f4f4" stroke-width="2.0" stroke-linecap="round" opacity="0.85"/>
<line x1="428.8" y1="750.4" x2="415.3" y2="767.9" stroke="#f4f4f4" stroke-width="2.0" stroke-linecap="round" opacity="0.85"/>
<line x1="412.6" y1="742.6" x2="426.2" y2="725.1" stroke="#f4f4f4" stroke-width="2.0" stroke-linecap="round" opacity="0.85"/>
</g>
<g opacity="0.95">
<g opacity="1.0" stroke-linecap="round"><line x1="515.8" y1="792.9" x2="513.6" y2="800.6" stroke="#888" stroke-width="7.4"/><line x1="515.8" y1="792.9" x2="513.6" y2="800.6" stroke="#eaeaea" stroke-width="5.6"/><line x1="514.7" y1="792.6" x2="512.6" y2="800.3" stroke="#ffffff" stroke-width="2.1" opacity="0.9"/></g>
<g opacity="1.0" stroke-linecap="round"><line x1="507.2" y1="788.8" x2="502.5" y2="795.2" stroke="#888" stroke-width="7.4"/><line x1="507.2" y1="788.8" x2="502.5" y2="795.2" stroke="#eaeaea" stroke-width="5.6"/><line x1="506.3" y1="788.1" x2="501.6" y2="794.5" stroke="#ffffff" stroke-width="2.1" opacity="0.9"/></g>
<g opacity="1.0" stroke-linecap="round"><line x1="530.0" y1="742.1" x2="532.2" y2="734.4" stroke="#888" stroke-width="7.4"/><line x1="530.0" y1="742.1" x2="532.2" y2="734.4" stroke="#eaeaea" stroke-width="5.6"/><line x1="528.9" y1="741.8" x2="531.1" y2="734.1" stroke="#ffffff" stroke-width="2.1" opacity="0.9"/></g>
<g opacity="1.0" stroke-linecap="round"><line x1="538.6" y1="746.2" x2="543.3" y2="739.8" stroke="#888" stroke-width="7.4"/><line x1="538.6" y1="746.2" x2="543.3" y2="739.8" stroke="#eaeaea" stroke-width="5.6"/><line x1="537.7" y1="745.6" x2="542.4" y2="739.1" stroke="#ffffff" stroke-width="2.1" opacity="0.9"/></g>
<path d="M531.4,771.7 L515.8,792.9 L507.2,788.8 L514.4,763.3 L530.0,742.1 L538.6,746.2 Z" fill="none" stroke="#6e6e6e" stroke-width="7.8" stroke-linejoin="round"/><path d="M531.4,771.7 L515.8,792.9 L507.2,788.8 L514.4,763.3 L530.0,742.1 L538.6,746.2 Z" fill="none" stroke="#b4b4b4" stroke-width="6.0" stroke-linejoin="round"/>
<line x1="515.8" y1="791.9" x2="507.2" y2="787.8" stroke="#f4f4f4" stroke-width="2.1" stroke-linecap="round" opacity="0.85"/>
<line x1="530.0" y1="741.1" x2="538.6" y2="745.2" stroke="#f4f4f4" stroke-width="2.1" stroke-linecap="round" opacity="0.85"/>
<line x1="531.4" y1="770.7" x2="515.8" y2="791.9" stroke="#f4f4f4" stroke-width="2.1" stroke-linecap="round" opacity="0.85"/>
<line x1="514.4" y1="762.3" x2="530.0" y2="741.1" stroke="#f4f4f4" stroke-width="2.1" stroke-linecap="round" opacity="0.85"/>
</g>
<g opacity="0.9">
<g opacity="1.0" stroke-linecap="round"><line x1="471.7" y1="819.9" x2="469.8" y2="827.7" stroke="#888" stroke-width="7.4"/><line x1="471.7" y1="819.9" x2="469.8" y2="827.7" stroke="#eeeeee" stroke-width="5.6"/><line x1="470.6" y1="819.7" x2="468.7" y2="827.4" stroke="#ffffff" stroke-width="2.1" opacity="0.9"/></g>
<g opacity="1.0" stroke-linecap="round"><line x1="463.6" y1="816.0" x2="458.7" y2="822.3" stroke="#888" stroke-width="7.4"/><line x1="463.6" y1="816.0" x2="458.7" y2="822.3" stroke="#eeeeee" stroke-width="5.6"/><line x1="462.8" y1="815.3" x2="457.9" y2="821.6" stroke="#ffffff" stroke-width="2.1" opacity="0.9"/></g>
<g opacity="1.0" stroke-linecap="round"><line x1="482.6" y1="777.1" x2="484.6" y2="769.3" stroke="#888" stroke-width="7.4"/><line x1="482.6" y1="777.1" x2="484.6" y2="769.3" stroke="#eeeeee" stroke-width="5.6"/><line x1="481.5" y1="776.8" x2="483.5" y2="769.0" stroke="#ffffff" stroke-width="2.1" opacity="0.9"/></g>
<g opacity="1.0" stroke-linecap="round"><line x1="490.7" y1="781.0" x2="495.6" y2="774.7" stroke="#888" stroke-width="7.4"/><line x1="490.7" y1="781.0" x2="495.6" y2="774.7" stroke="#eeeeee" stroke-width="5.6"/><line x1="489.8" y1="780.3" x2="494.7" y2="774.0" stroke="#ffffff" stroke-width="2.1" opacity="0.9"/></g>
<path d="M485.3,802.4 L471.7,819.9 L463.6,816.0 L469.1,794.6 L482.6,777.1 L490.7,781.0 Z" fill="none" stroke="#7a7a7a" stroke-width="7.6" stroke-linejoin="round"/><path d="M485.3,802.4 L471.7,819.9 L463.6,816.0 L469.1,794.6 L482.6,777.1 L490.7,781.0 Z" fill="none" stroke="#bcbcbc" stroke-width="5.8" stroke-linejoin="round"/>
<line x1="471.7" y1="818.9" x2="463.6" y2="815.0" stroke="#f4f4f4" stroke-width="2.0" stroke-linecap="round" opacity="0.85"/>
<line x1="482.6" y1="776.1" x2="490.7" y2="780.0" stroke="#f4f4f4" stroke-width="2.0" stroke-linecap="round" opacity="0.85"/>
<line x1="485.3" y1="801.4" x2="471.7" y2="818.9" stroke="#f4f4f4" stroke-width="2.0" stroke-linecap="round" opacity="0.85"/>
<line x1="469.1" y1="793.6" x2="482.6" y2="776.1" stroke="#f4f4f4" stroke-width="2.0" stroke-linecap="round" opacity="0.85"/>
</g>
<g opacity="0.95">
<g opacity="1.0" stroke-linecap="round"><line x1="568.6" y1="847.4" x2="566.5" y2="855.1" stroke="#888" stroke-width="7.4"/><line x1="568.6" y1="847.4" x2="566.5" y2="855.1" stroke="#eaeaea" stroke-width="5.6"/><line x1="567.5" y1="847.1" x2="565.4" y2="854.8" stroke="#ffffff" stroke-width="2.1" opacity="0.9"/></g>
<g opacity="1.0" stroke-linecap="round"><line x1="560.1" y1="843.3" x2="555.3" y2="849.7" stroke="#888" stroke-width="7.4"/><line x1="560.1" y1="843.3" x2="555.3" y2="849.7" stroke="#eaeaea" stroke-width="5.6"/><line x1="559.2" y1="842.6" x2="554.4" y2="849.0" stroke="#ffffff" stroke-width="2.1" opacity="0.9"/></g>
<g opacity="1.0" stroke-linecap="round"><line x1="582.9" y1="796.6" x2="585.0" y2="788.9" stroke="#888" stroke-width="7.4"/><line x1="582.9" y1="796.6" x2="585.0" y2="788.9" stroke="#eaeaea" stroke-width="5.6"/><line x1="581.8" y1="796.3" x2="583.9" y2="788.6" stroke="#ffffff" stroke-width="2.1" opacity="0.9"/></g>
<g opacity="1.0" stroke-linecap="round"><line x1="591.4" y1="800.7" x2="596.1" y2="794.3" stroke="#888" stroke-width="7.4"/><line x1="591.4" y1="800.7" x2="596.1" y2="794.3" stroke="#eaeaea" stroke-width="5.6"/><line x1="590.5" y1="800.1" x2="595.2" y2="793.6" stroke="#ffffff" stroke-width="2.1" opacity="0.9"/></g>
<path d="M584.3,826.2 L568.6,847.4 L560.1,843.3 L567.2,817.8 L582.9,796.6 L591.4,800.7 Z" fill="none" stroke="#6e6e6e" stroke-width="7.8" stroke-linejoin="round"/><path d="M584.3,826.2 L568.6,847.4 L560.1,843.3 L567.2,817.8 L582.9,796.6 L591.4,800.7 Z" fill="none" stroke="#b4b4b4" stroke-width="6.0" stroke-linejoin="round"/>
<line x1="568.6" y1="846.4" x2="560.1" y2="842.3" stroke="#f4f4f4" stroke-width="2.1" stroke-linecap="round" opacity="0.85"/>
<line x1="582.9" y1="795.6" x2="591.4" y2="799.7" stroke="#f4f4f4" stroke-width="2.1" stroke-linecap="round" opacity="0.85"/>
<line x1="584.3" y1="825.2" x2="568.6" y2="846.4" stroke="#f4f4f4" stroke-width="2.1" stroke-linecap="round" opacity="0.85"/>
<line x1="567.2" y1="816.8" x2="582.9" y2="795.6" stroke="#f4f4f4" stroke-width="2.1" stroke-linecap="round" opacity="0.85"/>
</g>
<g opacity="0.9">
<g opacity="1.0" stroke-linecap="round"><line x1="511.9" y1="874.4" x2="509.9" y2="882.2" stroke="#888" stroke-width="7.4"/><line x1="511.9" y1="874.4" x2="509.9" y2="882.2" stroke="#eeeeee" stroke-width="5.6"/><line x1="510.8" y1="874.2" x2="508.8" y2="881.9" stroke="#ffffff" stroke-width="2.1" opacity="0.9"/></g>
<g opacity="1.0" stroke-linecap="round"><line x1="503.8" y1="870.5" x2="498.9" y2="876.8" stroke="#888" stroke-width="7.4"/><line x1="503.8" y1="870.5" x2="498.9" y2="876.8" stroke="#eeeeee" stroke-width="5.6"/><line x1="502.9" y1="869.8" x2="498.0" y2="876.1" stroke="#ffffff" stroke-width="2.1" opacity="0.9"/></g>
<g opacity="1.0" stroke-linecap="round"><line x1="522.8" y1="831.6" x2="524.8" y2="823.8" stroke="#888" stroke-width="7.4"/><line x1="522.8" y1="831.6" x2="524.8" y2="823.8" stroke="#eeeeee" stroke-width="5.6"/><line x1="521.7" y1="831.3" x2="523.7" y2="823.5" stroke="#ffffff" stroke-width="2.1" opacity="0.9"/></g>
<g opacity="1.0" stroke-linecap="round"><line x1="530.9" y1="835.5" x2="535.8" y2="829.2" stroke="#888" stroke-width="7.4"/><line x1="530.9" y1="835.5" x2="535.8" y2="829.2" stroke="#eeeeee" stroke-width="5.6"/><line x1="530.0" y1="834.8" x2="534.9" y2="828.5" stroke="#ffffff" stroke-width="2.1" opacity="0.9"/></g>
<path d="M525.4,856.9 L511.9,874.4 L503.8,870.5 L509.3,849.1 L522.8,831.6 L530.9,835.5 Z" fill="none" stroke="#7a7a7a" stroke-width="7.6" stroke-linejoin="round"/><path d="M525.4,856.9 L511.9,874.4 L503.8,870.5 L509.3,849.1 L522.8,831.6 L530.9,835.5 Z" fill="none" stroke="#bcbcbc" stroke-width="5.8" stroke-linejoin="round"/>
<line x1="511.9" y1="873.4" x2="503.8" y2="869.5" stroke="#f4f4f4" stroke-width="2.0" stroke-linecap="round" opacity="0.85"/>
<line x1="522.8" y1="830.6" x2="530.9" y2="834.5" stroke="#f4f4f4" stroke-width="2.0" stroke-linecap="round" opacity="0.85"/>
<line x1="525.4" y1="855.9" x2="511.9" y2="873.4" stroke="#f4f4f4" stroke-width="2.0" stroke-linecap="round" opacity="0.85"/>
<line x1="509.3" y1="848.1" x2="522.8" y2="830.6" stroke="#f4f4f4" stroke-width="2.0" stroke-linecap="round" opacity="0.85"/>
</g>
<line x1="224.5" y1="620.6" x2="434.7" y2="620.6" stroke="#2c2c2c" stroke-width="6.5" stroke-linecap="round"/>
<line x1="226.5" y1="620.6" x2="432.7" y2="620.6" stroke="#6a6a6a" stroke-width="3" stroke-linecap="round"/>
<g opacity="1.0" stroke-linecap="round"><line x1="218.5" y1="616.1" x2="438.7" y2="616.1" stroke="#2a2a2a" stroke-width="9.6"/><line x1="218.5" y1="616.1" x2="438.7" y2="616.1" stroke="#8e8e8e" stroke-width="7.8"/><line x1="218.5" y1="614.5" x2="438.7" y2="614.5" stroke="#ffffff" stroke-width="3.0" opacity="0.9"/></g>
<rect x="238.0" y="612.6" width="5" height="7" fill="#4a4a4a" opacity="0.6"/>
<rect x="258.6" y="612.6" width="5" height="7" fill="#4a4a4a" opacity="0.6"/>
<rect x="282.9" y="612.6" width="5" height="7" fill="#4a4a4a" opacity="0.6"/>
<rect x="302.5" y="612.6" width="5" height="7" fill="#4a4a4a" opacity="0.6"/>
<rect x="325.9" y="612.6" width="5" height="7" fill="#4a4a4a" opacity="0.6"/>
<rect x="350.9" y="612.6" width="5" height="7" fill="#4a4a4a" opacity="0.6"/>
<rect x="367.7" y="612.6" width="5" height="7" fill="#4a4a4a" opacity="0.6"/>
<rect x="391.1" y="612.6" width="5" height="7" fill="#4a4a4a" opacity="0.6"/>
<rect x="415.2" y="612.6" width="5" height="7" fill="#4a4a4a" opacity="0.6"/>
<rect x="225.5" y="612.6" width="7" height="7.5" fill="#3d62e8"/><rect x="225.5" y="613.8" width="7" height="2" fill="#8aa4ff"/>
<rect x="425.7" y="612.6" width="7" height="7.5" fill="#3d62e8"/><rect x="425.7" y="613.8" width="7" height="2" fill="#8aa4ff"/>
<ellipse cx="236.5" cy="615.6" rx="6" ry="4.6" fill="#d40000"/><ellipse cx="235.0" cy="613.8" rx="2.4" ry="1.5" fill="#ff8080"/>
<ellipse cx="300.4" cy="615.6" rx="6" ry="4.6" fill="#d40000"/><ellipse cx="298.9" cy="613.8" rx="2.4" ry="1.5" fill="#ff8080"/>
<ellipse cx="413.7" cy="615.6" rx="6" ry="4.6" fill="#d40000"/><ellipse cx="412.2" cy="613.8" rx="2.4" ry="1.5" fill="#ff8080"/>
<g opacity="1.0" stroke-linecap="round"><line x1="213.5" y1="616.6" x2="209.5" y2="602.6" stroke="#7a7a7a" stroke-width="8.0"/><line x1="213.5" y1="616.6" x2="209.5" y2="602.6" stroke="#e2e2e2" stroke-width="6.2"/><line x1="214.7" y1="616.3" x2="210.7" y2="602.3" stroke="#ffffff" stroke-width="2.4" opacity="0.9"/></g>
<g opacity="1.0" stroke-linecap="round"><line x1="213.5" y1="616.6" x2="209.5" y2="630.6" stroke="#7a7a7a" stroke-width="8.0"/><line x1="213.5" y1="616.6" x2="209.5" y2="630.6" stroke="#e2e2e2" stroke-width="6.2"/><line x1="212.3" y1="616.3" x2="208.3" y2="630.3" stroke="#ffffff" stroke-width="2.4" opacity="0.9"/></g>
<g opacity="1.0" stroke-linecap="round"><line x1="219.5" y1="616.6" x2="206.5" y2="616.6" stroke="#7a7a7a" stroke-width="8.0"/><line x1="219.5" y1="616.6" x2="206.5" y2="616.6" stroke="#e2e2e2" stroke-width="6.2"/><line x1="219.5" y1="615.4" x2="206.5" y2="615.4" stroke="#ffffff" stroke-width="2.4" opacity="0.9"/></g>
<circle cx="214.5" cy="616.6" r="4" fill="#5a5a5a"/>
<g opacity="1.0" stroke-linecap="round"><line x1="443.7" y1="616.6" x2="447.7" y2="602.6" stroke="#7a7a7a" stroke-width="8.0"/><line x1="443.7" y1="616.6" x2="447.7" y2="602.6" stroke="#e2e2e2" stroke-width="6.2"/><line x1="442.5" y1="616.3" x2="446.5" y2="602.3" stroke="#ffffff" stroke-width="2.4" opacity="0.9"/></g>
<g opacity="1.0" stroke-linecap="round"><line x1="443.7" y1="616.6" x2="447.7" y2="630.6" stroke="#7a7a7a" stroke-width="8.0"/><line x1="443.7" y1="616.6" x2="447.7" y2="630.6" stroke="#e2e2e2" stroke-width="6.2"/><line x1="444.9" y1="616.3" x2="448.9" y2="630.3" stroke="#ffffff" stroke-width="2.4" opacity="0.9"/></g>
<g opacity="1.0" stroke-linecap="round"><line x1="437.7" y1="616.6" x2="450.7" y2="616.6" stroke="#7a7a7a" stroke-width="8.0"/><line x1="437.7" y1="616.6" x2="450.7" y2="616.6" stroke="#e2e2e2" stroke-width="6.2"/><line x1="437.7" y1="615.4" x2="450.7" y2="615.4" stroke="#ffffff" stroke-width="2.4" opacity="0.9"/></g>
<circle cx="442.7" cy="616.6" r="4" fill="#5a5a5a"/>
<g opacity="1.0">
<g opacity="1.0" stroke-linecap="round"><line x1="265.4" y1="644.2" x2="263.1" y2="651.9" stroke="#888" stroke-width="7.4"/><line x1="265.4" y1="644.2" x2="263.1" y2="651.9" stroke="#e4e4e4" stroke-width="5.6"/><line x1="264.4" y1="643.9" x2="262.0" y2="651.5" stroke="#ffffff" stroke-width="2.1" opacity="0.9"/></g>
<g opacity="1.0" stroke-linecap="round"><line x1="255.5" y1="638.5" x2="250.0" y2="644.3" stroke="#888" stroke-width="7.4"/><line x1="255.5" y1="638.5" x2="250.0" y2="644.3" stroke="#e4e4e4" stroke-width="5.6"/><line x1="254.7" y1="637.7" x2="249.2" y2="643.6" stroke="#ffffff" stroke-width="2.1" opacity="0.9"/></g>
<g opacity="1.0" stroke-linecap="round"><line x1="280.6" y1="595.0" x2="282.9" y2="587.3" stroke="#888" stroke-width="7.4"/><line x1="280.6" y1="595.0" x2="282.9" y2="587.3" stroke="#e4e4e4" stroke-width="5.6"/><line x1="279.5" y1="594.6" x2="281.9" y2="587.0" stroke="#ffffff" stroke-width="2.1" opacity="0.9"/></g>
<g opacity="1.0" stroke-linecap="round"><line x1="290.5" y1="600.7" x2="296.0" y2="594.9" stroke="#888" stroke-width="7.4"/><line x1="290.5" y1="600.7" x2="296.0" y2="594.9" stroke="#e4e4e4" stroke-width="5.6"/><line x1="289.7" y1="600.0" x2="295.2" y2="594.1" stroke="#ffffff" stroke-width="2.1" opacity="0.9"/></g>
<path d="M283.0,625.4 L265.4,644.2 L255.5,638.5 L263.1,613.9 L280.6,595.0 L290.5,600.7 Z" fill="none" stroke="#222222" stroke-width="8.3" stroke-linejoin="round"/><path d="M283.0,625.4 L265.4,644.2 L255.5,638.5 L263.1,613.9 L280.6,595.0 L290.5,600.7 Z" fill="none" stroke="#7e7e7e" stroke-width="6.5" stroke-linejoin="round"/>
<line x1="265.4" y1="643.2" x2="255.5" y2="637.5" stroke="#f4f4f4" stroke-width="2.3" stroke-linecap="round" opacity="0.85"/>
<line x1="280.6" y1="594.0" x2="290.5" y2="599.7" stroke="#f4f4f4" stroke-width="2.3" stroke-linecap="round" opacity="0.85"/>
<line x1="283.0" y1="624.4" x2="265.4" y2="643.2" stroke="#f4f4f4" stroke-width="2.3" stroke-linecap="round" opacity="0.85"/>
<line x1="263.1" y1="612.9" x2="280.6" y2="594.0" stroke="#f4f4f4" stroke-width="2.3" stroke-linecap="round" opacity="0.85"/>
</g>
<line x1="275.0" y1="673.0" x2="482.0" y2="673.0" stroke="#2c2c2c" stroke-width="6.5" stroke-linecap="round"/>
<line x1="277.0" y1="673.0" x2="480.0" y2="673.0" stroke="#6a6a6a" stroke-width="3" stroke-linecap="round"/>
<g opacity="1.0" stroke-linecap="round"><line x1="269.0" y1="668.5" x2="486.0" y2="668.5" stroke="#2a2a2a" stroke-width="9.6"/><line x1="269.0" y1="668.5" x2="486.0" y2="668.5" stroke="#8e8e8e" stroke-width="7.8"/><line x1="269.0" y1="666.9" x2="486.0" y2="666.9" stroke="#ffffff" stroke-width="3.0" opacity="0.9"/></g>
<rect x="286.7" y="665.0" width="5" height="7" fill="#4a4a4a" opacity="0.6"/>
<rect x="309.9" y="665.0" width="5" height="7" fill="#4a4a4a" opacity="0.6"/>
<rect x="329.6" y="665.0" width="5" height="7" fill="#4a4a4a" opacity="0.6"/>
<rect x="355.2" y="665.0" width="5" height="7" fill="#4a4a4a" opacity="0.6"/>
<rect x="373.4" y="665.0" width="5" height="7" fill="#4a4a4a" opacity="0.6"/>
<rect x="397.0" y="665.0" width="5" height="7" fill="#4a4a4a" opacity="0.6"/>
<rect x="421.0" y="665.0" width="5" height="7" fill="#4a4a4a" opacity="0.6"/>
<rect x="439.5" y="665.0" width="5" height="7" fill="#4a4a4a" opacity="0.6"/>
<rect x="464.6" y="665.0" width="5" height="7" fill="#4a4a4a" opacity="0.6"/>
<rect x="276.0" y="665.0" width="7" height="7.5" fill="#3d62e8"/><rect x="276.0" y="666.2" width="7" height="2" fill="#8aa4ff"/>
<rect x="473.0" y="665.0" width="7" height="7.5" fill="#3d62e8"/><rect x="473.0" y="666.2" width="7" height="2" fill="#8aa4ff"/>
<ellipse cx="287.0" cy="668.0" rx="6" ry="4.6" fill="#d40000"/><ellipse cx="285.5" cy="666.2" rx="2.4" ry="1.5" fill="#ff8080"/>
<ellipse cx="362.5" cy="668.0" rx="6" ry="4.6" fill="#d40000"/><ellipse cx="361.0" cy="666.2" rx="2.4" ry="1.5" fill="#ff8080"/>
<ellipse cx="461.0" cy="668.0" rx="6" ry="4.6" fill="#d40000"/><ellipse cx="459.5" cy="666.2" rx="2.4" ry="1.5" fill="#ff8080"/>
<g opacity="1.0" stroke-linecap="round"><line x1="264.0" y1="669.0" x2="260.0" y2="655.0" stroke="#7a7a7a" stroke-width="8.0"/><line x1="264.0" y1="669.0" x2="260.0" y2="655.0" stroke="#e2e2e2" stroke-width="6.2"/><line x1="265.2" y1="668.7" x2="261.2" y2="654.7" stroke="#ffffff" stroke-width="2.4" opacity="0.9"/></g>
<g opacity="1.0" stroke-linecap="round"><line x1="264.0" y1="669.0" x2="260.0" y2="683.0" stroke="#7a7a7a" stroke-width="8.0"/><line x1="264.0" y1="669.0" x2="260.0" y2="683.0" stroke="#e2e2e2" stroke-width="6.2"/><line x1="262.8" y1="668.7" x2="258.8" y2="682.7" stroke="#ffffff" stroke-width="2.4" opacity="0.9"/></g>
<g opacity="1.0" stroke-linecap="round"><line x1="270.0" y1="669.0" x2="257.0" y2="669.0" stroke="#7a7a7a" stroke-width="8.0"/><line x1="270.0" y1="669.0" x2="257.0" y2="669.0" stroke="#e2e2e2" stroke-width="6.2"/><line x1="270.0" y1="667.8" x2="257.0" y2="667.8" stroke="#ffffff" stroke-width="2.4" opacity="0.9"/></g>
<circle cx="265.0" cy="669.0" r="4" fill="#5a5a5a"/>
<g opacity="1.0" stroke-linecap="round"><line x1="491.0" y1="669.0" x2="495.0" y2="655.0" stroke="#7a7a7a" stroke-width="8.0"/><line x1="491.0" y1="669.0" x2="495.0" y2="655.0" stroke="#e2e2e2" stroke-width="6.2"/><line x1="489.8" y1="668.7" x2="493.8" y2="654.7" stroke="#ffffff" stroke-width="2.4" opacity="0.9"/></g>
<g opacity="1.0" stroke-linecap="round"><line x1="491.0" y1="669.0" x2="495.0" y2="683.0" stroke="#7a7a7a" stroke-width="8.0"/><line x1="491.0" y1="669.0" x2="495.0" y2="683.0" stroke="#e2e2e2" stroke-width="6.2"/><line x1="492.2" y1="668.7" x2="496.2" y2="682.7" stroke="#ffffff" stroke-width="2.4" opacity="0.9"/></g>
<g opacity="1.0" stroke-linecap="round"><line x1="485.0" y1="669.0" x2="498.0" y2="669.0" stroke="#7a7a7a" stroke-width="8.0"/><line x1="485.0" y1="669.0" x2="498.0" y2="669.0" stroke="#e2e2e2" stroke-width="6.2"/><line x1="485.0" y1="667.8" x2="498.0" y2="667.8" stroke="#ffffff" stroke-width="2.4" opacity="0.9"/></g>
<circle cx="490.0" cy="669.0" r="4" fill="#5a5a5a"/>
<g opacity="1.0">
<g opacity="1.0" stroke-linecap="round"><line x1="319.0" y1="696.6" x2="316.6" y2="704.3" stroke="#888" stroke-width="7.4"/><line x1="319.0" y1="696.6" x2="316.6" y2="704.3" stroke="#e4e4e4" stroke-width="5.6"/><line x1="317.9" y1="696.3" x2="315.5" y2="703.9" stroke="#ffffff" stroke-width="2.1" opacity="0.9"/></g>
<g opacity="1.0" stroke-linecap="round"><line x1="309.0" y1="690.9" x2="303.5" y2="696.7" stroke="#888" stroke-width="7.4"/><line x1="309.0" y1="690.9" x2="303.5" y2="696.7" stroke="#e4e4e4" stroke-width="5.6"/><line x1="308.2" y1="690.1" x2="302.7" y2="696.0" stroke="#ffffff" stroke-width="2.1" opacity="0.9"/></g>
<g opacity="1.0" stroke-linecap="round"><line x1="334.1" y1="647.4" x2="336.5" y2="639.7" stroke="#888" stroke-width="7.4"/><line x1="334.1" y1="647.4" x2="336.5" y2="639.7" stroke="#e4e4e4" stroke-width="5.6"/><line x1="333.0" y1="647.0" x2="335.4" y2="639.4" stroke="#ffffff" stroke-width="2.1" opacity="0.9"/></g>
<g opacity="1.0" stroke-linecap="round"><line x1="344.1" y1="653.1" x2="349.5" y2="647.3" stroke="#888" stroke-width="7.4"/><line x1="344.1" y1="653.1" x2="349.5" y2="647.3" stroke="#e4e4e4" stroke-width="5.6"/><line x1="343.2" y1="652.4" x2="348.7" y2="646.5" stroke="#ffffff" stroke-width="2.1" opacity="0.9"/></g>
<path d="M336.5,677.8 L319.0,696.6 L309.0,690.9 L316.6,666.2 L334.1,647.4 L344.1,653.1 Z" fill="none" stroke="#222222" stroke-width="8.3" stroke-linejoin="round"/><path d="M336.5,677.8 L319.0,696.6 L309.0,690.9 L316.6,666.2 L334.1,647.4 L344.1,653.1 Z" fill="none" stroke="#7e7e7e" stroke-width="6.5" stroke-linejoin="round"/>
<line x1="319.0" y1="695.6" x2="309.0" y2="689.9" stroke="#f4f4f4" stroke-width="2.3" stroke-linecap="round" opacity="0.85"/>
<line x1="334.1" y1="646.4" x2="344.1" y2="652.1" stroke="#f4f4f4" stroke-width="2.3" stroke-linecap="round" opacity="0.85"/>
<line x1="336.5" y1="676.8" x2="319.0" y2="695.6" stroke="#f4f4f4" stroke-width="2.3" stroke-linecap="round" opacity="0.85"/>
<line x1="316.6" y1="665.2" x2="334.1" y2="646.4" stroke="#f4f4f4" stroke-width="2.3" stroke-linecap="round" opacity="0.85"/>
</g>
<line x1="322.5" y1="726.5" x2="531.6" y2="726.5" stroke="#2c2c2c" stroke-width="6.5" stroke-linecap="round"/>
<line x1="324.5" y1="726.5" x2="529.6" y2="726.5" stroke="#6a6a6a" stroke-width="3" stroke-linecap="round"/>
<g opacity="1.0" stroke-linecap="round"><line x1="316.5" y1="722.0" x2="535.6" y2="722.0" stroke="#2a2a2a" stroke-width="9.6"/><line x1="316.5" y1="722.0" x2="535.6" y2="722.0" stroke="#8e8e8e" stroke-width="7.8"/><line x1="316.5" y1="720.4" x2="535.6" y2="720.4" stroke="#ffffff" stroke-width="3.0" opacity="0.9"/></g>
<rect x="338.8" y="718.5" width="5" height="7" fill="#4a4a4a" opacity="0.6"/>
<rect x="355.1" y="718.5" width="5" height="7" fill="#4a4a4a" opacity="0.6"/>
<rect x="381.1" y="718.5" width="5" height="7" fill="#4a4a4a" opacity="0.6"/>
<rect x="401.5" y="718.5" width="5" height="7" fill="#4a4a4a" opacity="0.6"/>
<rect x="426.2" y="718.5" width="5" height="7" fill="#4a4a4a" opacity="0.6"/>
<rect x="444.9" y="718.5" width="5" height="7" fill="#4a4a4a" opacity="0.6"/>
<rect x="469.9" y="718.5" width="5" height="7" fill="#4a4a4a" opacity="0.6"/>
<rect x="487.2" y="718.5" width="5" height="7" fill="#4a4a4a" opacity="0.6"/>
<rect x="514.2" y="718.5" width="5" height="7" fill="#4a4a4a" opacity="0.6"/>
<rect x="323.5" y="718.5" width="7" height="7.5" fill="#3d62e8"/><rect x="323.5" y="719.7" width="7" height="2" fill="#8aa4ff"/>
<rect x="522.6" y="718.5" width="7" height="7.5" fill="#3d62e8"/><rect x="522.6" y="719.7" width="7" height="2" fill="#8aa4ff"/>
<ellipse cx="334.5" cy="721.5" rx="6" ry="4.6" fill="#d40000"/><ellipse cx="333.0" cy="719.7" rx="2.4" ry="1.5" fill="#ff8080"/>
<ellipse cx="404.5" cy="721.5" rx="6" ry="4.6" fill="#d40000"/><ellipse cx="403.0" cy="719.7" rx="2.4" ry="1.5" fill="#ff8080"/>
<ellipse cx="510.6" cy="721.5" rx="6" ry="4.6" fill="#d40000"/><ellipse cx="509.1" cy="719.7" rx="2.4" ry="1.5" fill="#ff8080"/>
<g opacity="1.0" stroke-linecap="round"><line x1="311.5" y1="722.5" x2="307.5" y2="708.5" stroke="#7a7a7a" stroke-width="8.0"/><line x1="311.5" y1="722.5" x2="307.5" y2="708.5" stroke="#e2e2e2" stroke-width="6.2"/><line x1="312.7" y1="722.2" x2="308.7" y2="708.2" stroke="#ffffff" stroke-width="2.4" opacity="0.9"/></g>
<g opacity="1.0" stroke-linecap="round"><line x1="311.5" y1="722.5" x2="307.5" y2="736.5" stroke="#7a7a7a" stroke-width="8.0"/><line x1="311.5" y1="722.5" x2="307.5" y2="736.5" stroke="#e2e2e2" stroke-width="6.2"/><line x1="310.3" y1="722.2" x2="306.3" y2="736.2" stroke="#ffffff" stroke-width="2.4" opacity="0.9"/></g>
<g opacity="1.0" stroke-linecap="round"><line x1="317.5" y1="722.5" x2="304.5" y2="722.5" stroke="#7a7a7a" stroke-width="8.0"/><line x1="317.5" y1="722.5" x2="304.5" y2="722.5" stroke="#e2e2e2" stroke-width="6.2"/><line x1="317.5" y1="721.3" x2="304.5" y2="721.3" stroke="#ffffff" stroke-width="2.4" opacity="0.9"/></g>
<circle cx="312.5" cy="722.5" r="4" fill="#5a5a5a"/>
<g opacity="1.0" stroke-linecap="round"><line x1="540.6" y1="722.5" x2="544.6" y2="708.5" stroke="#7a7a7a" stroke-width="8.0"/><line x1="540.6" y1="722.5" x2="544.6" y2="708.5" stroke="#e2e2e2" stroke-width="6.2"/><line x1="539.4" y1="722.2" x2="543.4" y2="708.2" stroke="#ffffff" stroke-width="2.4" opacity="0.9"/></g>
<g opacity="1.0" stroke-linecap="round"><line x1="540.6" y1="722.5" x2="544.6" y2="736.5" stroke="#7a7a7a" stroke-width="8.0"/><line x1="540.6" y1="722.5" x2="544.6" y2="736.5" stroke="#e2e2e2" stroke-width="6.2"/><line x1="541.8" y1="722.2" x2="545.8" y2="736.2" stroke="#ffffff" stroke-width="2.4" opacity="0.9"/></g>
<g opacity="1.0" stroke-linecap="round"><line x1="534.6" y1="722.5" x2="547.6" y2="722.5" stroke="#7a7a7a" stroke-width="8.0"/><line x1="534.6" y1="722.5" x2="547.6" y2="722.5" stroke="#e2e2e2" stroke-width="6.2"/><line x1="534.6" y1="721.3" x2="547.6" y2="721.3" stroke="#ffffff" stroke-width="2.4" opacity="0.9"/></g>
<circle cx="539.6" cy="722.5" r="4" fill="#5a5a5a"/>
<g opacity="1.0">
<g opacity="1.0" stroke-linecap="round"><line x1="363.4" y1="750.1" x2="361.1" y2="757.8" stroke="#888" stroke-width="7.4"/><line x1="363.4" y1="750.1" x2="361.1" y2="757.8" stroke="#e4e4e4" stroke-width="5.6"/><line x1="362.3" y1="749.8" x2="360.0" y2="757.4" stroke="#ffffff" stroke-width="2.1" opacity="0.9"/></g>
<g opacity="1.0" stroke-linecap="round"><line x1="353.5" y1="744.4" x2="348.0" y2="750.2" stroke="#888" stroke-width="7.4"/><line x1="353.5" y1="744.4" x2="348.0" y2="750.2" stroke="#e4e4e4" stroke-width="5.6"/><line x1="352.6" y1="743.6" x2="347.2" y2="749.5" stroke="#ffffff" stroke-width="2.1" opacity="0.9"/></g>
<g opacity="1.0" stroke-linecap="round"><line x1="378.6" y1="700.9" x2="380.9" y2="693.2" stroke="#888" stroke-width="7.4"/><line x1="378.6" y1="700.9" x2="380.9" y2="693.2" stroke="#e4e4e4" stroke-width="5.6"/><line x1="377.5" y1="700.5" x2="379.9" y2="692.9" stroke="#ffffff" stroke-width="2.1" opacity="0.9"/></g>
<g opacity="1.0" stroke-linecap="round"><line x1="388.5" y1="706.6" x2="394.0" y2="700.8" stroke="#888" stroke-width="7.4"/><line x1="388.5" y1="706.6" x2="394.0" y2="700.8" stroke="#e4e4e4" stroke-width="5.6"/><line x1="387.7" y1="705.9" x2="393.2" y2="700.0" stroke="#ffffff" stroke-width="2.1" opacity="0.9"/></g>
<path d="M380.9,731.2 L363.4,750.1 L353.5,744.4 L361.0,719.8 L378.6,700.9 L388.5,706.6 Z" fill="none" stroke="#222222" stroke-width="8.3" stroke-linejoin="round"/><path d="M380.9,731.2 L363.4,750.1 L353.5,744.4 L361.0,719.8 L378.6,700.9 L388.5,706.6 Z" fill="none" stroke="#7e7e7e" stroke-width="6.5" stroke-linejoin="round"/>
<line x1="363.4" y1="749.1" x2="353.5" y2="743.4" stroke="#f4f4f4" stroke-width="2.3" stroke-linecap="round" opacity="0.85"/>
<line x1="378.6" y1="699.9" x2="388.5" y2="705.6" stroke="#f4f4f4" stroke-width="2.3" stroke-linecap="round" opacity="0.85"/>
<line x1="380.9" y1="730.2" x2="363.4" y2="749.1" stroke="#f4f4f4" stroke-width="2.3" stroke-linecap="round" opacity="0.85"/>
<line x1="361.0" y1="718.8" x2="378.6" y2="699.9" stroke="#f4f4f4" stroke-width="2.3" stroke-linecap="round" opacity="0.85"/>
</g>
<line x1="370.0" y1="777.5" x2="577.0" y2="777.5" stroke="#2c2c2c" stroke-width="6.5" stroke-linecap="round"/>
<line x1="372.0" y1="777.5" x2="575.0" y2="777.5" stroke="#6a6a6a" stroke-width="3" stroke-linecap="round"/>
<g opacity="1.0" stroke-linecap="round"><line x1="364.0" y1="773.0" x2="581.0" y2="773.0" stroke="#2a2a2a" stroke-width="9.6"/><line x1="364.0" y1="773.0" x2="581.0" y2="773.0" stroke="#8e8e8e" stroke-width="7.8"/><line x1="364.0" y1="771.4" x2="581.0" y2="771.4" stroke="#ffffff" stroke-width="3.0" opacity="0.9"/></g>
<rect x="383.9" y="769.5" width="5" height="7" fill="#4a4a4a" opacity="0.6"/>
<rect x="407.2" y="769.5" width="5" height="7" fill="#4a4a4a" opacity="0.6"/>
<rect x="426.3" y="769.5" width="5" height="7" fill="#4a4a4a" opacity="0.6"/>
<rect x="449.6" y="769.5" width="5" height="7" fill="#4a4a4a" opacity="0.6"/>
<rect x="472.6" y="769.5" width="5" height="7" fill="#4a4a4a" opacity="0.6"/>
<rect x="491.8" y="769.5" width="5" height="7" fill="#4a4a4a" opacity="0.6"/>
<rect x="514.8" y="769.5" width="5" height="7" fill="#4a4a4a" opacity="0.6"/>
<rect x="536.5" y="769.5" width="5" height="7" fill="#4a4a4a" opacity="0.6"/>
<rect x="558.9" y="769.5" width="5" height="7" fill="#4a4a4a" opacity="0.6"/>
<rect x="371.0" y="769.5" width="7" height="7.5" fill="#3d62e8"/><rect x="371.0" y="770.7" width="7" height="2" fill="#8aa4ff"/>
<rect x="568.0" y="769.5" width="7" height="7.5" fill="#3d62e8"/><rect x="568.0" y="770.7" width="7" height="2" fill="#8aa4ff"/>
<ellipse cx="382.0" cy="772.5" rx="6" ry="4.6" fill="#d40000"/><ellipse cx="380.5" cy="770.7" rx="2.4" ry="1.5" fill="#ff8080"/>
<ellipse cx="443.6" cy="772.5" rx="6" ry="4.6" fill="#d40000"/><ellipse cx="442.1" cy="770.7" rx="2.4" ry="1.5" fill="#ff8080"/>
<ellipse cx="556.0" cy="772.5" rx="6" ry="4.6" fill="#d40000"/><ellipse cx="554.5" cy="770.7" rx="2.4" ry="1.5" fill="#ff8080"/>
<g opacity="1.0" stroke-linecap="round"><line x1="359.0" y1="773.5" x2="355.0" y2="759.5" stroke="#7a7a7a" stroke-width="8.0"/><line x1="359.0" y1="773.5" x2="355.0" y2="759.5" stroke="#e2e2e2" stroke-width="6.2"/><line x1="360.2" y1="773.2" x2="356.2" y2="759.2" stroke="#ffffff" stroke-width="2.4" opacity="0.9"/></g>
<g opacity="1.0" stroke-linecap="round"><line x1="359.0" y1="773.5" x2="355.0" y2="787.5" stroke="#7a7a7a" stroke-width="8.0"/><line x1="359.0" y1="773.5" x2="355.0" y2="787.5" stroke="#e2e2e2" stroke-width="6.2"/><line x1="357.8" y1="773.2" x2="353.8" y2="787.2" stroke="#ffffff" stroke-width="2.4" opacity="0.9"/></g>
<g opacity="1.0" stroke-linecap="round"><line x1="365.0" y1="773.5" x2="352.0" y2="773.5" stroke="#7a7a7a" stroke-width="8.0"/><line x1="365.0" y1="773.5" x2="352.0" y2="773.5" stroke="#e2e2e2" stroke-width="6.2"/><line x1="365.0" y1="772.3" x2="352.0" y2="772.3" stroke="#ffffff" stroke-width="2.4" opacity="0.9"/></g>
<circle cx="360.0" cy="773.5" r="4" fill="#5a5a5a"/>
<g opacity="1.0" stroke-linecap="round"><line x1="586.0" y1="773.5" x2="590.0" y2="759.5" stroke="#7a7a7a" stroke-width="8.0"/><line x1="586.0" y1="773.5" x2="590.0" y2="759.5" stroke="#e2e2e2" stroke-width="6.2"/><line x1="584.8" y1="773.2" x2="588.8" y2="759.2" stroke="#ffffff" stroke-width="2.4" opacity="0.9"/></g>
<g opacity="1.0" stroke-linecap="round"><line x1="586.0" y1="773.5" x2="590.0" y2="787.5" stroke="#7a7a7a" stroke-width="8.0"/><line x1="586.0" y1="773.5" x2="590.0" y2="787.5" stroke="#e2e2e2" stroke-width="6.2"/><line x1="587.2" y1="773.2" x2="591.2" y2="787.2" stroke="#ffffff" stroke-width="2.4" opacity="0.9"/></g>
<g opacity="1.0" stroke-linecap="round"><line x1="580.0" y1="773.5" x2="593.0" y2="773.5" stroke="#7a7a7a" stroke-width="8.0"/><line x1="580.0" y1="773.5" x2="593.0" y2="773.5" stroke="#e2e2e2" stroke-width="6.2"/><line x1="580.0" y1="772.3" x2="593.0" y2="772.3" stroke="#ffffff" stroke-width="2.4" opacity="0.9"/></g>
<circle cx="585.0" cy="773.5" r="4" fill="#5a5a5a"/>
<g opacity="1.0">
<g opacity="1.0" stroke-linecap="round"><line x1="410.2" y1="801.1" x2="407.8" y2="808.8" stroke="#888" stroke-width="7.4"/><line x1="410.2" y1="801.1" x2="407.8" y2="808.8" stroke="#e4e4e4" stroke-width="5.6"/><line x1="409.1" y1="800.8" x2="406.7" y2="808.4" stroke="#ffffff" stroke-width="2.1" opacity="0.9"/></g>
<g opacity="1.0" stroke-linecap="round"><line x1="400.2" y1="795.4" x2="394.8" y2="801.2" stroke="#888" stroke-width="7.4"/><line x1="400.2" y1="795.4" x2="394.8" y2="801.2" stroke="#e4e4e4" stroke-width="5.6"/><line x1="399.4" y1="794.6" x2="393.9" y2="800.5" stroke="#ffffff" stroke-width="2.1" opacity="0.9"/></g>
<g opacity="1.0" stroke-linecap="round"><line x1="425.3" y1="751.9" x2="427.7" y2="744.2" stroke="#888" stroke-width="7.4"/><line x1="425.3" y1="751.9" x2="427.7" y2="744.2" stroke="#e4e4e4" stroke-width="5.6"/><line x1="424.3" y1="751.5" x2="426.6" y2="743.9" stroke="#ffffff" stroke-width="2.1" opacity="0.9"/></g>
<g opacity="1.0" stroke-linecap="round"><line x1="435.3" y1="757.6" x2="440.7" y2="751.8" stroke="#888" stroke-width="7.4"/><line x1="435.3" y1="757.6" x2="440.7" y2="751.8" stroke="#e4e4e4" stroke-width="5.6"/><line x1="434.5" y1="756.9" x2="439.9" y2="751.0" stroke="#ffffff" stroke-width="2.1" opacity="0.9"/></g>
<path d="M427.7,782.2 L410.2,801.1 L400.2,795.4 L407.8,770.8 L425.3,751.9 L435.3,757.6 Z" fill="none" stroke="#222222" stroke-width="8.3" stroke-linejoin="round"/><path d="M427.7,782.2 L410.2,801.1 L400.2,795.4 L407.8,770.8 L425.3,751.9 L435.3,757.6 Z" fill="none" stroke="#7e7e7e" stroke-width="6.5" stroke-linejoin="round"/>
<line x1="410.2" y1="800.1" x2="400.2" y2="794.4" stroke="#f4f4f4" stroke-width="2.3" stroke-linecap="round" opacity="0.85"/>
<line x1="425.3" y1="750.9" x2="435.3" y2="756.6" stroke="#f4f4f4" stroke-width="2.3" stroke-linecap="round" opacity="0.85"/>
<line x1="427.7" y1="781.2" x2="410.2" y2="800.1" stroke="#f4f4f4" stroke-width="2.3" stroke-linecap="round" opacity="0.85"/>
<line x1="407.8" y1="769.8" x2="425.3" y2="750.9" stroke="#f4f4f4" stroke-width="2.3" stroke-linecap="round" opacity="0.85"/>
</g>
<line x1="419.0" y1="832.0" x2="626.4" y2="832.0" stroke="#2c2c2c" stroke-width="6.5" stroke-linecap="round"/>
<line x1="421.0" y1="832.0" x2="624.4" y2="832.0" stroke="#6a6a6a" stroke-width="3" stroke-linecap="round"/>
<g opacity="1.0" stroke-linecap="round"><line x1="413.0" y1="827.5" x2="630.4" y2="827.5" stroke="#2a2a2a" stroke-width="9.6"/><line x1="413.0" y1="827.5" x2="630.4" y2="827.5" stroke="#8e8e8e" stroke-width="7.8"/><line x1="413.0" y1="825.9" x2="630.4" y2="825.9" stroke="#ffffff" stroke-width="3.0" opacity="0.9"/></g>
<rect x="434.7" y="824.0" width="5" height="7" fill="#4a4a4a" opacity="0.6"/>
<rect x="451.8" y="824.0" width="5" height="7" fill="#4a4a4a" opacity="0.6"/>
<rect x="476.1" y="824.0" width="5" height="7" fill="#4a4a4a" opacity="0.6"/>
<rect x="497.4" y="824.0" width="5" height="7" fill="#4a4a4a" opacity="0.6"/>
<rect x="522.0" y="824.0" width="5" height="7" fill="#4a4a4a" opacity="0.6"/>
<rect x="540.2" y="824.0" width="5" height="7" fill="#4a4a4a" opacity="0.6"/>
<rect x="562.4" y="824.0" width="5" height="7" fill="#4a4a4a" opacity="0.6"/>
<rect x="584.9" y="824.0" width="5" height="7" fill="#4a4a4a" opacity="0.6"/>
<rect x="605.5" y="824.0" width="5" height="7" fill="#4a4a4a" opacity="0.6"/>
<rect x="420.0" y="824.0" width="7" height="7.5" fill="#3d62e8"/><rect x="420.0" y="825.2" width="7" height="2" fill="#8aa4ff"/>
<rect x="617.4" y="824.0" width="7" height="7.5" fill="#3d62e8"/><rect x="617.4" y="825.2" width="7" height="2" fill="#8aa4ff"/>
<ellipse cx="431.0" cy="827.0" rx="6" ry="4.6" fill="#d40000"/><ellipse cx="429.5" cy="825.2" rx="2.4" ry="1.5" fill="#ff8080"/>
<ellipse cx="510.3" cy="827.0" rx="6" ry="4.6" fill="#d40000"/><ellipse cx="508.8" cy="825.2" rx="2.4" ry="1.5" fill="#ff8080"/>
<ellipse cx="605.4" cy="827.0" rx="6" ry="4.6" fill="#d40000"/><ellipse cx="603.9" cy="825.2" rx="2.4" ry="1.5" fill="#ff8080"/>
<g opacity="1.0" stroke-linecap="round"><line x1="408.0" y1="828.0" x2="404.0" y2="814.0" stroke="#7a7a7a" stroke-width="8.0"/><line x1="408.0" y1="828.0" x2="404.0" y2="814.0" stroke="#e2e2e2" stroke-width="6.2"/><line x1="409.2" y1="827.7" x2="405.2" y2="813.7" stroke="#ffffff" stroke-width="2.4" opacity="0.9"/></g>
<g opacity="1.0" stroke-linecap="round"><line x1="408.0" y1="828.0" x2="404.0" y2="842.0" stroke="#7a7a7a" stroke-width="8.0"/><line x1="408.0" y1="828.0" x2="404.0" y2="842.0" stroke="#e2e2e2" stroke-width="6.2"/><line x1="406.8" y1="827.7" x2="402.8" y2="841.7" stroke="#ffffff" stroke-width="2.4" opacity="0.9"/></g>
<g opacity="1.0" stroke-linecap="round"><line x1="414.0" y1="828.0" x2="401.0" y2="828.0" stroke="#7a7a7a" stroke-width="8.0"/><line x1="414.0" y1="828.0" x2="401.0" y2="828.0" stroke="#e2e2e2" stroke-width="6.2"/><line x1="414.0" y1="826.8" x2="401.0" y2="826.8" stroke="#ffffff" stroke-width="2.4" opacity="0.9"/></g>
<circle cx="409.0" cy="828.0" r="4" fill="#5a5a5a"/>
<g opacity="1.0" stroke-linecap="round"><line x1="635.4" y1="828.0" x2="639.4" y2="814.0" stroke="#7a7a7a" stroke-width="8.0"/><line x1="635.4" y1="828.0" x2="639.4" y2="814.0" stroke="#e2e2e2" stroke-width="6.2"/><line x1="634.2" y1="827.7" x2="638.2" y2="813.7" stroke="#ffffff" stroke-width="2.4" opacity="0.9"/></g>
<g opacity="1.0" stroke-linecap="round"><line x1="635.4" y1="828.0" x2="639.4" y2="842.0" stroke="#7a7a7a" stroke-width="8.0"/><line x1="635.4" y1="828.0" x2="639.4" y2="842.0" stroke="#e2e2e2" stroke-width="6.2"/><line x1="636.6" y1="827.7" x2="640.6" y2="841.7" stroke="#ffffff" stroke-width="2.4" opacity="0.9"/></g>
<g opacity="1.0" stroke-linecap="round"><line x1="629.4" y1="828.0" x2="642.4" y2="828.0" stroke="#7a7a7a" stroke-width="8.0"/><line x1="629.4" y1="828.0" x2="642.4" y2="828.0" stroke="#e2e2e2" stroke-width="6.2"/><line x1="629.4" y1="826.8" x2="642.4" y2="826.8" stroke="#ffffff" stroke-width="2.4" opacity="0.9"/></g>
<circle cx="634.4" cy="828.0" r="4" fill="#5a5a5a"/>
<g opacity="1.0">
<g opacity="1.0" stroke-linecap="round"><line x1="466.4" y1="855.6" x2="464.0" y2="863.3" stroke="#888" stroke-width="7.4"/><line x1="466.4" y1="855.6" x2="464.0" y2="863.3" stroke="#e4e4e4" stroke-width="5.6"/><line x1="465.3" y1="855.3" x2="463.0" y2="862.9" stroke="#ffffff" stroke-width="2.1" opacity="0.9"/></g>
<g opacity="1.0" stroke-linecap="round"><line x1="456.4" y1="849.9" x2="451.0" y2="855.7" stroke="#888" stroke-width="7.4"/><line x1="456.4" y1="849.9" x2="451.0" y2="855.7" stroke="#e4e4e4" stroke-width="5.6"/><line x1="455.6" y1="849.1" x2="450.1" y2="855.0" stroke="#ffffff" stroke-width="2.1" opacity="0.9"/></g>
<g opacity="1.0" stroke-linecap="round"><line x1="481.5" y1="806.4" x2="483.9" y2="798.7" stroke="#888" stroke-width="7.4"/><line x1="481.5" y1="806.4" x2="483.9" y2="798.7" stroke="#e4e4e4" stroke-width="5.6"/><line x1="480.5" y1="806.0" x2="482.8" y2="798.4" stroke="#ffffff" stroke-width="2.1" opacity="0.9"/></g>
<g opacity="1.0" stroke-linecap="round"><line x1="491.5" y1="812.1" x2="496.9" y2="806.3" stroke="#888" stroke-width="7.4"/><line x1="491.5" y1="812.1" x2="496.9" y2="806.3" stroke="#e4e4e4" stroke-width="5.6"/><line x1="490.7" y1="811.4" x2="496.1" y2="805.5" stroke="#ffffff" stroke-width="2.1" opacity="0.9"/></g>
<path d="M483.9,836.8 L466.4,855.6 L456.4,849.9 L464.0,825.2 L481.5,806.4 L491.5,812.1 Z" fill="none" stroke="#222222" stroke-width="8.3" stroke-linejoin="round"/><path d="M483.9,836.8 L466.4,855.6 L456.4,849.9 L464.0,825.2 L481.5,806.4 L491.5,812.1 Z" fill="none" stroke="#7e7e7e" stroke-width="6.5" stroke-linejoin="round"/>
<line x1="466.4" y1="854.6" x2="456.4" y2="848.9" stroke="#f4f4f4" stroke-width="2.3" stroke-linecap="round" opacity="0.85"/>
<line x1="481.5" y1="805.4" x2="491.5" y2="811.1" stroke="#f4f4f4" stroke-width="2.3" stroke-linecap="round" opacity="0.85"/>
<line x1="483.9" y1="835.8" x2="466.4" y2="854.6" stroke="#f4f4f4" stroke-width="2.3" stroke-linecap="round" opacity="0.85"/>
<line x1="464.0" y1="824.2" x2="481.5" y2="805.4" stroke="#f4f4f4" stroke-width="2.3" stroke-linecap="round" opacity="0.85"/>
</g>
<g opacity="0.95">
<g opacity="1.0" stroke-linecap="round"><line x1="742.0" y1="581.2" x2="739.8" y2="588.9" stroke="#888" stroke-width="7.4"/><line x1="742.0" y1="581.2" x2="739.8" y2="588.9" stroke="#eaeaea" stroke-width="5.6"/><line x1="740.9" y1="580.9" x2="738.8" y2="588.6" stroke="#ffffff" stroke-width="2.1" opacity="0.9"/></g>
<g opacity="1.0" stroke-linecap="round"><line x1="733.5" y1="577.1" x2="728.7" y2="583.5" stroke="#888" stroke-width="7.4"/><line x1="733.5" y1="577.1" x2="728.7" y2="583.5" stroke="#eaeaea" stroke-width="5.6"/><line x1="732.5" y1="576.4" x2="727.8" y2="582.8" stroke="#ffffff" stroke-width="2.1" opacity="0.9"/></g>
<g opacity="1.0" stroke-linecap="round"><line x1="756.2" y1="530.4" x2="758.4" y2="522.7" stroke="#888" stroke-width="7.4"/><line x1="756.2" y1="530.4" x2="758.4" y2="522.7" stroke="#eaeaea" stroke-width="5.6"/><line x1="755.2" y1="530.1" x2="757.3" y2="522.4" stroke="#ffffff" stroke-width="2.1" opacity="0.9"/></g>
<g opacity="1.0" stroke-linecap="round"><line x1="764.8" y1="534.5" x2="769.5" y2="528.1" stroke="#888" stroke-width="7.4"/><line x1="764.8" y1="534.5" x2="769.5" y2="528.1" stroke="#eaeaea" stroke-width="5.6"/><line x1="763.9" y1="533.9" x2="768.6" y2="527.4" stroke="#ffffff" stroke-width="2.1" opacity="0.9"/></g>
<path d="M757.6,560.0 L742.0,581.2 L733.5,577.1 L740.6,551.6 L756.2,530.4 L764.8,534.5 Z" fill="none" stroke="#6e6e6e" stroke-width="7.8" stroke-linejoin="round"/><path d="M757.6,560.0 L742.0,581.2 L733.5,577.1 L740.6,551.6 L756.2,530.4 L764.8,534.5 Z" fill="none" stroke="#b4b4b4" stroke-width="6.0" stroke-linejoin="round"/>
<line x1="742.0" y1="580.2" x2="733.5" y2="576.1" stroke="#f4f4f4" stroke-width="2.1" stroke-linecap="round" opacity="0.85"/>
<line x1="756.2" y1="529.4" x2="764.8" y2="533.5" stroke="#f4f4f4" stroke-width="2.1" stroke-linecap="round" opacity="0.85"/>
<line x1="757.6" y1="559.0" x2="742.0" y2="580.2" stroke="#f4f4f4" stroke-width="2.1" stroke-linecap="round" opacity="0.85"/>
<line x1="740.6" y1="550.6" x2="756.2" y2="529.4" stroke="#f4f4f4" stroke-width="2.1" stroke-linecap="round" opacity="0.85"/>
</g>
<g opacity="0.9">
<g opacity="1.0" stroke-linecap="round"><line x1="686.4" y1="608.2" x2="684.5" y2="616.0" stroke="#888" stroke-width="7.4"/><line x1="686.4" y1="608.2" x2="684.5" y2="616.0" stroke="#eeeeee" stroke-width="5.6"/><line x1="685.4" y1="608.0" x2="683.4" y2="615.7" stroke="#ffffff" stroke-width="2.1" opacity="0.9"/></g>
<g opacity="1.0" stroke-linecap="round"><line x1="678.4" y1="604.3" x2="673.5" y2="610.6" stroke="#888" stroke-width="7.4"/><line x1="678.4" y1="604.3" x2="673.5" y2="610.6" stroke="#eeeeee" stroke-width="5.6"/><line x1="677.5" y1="603.6" x2="672.6" y2="609.9" stroke="#ffffff" stroke-width="2.1" opacity="0.9"/></g>
<g opacity="1.0" stroke-linecap="round"><line x1="697.3" y1="565.4" x2="699.3" y2="557.6" stroke="#888" stroke-width="7.4"/><line x1="697.3" y1="565.4" x2="699.3" y2="557.6" stroke="#eeeeee" stroke-width="5.6"/><line x1="696.3" y1="565.1" x2="698.2" y2="557.3" stroke="#ffffff" stroke-width="2.1" opacity="0.9"/></g>
<g opacity="1.0" stroke-linecap="round"><line x1="705.4" y1="569.3" x2="710.3" y2="563.0" stroke="#888" stroke-width="7.4"/><line x1="705.4" y1="569.3" x2="710.3" y2="563.0" stroke="#eeeeee" stroke-width="5.6"/><line x1="704.5" y1="568.6" x2="709.4" y2="562.3" stroke="#ffffff" stroke-width="2.1" opacity="0.9"/></g>
<path d="M700.0,590.7 L686.4,608.2 L678.4,604.3 L683.8,582.9 L697.3,565.4 L705.4,569.3 Z" fill="none" stroke="#7a7a7a" stroke-width="7.6" stroke-linejoin="round"/><path d="M700.0,590.7 L686.4,608.2 L678.4,604.3 L683.8,582.9 L697.3,565.4 L705.4,569.3 Z" fill="none" stroke="#bcbcbc" stroke-width="5.8" stroke-linejoin="round"/>
<line x1="686.4" y1="607.2" x2="678.4" y2="603.3" stroke="#f4f4f4" stroke-width="2.0" stroke-linecap="round" opacity="0.85"/>
<line x1="697.3" y1="564.4" x2="705.4" y2="568.3" stroke="#f4f4f4" stroke-width="2.0" stroke-linecap="round" opacity="0.85"/>
<line x1="700.0" y1="589.7" x2="686.4" y2="607.2" stroke="#f4f4f4" stroke-width="2.0" stroke-linecap="round" opacity="0.85"/>
<line x1="683.8" y1="581.9" x2="697.3" y2="564.4" stroke="#f4f4f4" stroke-width="2.0" stroke-linecap="round" opacity="0.85"/>
</g>
<g opacity="0.95">
<g opacity="1.0" stroke-linecap="round"><line x1="787.2" y1="635.8" x2="785.0" y2="643.5" stroke="#888" stroke-width="7.4"/><line x1="787.2" y1="635.8" x2="785.0" y2="643.5" stroke="#eaeaea" stroke-width="5.6"/><line x1="786.1" y1="635.5" x2="784.0" y2="643.2" stroke="#ffffff" stroke-width="2.1" opacity="0.9"/></g>
<g opacity="1.0" stroke-linecap="round"><line x1="778.6" y1="631.7" x2="773.9" y2="638.1" stroke="#888" stroke-width="7.4"/><line x1="778.6" y1="631.7" x2="773.9" y2="638.1" stroke="#eaeaea" stroke-width="5.6"/><line x1="777.7" y1="631.0" x2="773.0" y2="637.4" stroke="#ffffff" stroke-width="2.1" opacity="0.9"/></g>
<g opacity="1.0" stroke-linecap="round"><line x1="801.4" y1="585.0" x2="803.6" y2="577.3" stroke="#888" stroke-width="7.4"/><line x1="801.4" y1="585.0" x2="803.6" y2="577.3" stroke="#eaeaea" stroke-width="5.6"/><line x1="800.3" y1="584.7" x2="802.5" y2="577.0" stroke="#ffffff" stroke-width="2.1" opacity="0.9"/></g>
<g opacity="1.0" stroke-linecap="round"><line x1="810.0" y1="589.1" x2="814.7" y2="582.7" stroke="#888" stroke-width="7.4"/><line x1="810.0" y1="589.1" x2="814.7" y2="582.7" stroke="#eaeaea" stroke-width="5.6"/><line x1="809.1" y1="588.5" x2="813.8" y2="582.0" stroke="#ffffff" stroke-width="2.1" opacity="0.9"/></g>
<path d="M802.8,614.6 L787.2,635.8 L778.6,631.7 L785.8,606.2 L801.4,585.0 L810.0,589.1 Z" fill="none" stroke="#6e6e6e" stroke-width="7.8" stroke-linejoin="round"/><path d="M802.8,614.6 L787.2,635.8 L778.6,631.7 L785.8,606.2 L801.4,585.0 L810.0,589.1 Z" fill="none" stroke="#b4b4b4" stroke-width="6.0" stroke-linejoin="round"/>
<line x1="787.2" y1="634.8" x2="778.6" y2="630.7" stroke="#f4f4f4" stroke-width="2.1" stroke-linecap="round" opacity="0.85"/>
<line x1="801.4" y1="584.0" x2="810.0" y2="588.1" stroke="#f4f4f4" stroke-width="2.1" stroke-linecap="round" opacity="0.85"/>
<line x1="802.8" y1="613.6" x2="787.2" y2="634.8" stroke="#f4f4f4" stroke-width="2.1" stroke-linecap="round" opacity="0.85"/>
<line x1="785.8" y1="605.2" x2="801.4" y2="584.0" stroke="#f4f4f4" stroke-width="2.1" stroke-linecap="round" opacity="0.85"/>
</g>
<g opacity="0.9">
<g opacity="1.0" stroke-linecap="round"><line x1="734.4" y1="662.8" x2="732.4" y2="670.6" stroke="#888" stroke-width="7.4"/><line x1="734.4" y1="662.8" x2="732.4" y2="670.6" stroke="#eeeeee" stroke-width="5.6"/><line x1="733.3" y1="662.6" x2="731.4" y2="670.3" stroke="#ffffff" stroke-width="2.1" opacity="0.9"/></g>
<g opacity="1.0" stroke-linecap="round"><line x1="726.3" y1="658.9" x2="721.4" y2="665.2" stroke="#888" stroke-width="7.4"/><line x1="726.3" y1="658.9" x2="721.4" y2="665.2" stroke="#eeeeee" stroke-width="5.6"/><line x1="725.4" y1="658.2" x2="720.5" y2="664.5" stroke="#ffffff" stroke-width="2.1" opacity="0.9"/></g>
<g opacity="1.0" stroke-linecap="round"><line x1="745.3" y1="620.0" x2="747.3" y2="612.2" stroke="#888" stroke-width="7.4"/><line x1="745.3" y1="620.0" x2="747.3" y2="612.2" stroke="#eeeeee" stroke-width="5.6"/><line x1="744.2" y1="619.7" x2="746.2" y2="611.9" stroke="#ffffff" stroke-width="2.1" opacity="0.9"/></g>
<g opacity="1.0" stroke-linecap="round"><line x1="753.4" y1="623.9" x2="758.3" y2="617.6" stroke="#888" stroke-width="7.4"/><line x1="753.4" y1="623.9" x2="758.3" y2="617.6" stroke="#eeeeee" stroke-width="5.6"/><line x1="752.5" y1="623.2" x2="757.4" y2="616.9" stroke="#ffffff" stroke-width="2.1" opacity="0.9"/></g>
<path d="M748.0,645.3 L734.4,662.8 L726.3,658.9 L731.8,637.5 L745.3,620.0 L753.4,623.9 Z" fill="none" stroke="#7a7a7a" stroke-width="7.6" stroke-linejoin="round"/><path d="M748.0,645.3 L734.4,662.8 L726.3,658.9 L731.8,637.5 L745.3,620.0 L753.4,623.9 Z" fill="none" stroke="#bcbcbc" stroke-width="5.8" stroke-linejoin="round"/>
<line x1="734.4" y1="661.8" x2="726.3" y2="657.9" stroke="#f4f4f4" stroke-width="2.0" stroke-linecap="round" opacity="0.85"/>
<line x1="745.3" y1="619.0" x2="753.4" y2="622.9" stroke="#f4f4f4" stroke-width="2.0" stroke-linecap="round" opacity="0.85"/>
<line x1="748.0" y1="644.3" x2="734.4" y2="661.8" stroke="#f4f4f4" stroke-width="2.0" stroke-linecap="round" opacity="0.85"/>
<line x1="731.8" y1="636.5" x2="745.3" y2="619.0" stroke="#f4f4f4" stroke-width="2.0" stroke-linecap="round" opacity="0.85"/>
</g>
<g opacity="0.95">
<g opacity="1.0" stroke-linecap="round"><line x1="837.4" y1="686.4" x2="835.2" y2="694.1" stroke="#888" stroke-width="7.4"/><line x1="837.4" y1="686.4" x2="835.2" y2="694.1" stroke="#eaeaea" stroke-width="5.6"/><line x1="836.3" y1="686.1" x2="834.1" y2="693.8" stroke="#ffffff" stroke-width="2.1" opacity="0.9"/></g>
<g opacity="1.0" stroke-linecap="round"><line x1="828.8" y1="682.3" x2="824.1" y2="688.7" stroke="#888" stroke-width="7.4"/><line x1="828.8" y1="682.3" x2="824.1" y2="688.7" stroke="#eaeaea" stroke-width="5.6"/><line x1="827.9" y1="681.6" x2="823.2" y2="688.0" stroke="#ffffff" stroke-width="2.1" opacity="0.9"/></g>
<g opacity="1.0" stroke-linecap="round"><line x1="851.6" y1="635.6" x2="853.8" y2="627.9" stroke="#888" stroke-width="7.4"/><line x1="851.6" y1="635.6" x2="853.8" y2="627.9" stroke="#eaeaea" stroke-width="5.6"/><line x1="850.5" y1="635.3" x2="852.7" y2="627.6" stroke="#ffffff" stroke-width="2.1" opacity="0.9"/></g>
<g opacity="1.0" stroke-linecap="round"><line x1="860.1" y1="639.7" x2="864.9" y2="633.3" stroke="#888" stroke-width="7.4"/><line x1="860.1" y1="639.7" x2="864.9" y2="633.3" stroke="#eaeaea" stroke-width="5.6"/><line x1="859.2" y1="639.1" x2="864.0" y2="632.6" stroke="#ffffff" stroke-width="2.1" opacity="0.9"/></g>
<path d="M853.0,665.2 L837.4,686.4 L828.8,682.3 L836.0,656.8 L851.6,635.6 L860.1,639.7 Z" fill="none" stroke="#6e6e6e" stroke-width="7.8" stroke-linejoin="round"/><path d="M853.0,665.2 L837.4,686.4 L828.8,682.3 L836.0,656.8 L851.6,635.6 L860.1,639.7 Z" fill="none" stroke="#b4b4b4" stroke-width="6.0" stroke-linejoin="round"/>
<line x1="837.4" y1="685.4" x2="828.8" y2="681.3" stroke="#f4f4f4" stroke-width="2.1" stroke-linecap="round" opacity="0.85"/>
<line x1="851.6" y1="634.6" x2="860.1" y2="638.7" stroke="#f4f4f4" stroke-width="2.1" stroke-linecap="round" opacity="0.85"/>
<line x1="853.0" y1="664.2" x2="837.4" y2="685.4" stroke="#f4f4f4" stroke-width="2.1" stroke-linecap="round" opacity="0.85"/>
<line x1="836.0" y1="655.8" x2="851.6" y2="634.6" stroke="#f4f4f4" stroke-width="2.1" stroke-linecap="round" opacity="0.85"/>
</g>
<g opacity="0.9">
<g opacity="1.0" stroke-linecap="round"><line x1="791.2" y1="713.4" x2="789.2" y2="721.2" stroke="#888" stroke-width="7.4"/><line x1="791.2" y1="713.4" x2="789.2" y2="721.2" stroke="#eeeeee" stroke-width="5.6"/><line x1="790.1" y1="713.2" x2="788.2" y2="720.9" stroke="#ffffff" stroke-width="2.1" opacity="0.9"/></g>
<g opacity="1.0" stroke-linecap="round"><line x1="783.1" y1="709.5" x2="778.2" y2="715.8" stroke="#888" stroke-width="7.4"/><line x1="783.1" y1="709.5" x2="778.2" y2="715.8" stroke="#eeeeee" stroke-width="5.6"/><line x1="782.2" y1="708.8" x2="777.3" y2="715.1" stroke="#ffffff" stroke-width="2.1" opacity="0.9"/></g>
<g opacity="1.0" stroke-linecap="round"><line x1="802.1" y1="670.6" x2="804.1" y2="662.8" stroke="#888" stroke-width="7.4"/><line x1="802.1" y1="670.6" x2="804.1" y2="662.8" stroke="#eeeeee" stroke-width="5.6"/><line x1="801.0" y1="670.3" x2="803.0" y2="662.5" stroke="#ffffff" stroke-width="2.1" opacity="0.9"/></g>
<g opacity="1.0" stroke-linecap="round"><line x1="810.2" y1="674.5" x2="815.1" y2="668.2" stroke="#888" stroke-width="7.4"/><line x1="810.2" y1="674.5" x2="815.1" y2="668.2" stroke="#eeeeee" stroke-width="5.6"/><line x1="809.3" y1="673.8" x2="814.2" y2="667.5" stroke="#ffffff" stroke-width="2.1" opacity="0.9"/></g>
<path d="M804.8,695.9 L791.2,713.4 L783.1,709.5 L788.6,688.1 L802.1,670.6 L810.2,674.5 Z" fill="none" stroke="#7a7a7a" stroke-width="7.6" stroke-linejoin="round"/><path d="M804.8,695.9 L791.2,713.4 L783.1,709.5 L788.6,688.1 L802.1,670.6 L810.2,674.5 Z" fill="none" stroke="#bcbcbc" stroke-width="5.8" stroke-linejoin="round"/>
<line x1="791.2" y1="712.4" x2="783.1" y2="708.5" stroke="#f4f4f4" stroke-width="2.0" stroke-linecap="round" opacity="0.85"/>
<line x1="802.1" y1="669.6" x2="810.2" y2="673.5" stroke="#f4f4f4" stroke-width="2.0" stroke-linecap="round" opacity="0.85"/>
<line x1="804.8" y1="694.9" x2="791.2" y2="712.4" stroke="#f4f4f4" stroke-width="2.0" stroke-linecap="round" opacity="0.85"/>
<line x1="788.6" y1="687.1" x2="802.1" y2="669.6" stroke="#f4f4f4" stroke-width="2.0" stroke-linecap="round" opacity="0.85"/>
</g>
<g opacity="0.95">
<g opacity="1.0" stroke-linecap="round"><line x1="891.3" y1="743.4" x2="889.1" y2="751.1" stroke="#888" stroke-width="7.4"/><line x1="891.3" y1="743.4" x2="889.1" y2="751.1" stroke="#eaeaea" stroke-width="5.6"/><line x1="890.2" y1="743.1" x2="888.0" y2="750.8" stroke="#ffffff" stroke-width="2.1" opacity="0.9"/></g>
<g opacity="1.0" stroke-linecap="round"><line x1="882.7" y1="739.3" x2="878.0" y2="745.7" stroke="#888" stroke-width="7.4"/><line x1="882.7" y1="739.3" x2="878.0" y2="745.7" stroke="#eaeaea" stroke-width="5.6"/><line x1="881.8" y1="738.6" x2="877.1" y2="745.0" stroke="#ffffff" stroke-width="2.1" opacity="0.9"/></g>
<g opacity="1.0" stroke-linecap="round"><line x1="905.5" y1="692.6" x2="907.7" y2="684.9" stroke="#888" stroke-width="7.4"/><line x1="905.5" y1="692.6" x2="907.7" y2="684.9" stroke="#eaeaea" stroke-width="5.6"/><line x1="904.4" y1="692.3" x2="906.6" y2="684.6" stroke="#ffffff" stroke-width="2.1" opacity="0.9"/></g>
<g opacity="1.0" stroke-linecap="round"><line x1="914.0" y1="696.7" x2="918.8" y2="690.3" stroke="#888" stroke-width="7.4"/><line x1="914.0" y1="696.7" x2="918.8" y2="690.3" stroke="#eaeaea" stroke-width="5.6"/><line x1="913.1" y1="696.1" x2="917.9" y2="689.6" stroke="#ffffff" stroke-width="2.1" opacity="0.9"/></g>
<path d="M906.9,722.2 L891.3,743.4 L882.7,739.3 L889.8,713.8 L905.5,692.6 L914.0,696.7 Z" fill="none" stroke="#6e6e6e" stroke-width="7.8" stroke-linejoin="round"/><path d="M906.9,722.2 L891.3,743.4 L882.7,739.3 L889.8,713.8 L905.5,692.6 L914.0,696.7 Z" fill="none" stroke="#b4b4b4" stroke-width="6.0" stroke-linejoin="round"/>
<line x1="891.3" y1="742.4" x2="882.7" y2="738.3" stroke="#f4f4f4" stroke-width="2.1" stroke-linecap="round" opacity="0.85"/>
<line x1="905.5" y1="691.6" x2="914.0" y2="695.7" stroke="#f4f4f4" stroke-width="2.1" stroke-linecap="round" opacity="0.85"/>
<line x1="906.9" y1="721.2" x2="891.3" y2="742.4" stroke="#f4f4f4" stroke-width="2.1" stroke-linecap="round" opacity="0.85"/>
<line x1="889.8" y1="712.8" x2="905.5" y2="691.6" stroke="#f4f4f4" stroke-width="2.1" stroke-linecap="round" opacity="0.85"/>
</g>
<g opacity="0.9">
<g opacity="1.0" stroke-linecap="round"><line x1="843.3" y1="770.4" x2="841.3" y2="778.2" stroke="#888" stroke-width="7.4"/><line x1="843.3" y1="770.4" x2="841.3" y2="778.2" stroke="#eeeeee" stroke-width="5.6"/><line x1="842.2" y1="770.2" x2="840.2" y2="777.9" stroke="#ffffff" stroke-width="2.1" opacity="0.9"/></g>
<g opacity="1.0" stroke-linecap="round"><line x1="835.2" y1="766.5" x2="830.3" y2="772.8" stroke="#888" stroke-width="7.4"/><line x1="835.2" y1="766.5" x2="830.3" y2="772.8" stroke="#eeeeee" stroke-width="5.6"/><line x1="834.3" y1="765.8" x2="829.4" y2="772.1" stroke="#ffffff" stroke-width="2.1" opacity="0.9"/></g>
<g opacity="1.0" stroke-linecap="round"><line x1="854.2" y1="727.6" x2="856.1" y2="719.8" stroke="#888" stroke-width="7.4"/><line x1="854.2" y1="727.6" x2="856.1" y2="719.8" stroke="#eeeeee" stroke-width="5.6"/><line x1="853.1" y1="727.3" x2="855.0" y2="719.5" stroke="#ffffff" stroke-width="2.1" opacity="0.9"/></g>
<g opacity="1.0" stroke-linecap="round"><line x1="862.3" y1="731.5" x2="867.1" y2="725.2" stroke="#888" stroke-width="7.4"/><line x1="862.3" y1="731.5" x2="867.1" y2="725.2" stroke="#eeeeee" stroke-width="5.6"/><line x1="861.4" y1="730.8" x2="866.3" y2="724.5" stroke="#ffffff" stroke-width="2.1" opacity="0.9"/></g>
<path d="M856.8,752.9 L843.3,770.4 L835.2,766.5 L840.6,745.1 L854.2,727.6 L862.3,731.5 Z" fill="none" stroke="#7a7a7a" stroke-width="7.6" stroke-linejoin="round"/><path d="M856.8,752.9 L843.3,770.4 L835.2,766.5 L840.6,745.1 L854.2,727.6 L862.3,731.5 Z" fill="none" stroke="#bcbcbc" stroke-width="5.8" stroke-linejoin="round"/>
<line x1="843.3" y1="769.4" x2="835.2" y2="765.5" stroke="#f4f4f4" stroke-width="2.0" stroke-linecap="round" opacity="0.85"/>
<line x1="854.2" y1="726.6" x2="862.3" y2="730.5" stroke="#f4f4f4" stroke-width="2.0" stroke-linecap="round" opacity="0.85"/>
<line x1="856.8" y1="751.9" x2="843.3" y2="769.4" stroke="#f4f4f4" stroke-width="2.0" stroke-linecap="round" opacity="0.85"/>
<line x1="840.6" y1="744.1" x2="854.2" y2="726.6" stroke="#f4f4f4" stroke-width="2.0" stroke-linecap="round" opacity="0.85"/>
</g>
<g opacity="0.95">
<g opacity="1.0" stroke-linecap="round"><line x1="933.6" y1="793.4" x2="931.5" y2="801.1" stroke="#888" stroke-width="7.4"/><line x1="933.6" y1="793.4" x2="931.5" y2="801.1" stroke="#eaeaea" stroke-width="5.6"/><line x1="932.5" y1="793.1" x2="930.4" y2="800.8" stroke="#ffffff" stroke-width="2.1" opacity="0.9"/></g>
<g opacity="1.0" stroke-linecap="round"><line x1="925.1" y1="789.3" x2="920.3" y2="795.7" stroke="#888" stroke-width="7.4"/><line x1="925.1" y1="789.3" x2="920.3" y2="795.7" stroke="#eaeaea" stroke-width="5.6"/><line x1="924.2" y1="788.6" x2="919.4" y2="795.0" stroke="#ffffff" stroke-width="2.1" opacity="0.9"/></g>
<g opacity="1.0" stroke-linecap="round"><line x1="947.8" y1="742.6" x2="950.0" y2="734.9" stroke="#888" stroke-width="7.4"/><line x1="947.8" y1="742.6" x2="950.0" y2="734.9" stroke="#eaeaea" stroke-width="5.6"/><line x1="946.8" y1="742.3" x2="948.9" y2="734.6" stroke="#ffffff" stroke-width="2.1" opacity="0.9"/></g>
<g opacity="1.0" stroke-linecap="round"><line x1="956.4" y1="746.7" x2="961.1" y2="740.3" stroke="#888" stroke-width="7.4"/><line x1="956.4" y1="746.7" x2="961.1" y2="740.3" stroke="#eaeaea" stroke-width="5.6"/><line x1="955.5" y1="746.1" x2="960.2" y2="739.6" stroke="#ffffff" stroke-width="2.1" opacity="0.9"/></g>
<path d="M949.3,772.2 L933.6,793.4 L925.1,789.3 L932.2,763.8 L947.8,742.6 L956.4,746.7 Z" fill="none" stroke="#6e6e6e" stroke-width="7.8" stroke-linejoin="round"/><path d="M949.3,772.2 L933.6,793.4 L925.1,789.3 L932.2,763.8 L947.8,742.6 L956.4,746.7 Z" fill="none" stroke="#b4b4b4" stroke-width="6.0" stroke-linejoin="round"/>
<line x1="933.6" y1="792.4" x2="925.1" y2="788.3" stroke="#f4f4f4" stroke-width="2.1" stroke-linecap="round" opacity="0.85"/>
<line x1="947.8" y1="741.6" x2="956.4" y2="745.7" stroke="#f4f4f4" stroke-width="2.1" stroke-linecap="round" opacity="0.85"/>
<line x1="949.3" y1="771.2" x2="933.6" y2="792.4" stroke="#f4f4f4" stroke-width="2.1" stroke-linecap="round" opacity="0.85"/>
<line x1="932.2" y1="762.8" x2="947.8" y2="741.6" stroke="#f4f4f4" stroke-width="2.1" stroke-linecap="round" opacity="0.85"/>
</g>
<g opacity="0.9">
<g opacity="1.0" stroke-linecap="round"><line x1="886.3" y1="820.4" x2="884.3" y2="828.2" stroke="#888" stroke-width="7.4"/><line x1="886.3" y1="820.4" x2="884.3" y2="828.2" stroke="#eeeeee" stroke-width="5.6"/><line x1="885.2" y1="820.2" x2="883.2" y2="827.9" stroke="#ffffff" stroke-width="2.1" opacity="0.9"/></g>
<g opacity="1.0" stroke-linecap="round"><line x1="878.2" y1="816.5" x2="873.3" y2="822.8" stroke="#888" stroke-width="7.4"/><line x1="878.2" y1="816.5" x2="873.3" y2="822.8" stroke="#eeeeee" stroke-width="5.6"/><line x1="877.3" y1="815.8" x2="872.4" y2="822.1" stroke="#ffffff" stroke-width="2.1" opacity="0.9"/></g>
<g opacity="1.0" stroke-linecap="round"><line x1="897.1" y1="777.6" x2="899.1" y2="769.8" stroke="#888" stroke-width="7.4"/><line x1="897.1" y1="777.6" x2="899.1" y2="769.8" stroke="#eeeeee" stroke-width="5.6"/><line x1="896.1" y1="777.3" x2="898.0" y2="769.5" stroke="#ffffff" stroke-width="2.1" opacity="0.9"/></g>
<g opacity="1.0" stroke-linecap="round"><line x1="905.2" y1="781.5" x2="910.1" y2="775.2" stroke="#888" stroke-width="7.4"/><line x1="905.2" y1="781.5" x2="910.1" y2="775.2" stroke="#eeeeee" stroke-width="5.6"/><line x1="904.4" y1="780.8" x2="909.2" y2="774.5" stroke="#ffffff" stroke-width="2.1" opacity="0.9"/></g>
<path d="M899.8,802.9 L886.3,820.4 L878.2,816.5 L883.6,795.1 L897.1,777.6 L905.2,781.5 Z" fill="none" stroke="#7a7a7a" stroke-width="7.6" stroke-linejoin="round"/><path d="M899.8,802.9 L886.3,820.4 L878.2,816.5 L883.6,795.1 L897.1,777.6 L905.2,781.5 Z" fill="none" stroke="#bcbcbc" stroke-width="5.8" stroke-linejoin="round"/>
<line x1="886.3" y1="819.4" x2="878.2" y2="815.5" stroke="#f4f4f4" stroke-width="2.0" stroke-linecap="round" opacity="0.85"/>
<line x1="897.1" y1="776.6" x2="905.2" y2="780.5" stroke="#f4f4f4" stroke-width="2.0" stroke-linecap="round" opacity="0.85"/>
<line x1="899.8" y1="801.9" x2="886.3" y2="819.4" stroke="#f4f4f4" stroke-width="2.0" stroke-linecap="round" opacity="0.85"/>
<line x1="883.6" y1="794.1" x2="897.1" y2="776.6" stroke="#f4f4f4" stroke-width="2.0" stroke-linecap="round" opacity="0.85"/>
</g>
<g opacity="0.95">
<g opacity="1.0" stroke-linecap="round"><line x1="987.9" y1="845.4" x2="985.8" y2="853.1" stroke="#888" stroke-width="7.4"/><line x1="987.9" y1="845.4" x2="985.8" y2="853.1" stroke="#eaeaea" stroke-width="5.6"/><line x1="986.8" y1="845.1" x2="984.7" y2="852.8" stroke="#ffffff" stroke-width="2.1" opacity="0.9"/></g>
<g opacity="1.0" stroke-linecap="round"><line x1="979.4" y1="841.3" x2="974.6" y2="847.7" stroke="#888" stroke-width="7.4"/><line x1="979.4" y1="841.3" x2="974.6" y2="847.7" stroke="#eaeaea" stroke-width="5.6"/><line x1="978.5" y1="840.6" x2="973.7" y2="847.0" stroke="#ffffff" stroke-width="2.1" opacity="0.9"/></g>
<g opacity="1.0" stroke-linecap="round"><line x1="1002.2" y1="794.6" x2="1004.3" y2="786.9" stroke="#888" stroke-width="7.4"/><line x1="1002.2" y1="794.6" x2="1004.3" y2="786.9" stroke="#eaeaea" stroke-width="5.6"/><line x1="1001.1" y1="794.3" x2="1003.2" y2="786.6" stroke="#ffffff" stroke-width="2.1" opacity="0.9"/></g>
<g opacity="1.0" stroke-linecap="round"><line x1="1010.7" y1="798.7" x2="1015.4" y2="792.3" stroke="#888" stroke-width="7.4"/><line x1="1010.7" y1="798.7" x2="1015.4" y2="792.3" stroke="#eaeaea" stroke-width="5.6"/><line x1="1009.8" y1="798.1" x2="1014.5" y2="791.6" stroke="#ffffff" stroke-width="2.1" opacity="0.9"/></g>
<path d="M1003.6,824.2 L987.9,845.4 L979.4,841.3 L986.5,815.8 L1002.2,794.6 L1010.7,798.7 Z" fill="none" stroke="#6e6e6e" stroke-width="7.8" stroke-linejoin="round"/><path d="M1003.6,824.2 L987.9,845.4 L979.4,841.3 L986.5,815.8 L1002.2,794.6 L1010.7,798.7 Z" fill="none" stroke="#b4b4b4" stroke-width="6.0" stroke-linejoin="round"/>
<line x1="987.9" y1="844.4" x2="979.4" y2="840.3" stroke="#f4f4f4" stroke-width="2.1" stroke-linecap="round" opacity="0.85"/>
<line x1="1002.2" y1="793.6" x2="1010.7" y2="797.7" stroke="#f4f4f4" stroke-width="2.1" stroke-linecap="round" opacity="0.85"/>
<line x1="1003.6" y1="823.2" x2="987.9" y2="844.4" stroke="#f4f4f4" stroke-width="2.1" stroke-linecap="round" opacity="0.85"/>
<line x1="986.5" y1="814.8" x2="1002.2" y2="793.6" stroke="#f4f4f4" stroke-width="2.1" stroke-linecap="round" opacity="0.85"/>
</g>
<g opacity="0.9">
<g opacity="1.0" stroke-linecap="round"><line x1="939.2" y1="872.4" x2="937.3" y2="880.2" stroke="#888" stroke-width="7.4"/><line x1="939.2" y1="872.4" x2="937.3" y2="880.2" stroke="#eeeeee" stroke-width="5.6"/><line x1="938.1" y1="872.2" x2="936.2" y2="879.9" stroke="#ffffff" stroke-width="2.1" opacity="0.9"/></g>
<g opacity="1.0" stroke-linecap="round"><line x1="931.1" y1="868.5" x2="926.2" y2="874.8" stroke="#888" stroke-width="7.4"/><line x1="931.1" y1="868.5" x2="926.2" y2="874.8" stroke="#eeeeee" stroke-width="5.6"/><line x1="930.3" y1="867.8" x2="925.4" y2="874.1" stroke="#ffffff" stroke-width="2.1" opacity="0.9"/></g>
<g opacity="1.0" stroke-linecap="round"><line x1="950.1" y1="829.6" x2="952.1" y2="821.8" stroke="#888" stroke-width="7.4"/><line x1="950.1" y1="829.6" x2="952.1" y2="821.8" stroke="#eeeeee" stroke-width="5.6"/><line x1="949.0" y1="829.3" x2="951.0" y2="821.5" stroke="#ffffff" stroke-width="2.1" opacity="0.9"/></g>
<g opacity="1.0" stroke-linecap="round"><line x1="958.2" y1="833.5" x2="963.1" y2="827.2" stroke="#888" stroke-width="7.4"/><line x1="958.2" y1="833.5" x2="963.1" y2="827.2" stroke="#eeeeee" stroke-width="5.6"/><line x1="957.3" y1="832.8" x2="962.2" y2="826.5" stroke="#ffffff" stroke-width="2.1" opacity="0.9"/></g>
<path d="M952.8,854.9 L939.2,872.4 L931.1,868.5 L936.6,847.1 L950.1,829.6 L958.2,833.5 Z" fill="none" stroke="#7a7a7a" stroke-width="7.6" stroke-linejoin="round"/><path d="M952.8,854.9 L939.2,872.4 L931.1,868.5 L936.6,847.1 L950.1,829.6 L958.2,833.5 Z" fill="none" stroke="#bcbcbc" stroke-width="5.8" stroke-linejoin="round"/>
<line x1="939.2" y1="871.4" x2="931.1" y2="867.5" stroke="#f4f4f4" stroke-width="2.0" stroke-linecap="round" opacity="0.85"/>
<line x1="950.1" y1="828.6" x2="958.2" y2="832.5" stroke="#f4f4f4" stroke-width="2.0" stroke-linecap="round" opacity="0.85"/>
<line x1="952.8" y1="853.9" x2="939.2" y2="871.4" stroke="#f4f4f4" stroke-width="2.0" stroke-linecap="round" opacity="0.85"/>
<line x1="936.6" y1="846.1" x2="950.1" y2="828.6" stroke="#f4f4f4" stroke-width="2.0" stroke-linecap="round" opacity="0.85"/>
</g>
<line x1="594.0" y1="565.8" x2="801.5" y2="565.8" stroke="#2c2c2c" stroke-width="6.5" stroke-linecap="round"/>
<line x1="596.0" y1="565.8" x2="799.5" y2="565.8" stroke="#6a6a6a" stroke-width="3" stroke-linecap="round"/>
<g opacity="1.0" stroke-linecap="round"><line x1="588.0" y1="561.3" x2="805.5" y2="561.3" stroke="#2a2a2a" stroke-width="9.6"/><line x1="588.0" y1="561.3" x2="805.5" y2="561.3" stroke="#8e8e8e" stroke-width="7.8"/><line x1="588.0" y1="559.7" x2="805.5" y2="559.7" stroke="#ffffff" stroke-width="3.0" opacity="0.9"/></g>
<rect x="608.9" y="557.8" width="5" height="7" fill="#4a4a4a" opacity="0.6"/>
<rect x="626.6" y="557.8" width="5" height="7" fill="#4a4a4a" opacity="0.6"/>
<rect x="649.4" y="557.8" width="5" height="7" fill="#4a4a4a" opacity="0.6"/>
<rect x="672.7" y="557.8" width="5" height="7" fill="#4a4a4a" opacity="0.6"/>
<rect x="691.6" y="557.8" width="5" height="7" fill="#4a4a4a" opacity="0.6"/>
<rect x="717.3" y="557.8" width="5" height="7" fill="#4a4a4a" opacity="0.6"/>
<rect x="734.8" y="557.8" width="5" height="7" fill="#4a4a4a" opacity="0.6"/>
<rect x="757.6" y="557.8" width="5" height="7" fill="#4a4a4a" opacity="0.6"/>
<rect x="782.5" y="557.8" width="5" height="7" fill="#4a4a4a" opacity="0.6"/>
<rect x="595.0" y="557.8" width="7" height="7.5" fill="#3d62e8"/><rect x="595.0" y="559.0" width="7" height="2" fill="#8aa4ff"/>
<rect x="792.5" y="557.8" width="7" height="7.5" fill="#3d62e8"/><rect x="792.5" y="559.0" width="7" height="2" fill="#8aa4ff"/>
<ellipse cx="606.0" cy="560.8" rx="6" ry="4.6" fill="#d40000"/><ellipse cx="604.5" cy="559.0" rx="2.4" ry="1.5" fill="#ff8080"/>
<ellipse cx="683.9" cy="560.8" rx="6" ry="4.6" fill="#d40000"/><ellipse cx="682.4" cy="559.0" rx="2.4" ry="1.5" fill="#ff8080"/>
<ellipse cx="780.5" cy="560.8" rx="6" ry="4.6" fill="#d40000"/><ellipse cx="779.0" cy="559.0" rx="2.4" ry="1.5" fill="#ff8080"/>
<g opacity="1.0" stroke-linecap="round"><line x1="583.0" y1="561.8" x2="579.0" y2="547.8" stroke="#7a7a7a" stroke-width="8.0"/><line x1="583.0" y1="561.8" x2="579.0" y2="547.8" stroke="#e2e2e2" stroke-width="6.2"/><line x1="584.2" y1="561.5" x2="580.2" y2="547.5" stroke="#ffffff" stroke-width="2.4" opacity="0.9"/></g>
<g opacity="1.0" stroke-linecap="round"><line x1="583.0" y1="561.8" x2="579.0" y2="575.8" stroke="#7a7a7a" stroke-width="8.0"/><line x1="583.0" y1="561.8" x2="579.0" y2="575.8" stroke="#e2e2e2" stroke-width="6.2"/><line x1="581.8" y1="561.5" x2="577.8" y2="575.5" stroke="#ffffff" stroke-width="2.4" opacity="0.9"/></g>
<g opacity="1.0" stroke-linecap="round"><line x1="589.0" y1="561.8" x2="576.0" y2="561.8" stroke="#7a7a7a" stroke-width="8.0"/><line x1="589.0" y1="561.8" x2="576.0" y2="561.8" stroke="#e2e2e2" stroke-width="6.2"/><line x1="589.0" y1="560.6" x2="576.0" y2="560.6" stroke="#ffffff" stroke-width="2.4" opacity="0.9"/></g>
<circle cx="584.0" cy="561.8" r="4" fill="#5a5a5a"/>
<g opacity="1.0" stroke-linecap="round"><line x1="810.5" y1="561.8" x2="814.5" y2="547.8" stroke="#7a7a7a" stroke-width="8.0"/><line x1="810.5" y1="561.8" x2="814.5" y2="547.8" stroke="#e2e2e2" stroke-width="6.2"/><line x1="809.3" y1="561.5" x2="813.3" y2="547.5" stroke="#ffffff" stroke-width="2.4" opacity="0.9"/></g>
<g opacity="1.0" stroke-linecap="round"><line x1="810.5" y1="561.8" x2="814.5" y2="575.8" stroke="#7a7a7a" stroke-width="8.0"/><line x1="810.5" y1="561.8" x2="814.5" y2="575.8" stroke="#e2e2e2" stroke-width="6.2"/><line x1="811.7" y1="561.5" x2="815.7" y2="575.5" stroke="#ffffff" stroke-width="2.4" opacity="0.9"/></g>
<g opacity="1.0" stroke-linecap="round"><line x1="804.5" y1="561.8" x2="817.5" y2="561.8" stroke="#7a7a7a" stroke-width="8.0"/><line x1="804.5" y1="561.8" x2="817.5" y2="561.8" stroke="#e2e2e2" stroke-width="6.2"/><line x1="804.5" y1="560.6" x2="817.5" y2="560.6" stroke="#ffffff" stroke-width="2.4" opacity="0.9"/></g>
<circle cx="809.5" cy="561.8" r="4" fill="#5a5a5a"/>
<g opacity="1.0">
<g opacity="1.0" stroke-linecap="round"><line x1="636.5" y1="589.4" x2="634.1" y2="597.1" stroke="#888" stroke-width="7.4"/><line x1="636.5" y1="589.4" x2="634.1" y2="597.1" stroke="#e4e4e4" stroke-width="5.6"/><line x1="635.4" y1="589.1" x2="633.1" y2="596.7" stroke="#ffffff" stroke-width="2.1" opacity="0.9"/></g>
<g opacity="1.0" stroke-linecap="round"><line x1="626.5" y1="583.7" x2="621.1" y2="589.5" stroke="#888" stroke-width="7.4"/><line x1="626.5" y1="583.7" x2="621.1" y2="589.5" stroke="#e4e4e4" stroke-width="5.6"/><line x1="625.7" y1="582.9" x2="620.3" y2="588.8" stroke="#ffffff" stroke-width="2.1" opacity="0.9"/></g>
<g opacity="1.0" stroke-linecap="round"><line x1="651.7" y1="540.2" x2="654.0" y2="532.5" stroke="#888" stroke-width="7.4"/><line x1="651.7" y1="540.2" x2="654.0" y2="532.5" stroke="#e4e4e4" stroke-width="5.6"/><line x1="650.6" y1="539.8" x2="652.9" y2="532.2" stroke="#ffffff" stroke-width="2.1" opacity="0.9"/></g>
<g opacity="1.0" stroke-linecap="round"><line x1="661.6" y1="545.9" x2="667.1" y2="540.1" stroke="#888" stroke-width="7.4"/><line x1="661.6" y1="545.9" x2="667.1" y2="540.1" stroke="#e4e4e4" stroke-width="5.6"/><line x1="660.8" y1="545.2" x2="666.2" y2="539.3" stroke="#ffffff" stroke-width="2.1" opacity="0.9"/></g>
<path d="M654.0,570.5 L636.5,589.4 L626.5,583.7 L634.1,559.0 L651.7,540.2 L661.6,545.9 Z" fill="none" stroke="#222222" stroke-width="8.3" stroke-linejoin="round"/><path d="M654.0,570.5 L636.5,589.4 L626.5,583.7 L634.1,559.0 L651.7,540.2 L661.6,545.9 Z" fill="none" stroke="#7e7e7e" stroke-width="6.5" stroke-linejoin="round"/>
<line x1="636.5" y1="588.4" x2="626.5" y2="582.7" stroke="#f4f4f4" stroke-width="2.3" stroke-linecap="round" opacity="0.85"/>
<line x1="651.7" y1="539.2" x2="661.6" y2="544.9" stroke="#f4f4f4" stroke-width="2.3" stroke-linecap="round" opacity="0.85"/>
<line x1="654.0" y1="569.5" x2="636.5" y2="588.4" stroke="#f4f4f4" stroke-width="2.3" stroke-linecap="round" opacity="0.85"/>
<line x1="634.1" y1="558.0" x2="651.7" y2="539.2" stroke="#f4f4f4" stroke-width="2.3" stroke-linecap="round" opacity="0.85"/>
</g>
<line x1="644.0" y1="620.4" x2="849.0" y2="620.4" stroke="#2c2c2c" stroke-width="6.5" stroke-linecap="round"/>
<line x1="646.0" y1="620.4" x2="847.0" y2="620.4" stroke="#6a6a6a" stroke-width="3" stroke-linecap="round"/>
<g opacity="1.0" stroke-linecap="round"><line x1="638.0" y1="615.9" x2="853.0" y2="615.9" stroke="#2a2a2a" stroke-width="9.6"/><line x1="638.0" y1="615.9" x2="853.0" y2="615.9" stroke="#8e8e8e" stroke-width="7.8"/><line x1="638.0" y1="614.3" x2="853.0" y2="614.3" stroke="#ffffff" stroke-width="3.0" opacity="0.9"/></g>
<rect x="657.1" y="612.4" width="5" height="7" fill="#4a4a4a" opacity="0.6"/>
<rect x="675.7" y="612.4" width="5" height="7" fill="#4a4a4a" opacity="0.6"/>
<rect x="701.7" y="612.4" width="5" height="7" fill="#4a4a4a" opacity="0.6"/>
<rect x="719.6" y="612.4" width="5" height="7" fill="#4a4a4a" opacity="0.6"/>
<rect x="744.2" y="612.4" width="5" height="7" fill="#4a4a4a" opacity="0.6"/>
<rect x="761.5" y="612.4" width="5" height="7" fill="#4a4a4a" opacity="0.6"/>
<rect x="784.6" y="612.4" width="5" height="7" fill="#4a4a4a" opacity="0.6"/>
<rect x="807.9" y="612.4" width="5" height="7" fill="#4a4a4a" opacity="0.6"/>
<rect x="830.1" y="612.4" width="5" height="7" fill="#4a4a4a" opacity="0.6"/>
<rect x="645.0" y="612.4" width="7" height="7.5" fill="#3d62e8"/><rect x="645.0" y="613.6" width="7" height="2" fill="#8aa4ff"/>
<rect x="840.0" y="612.4" width="7" height="7.5" fill="#3d62e8"/><rect x="840.0" y="613.6" width="7" height="2" fill="#8aa4ff"/>
<ellipse cx="656.0" cy="615.4" rx="6" ry="4.6" fill="#d40000"/><ellipse cx="654.5" cy="613.6" rx="2.4" ry="1.5" fill="#ff8080"/>
<ellipse cx="734.1" cy="615.4" rx="6" ry="4.6" fill="#d40000"/><ellipse cx="732.6" cy="613.6" rx="2.4" ry="1.5" fill="#ff8080"/>
<ellipse cx="828.0" cy="615.4" rx="6" ry="4.6" fill="#d40000"/><ellipse cx="826.5" cy="613.6" rx="2.4" ry="1.5" fill="#ff8080"/>
<g opacity="1.0" stroke-linecap="round"><line x1="633.0" y1="616.4" x2="629.0" y2="602.4" stroke="#7a7a7a" stroke-width="8.0"/><line x1="633.0" y1="616.4" x2="629.0" y2="602.4" stroke="#e2e2e2" stroke-width="6.2"/><line x1="634.2" y1="616.1" x2="630.2" y2="602.1" stroke="#ffffff" stroke-width="2.4" opacity="0.9"/></g>
<g opacity="1.0" stroke-linecap="round"><line x1="633.0" y1="616.4" x2="629.0" y2="630.4" stroke="#7a7a7a" stroke-width="8.0"/><line x1="633.0" y1="616.4" x2="629.0" y2="630.4" stroke="#e2e2e2" stroke-width="6.2"/><line x1="631.8" y1="616.1" x2="627.8" y2="630.1" stroke="#ffffff" stroke-width="2.4" opacity="0.9"/></g>
<g opacity="1.0" stroke-linecap="round"><line x1="639.0" y1="616.4" x2="626.0" y2="616.4" stroke="#7a7a7a" stroke-width="8.0"/><line x1="639.0" y1="616.4" x2="626.0" y2="616.4" stroke="#e2e2e2" stroke-width="6.2"/><line x1="639.0" y1="615.2" x2="626.0" y2="615.2" stroke="#ffffff" stroke-width="2.4" opacity="0.9"/></g>
<circle cx="634.0" cy="616.4" r="4" fill="#5a5a5a"/>
<g opacity="1.0" stroke-linecap="round"><line x1="858.0" y1="616.4" x2="862.0" y2="602.4" stroke="#7a7a7a" stroke-width="8.0"/><line x1="858.0" y1="616.4" x2="862.0" y2="602.4" stroke="#e2e2e2" stroke-width="6.2"/><line x1="856.8" y1="616.1" x2="860.8" y2="602.1" stroke="#ffffff" stroke-width="2.4" opacity="0.9"/></g>
<g opacity="1.0" stroke-linecap="round"><line x1="858.0" y1="616.4" x2="862.0" y2="630.4" stroke="#7a7a7a" stroke-width="8.0"/><line x1="858.0" y1="616.4" x2="862.0" y2="630.4" stroke="#e2e2e2" stroke-width="6.2"/><line x1="859.2" y1="616.1" x2="863.2" y2="630.1" stroke="#ffffff" stroke-width="2.4" opacity="0.9"/></g>
<g opacity="1.0" stroke-linecap="round"><line x1="852.0" y1="616.4" x2="865.0" y2="616.4" stroke="#7a7a7a" stroke-width="8.0"/><line x1="852.0" y1="616.4" x2="865.0" y2="616.4" stroke="#e2e2e2" stroke-width="6.2"/><line x1="852.0" y1="615.2" x2="865.0" y2="615.2" stroke="#ffffff" stroke-width="2.4" opacity="0.9"/></g>
<circle cx="857.0" cy="616.4" r="4" fill="#5a5a5a"/>
<g opacity="1.0">
<g opacity="1.0" stroke-linecap="round"><line x1="686.0" y1="644.0" x2="683.7" y2="651.7" stroke="#888" stroke-width="7.4"/><line x1="686.0" y1="644.0" x2="683.7" y2="651.7" stroke="#e4e4e4" stroke-width="5.6"/><line x1="684.9" y1="643.7" x2="682.6" y2="651.3" stroke="#ffffff" stroke-width="2.1" opacity="0.9"/></g>
<g opacity="1.0" stroke-linecap="round"><line x1="676.0" y1="638.3" x2="670.6" y2="644.1" stroke="#888" stroke-width="7.4"/><line x1="676.0" y1="638.3" x2="670.6" y2="644.1" stroke="#e4e4e4" stroke-width="5.6"/><line x1="675.2" y1="637.5" x2="669.8" y2="643.4" stroke="#ffffff" stroke-width="2.1" opacity="0.9"/></g>
<g opacity="1.0" stroke-linecap="round"><line x1="701.2" y1="594.8" x2="703.5" y2="587.1" stroke="#888" stroke-width="7.4"/><line x1="701.2" y1="594.8" x2="703.5" y2="587.1" stroke="#e4e4e4" stroke-width="5.6"/><line x1="700.1" y1="594.4" x2="702.4" y2="586.8" stroke="#ffffff" stroke-width="2.1" opacity="0.9"/></g>
<g opacity="1.0" stroke-linecap="round"><line x1="711.1" y1="600.5" x2="716.6" y2="594.7" stroke="#888" stroke-width="7.4"/><line x1="711.1" y1="600.5" x2="716.6" y2="594.7" stroke="#e4e4e4" stroke-width="5.6"/><line x1="710.3" y1="599.8" x2="715.7" y2="593.9" stroke="#ffffff" stroke-width="2.1" opacity="0.9"/></g>
<path d="M703.5,625.1 L686.0,644.0 L676.0,638.3 L683.6,613.6 L701.2,594.8 L711.1,600.5 Z" fill="none" stroke="#222222" stroke-width="8.3" stroke-linejoin="round"/><path d="M703.5,625.1 L686.0,644.0 L676.0,638.3 L683.6,613.6 L701.2,594.8 L711.1,600.5 Z" fill="none" stroke="#7e7e7e" stroke-width="6.5" stroke-linejoin="round"/>
<line x1="686.0" y1="643.0" x2="676.0" y2="637.3" stroke="#f4f4f4" stroke-width="2.3" stroke-linecap="round" opacity="0.85"/>
<line x1="701.2" y1="593.8" x2="711.1" y2="599.5" stroke="#f4f4f4" stroke-width="2.3" stroke-linecap="round" opacity="0.85"/>
<line x1="703.5" y1="624.1" x2="686.0" y2="643.0" stroke="#f4f4f4" stroke-width="2.3" stroke-linecap="round" opacity="0.85"/>
<line x1="683.6" y1="612.6" x2="701.2" y2="593.8" stroke="#f4f4f4" stroke-width="2.3" stroke-linecap="round" opacity="0.85"/>
</g>
<line x1="692.0" y1="671.0" x2="899.0" y2="671.0" stroke="#2c2c2c" stroke-width="6.5" stroke-linecap="round"/>
<line x1="694.0" y1="671.0" x2="897.0" y2="671.0" stroke="#6a6a6a" stroke-width="3" stroke-linecap="round"/>
<g opacity="1.0" stroke-linecap="round"><line x1="686.0" y1="666.5" x2="903.0" y2="666.5" stroke="#2a2a2a" stroke-width="9.6"/><line x1="686.0" y1="666.5" x2="903.0" y2="666.5" stroke="#8e8e8e" stroke-width="7.8"/><line x1="686.0" y1="664.9" x2="903.0" y2="664.9" stroke="#ffffff" stroke-width="3.0" opacity="0.9"/></g>
<rect x="705.7" y="663.0" width="5" height="7" fill="#4a4a4a" opacity="0.6"/>
<rect x="728.0" y="663.0" width="5" height="7" fill="#4a4a4a" opacity="0.6"/>
<rect x="748.5" y="663.0" width="5" height="7" fill="#4a4a4a" opacity="0.6"/>
<rect x="770.2" y="663.0" width="5" height="7" fill="#4a4a4a" opacity="0.6"/>
<rect x="791.1" y="663.0" width="5" height="7" fill="#4a4a4a" opacity="0.6"/>
<rect x="815.7" y="663.0" width="5" height="7" fill="#4a4a4a" opacity="0.6"/>
<rect x="834.0" y="663.0" width="5" height="7" fill="#4a4a4a" opacity="0.6"/>
<rect x="854.7" y="663.0" width="5" height="7" fill="#4a4a4a" opacity="0.6"/>
<rect x="876.8" y="663.0" width="5" height="7" fill="#4a4a4a" opacity="0.6"/>
<rect x="693.0" y="663.0" width="7" height="7.5" fill="#3d62e8"/><rect x="693.0" y="664.2" width="7" height="2" fill="#8aa4ff"/>
<rect x="890.0" y="663.0" width="7" height="7.5" fill="#3d62e8"/><rect x="890.0" y="664.2" width="7" height="2" fill="#8aa4ff"/>
<ellipse cx="704.0" cy="666.0" rx="6" ry="4.6" fill="#d40000"/><ellipse cx="702.5" cy="664.2" rx="2.4" ry="1.5" fill="#ff8080"/>
<ellipse cx="776.1" cy="666.0" rx="6" ry="4.6" fill="#d40000"/><ellipse cx="774.6" cy="664.2" rx="2.4" ry="1.5" fill="#ff8080"/>
<ellipse cx="878.0" cy="666.0" rx="6" ry="4.6" fill="#d40000"/><ellipse cx="876.5" cy="664.2" rx="2.4" ry="1.5" fill="#ff8080"/>
<g opacity="1.0" stroke-linecap="round"><line x1="681.0" y1="667.0" x2="677.0" y2="653.0" stroke="#7a7a7a" stroke-width="8.0"/><line x1="681.0" y1="667.0" x2="677.0" y2="653.0" stroke="#e2e2e2" stroke-width="6.2"/><line x1="682.2" y1="666.7" x2="678.2" y2="652.7" stroke="#ffffff" stroke-width="2.4" opacity="0.9"/></g>
<g opacity="1.0" stroke-linecap="round"><line x1="681.0" y1="667.0" x2="677.0" y2="681.0" stroke="#7a7a7a" stroke-width="8.0"/><line x1="681.0" y1="667.0" x2="677.0" y2="681.0" stroke="#e2e2e2" stroke-width="6.2"/><line x1="679.8" y1="666.7" x2="675.8" y2="680.7" stroke="#ffffff" stroke-width="2.4" opacity="0.9"/></g>
<g opacity="1.0" stroke-linecap="round"><line x1="687.0" y1="667.0" x2="674.0" y2="667.0" stroke="#7a7a7a" stroke-width="8.0"/><line x1="687.0" y1="667.0" x2="674.0" y2="667.0" stroke="#e2e2e2" stroke-width="6.2"/><line x1="687.0" y1="665.8" x2="674.0" y2="665.8" stroke="#ffffff" stroke-width="2.4" opacity="0.9"/></g>
<circle cx="682.0" cy="667.0" r="4" fill="#5a5a5a"/>
<g opacity="1.0" stroke-linecap="round"><line x1="908.0" y1="667.0" x2="912.0" y2="653.0" stroke="#7a7a7a" stroke-width="8.0"/><line x1="908.0" y1="667.0" x2="912.0" y2="653.0" stroke="#e2e2e2" stroke-width="6.2"/><line x1="906.8" y1="666.7" x2="910.8" y2="652.7" stroke="#ffffff" stroke-width="2.4" opacity="0.9"/></g>
<g opacity="1.0" stroke-linecap="round"><line x1="908.0" y1="667.0" x2="912.0" y2="681.0" stroke="#7a7a7a" stroke-width="8.0"/><line x1="908.0" y1="667.0" x2="912.0" y2="681.0" stroke="#e2e2e2" stroke-width="6.2"/><line x1="909.2" y1="666.7" x2="913.2" y2="680.7" stroke="#ffffff" stroke-width="2.4" opacity="0.9"/></g>
<g opacity="1.0" stroke-linecap="round"><line x1="902.0" y1="667.0" x2="915.0" y2="667.0" stroke="#7a7a7a" stroke-width="8.0"/><line x1="902.0" y1="667.0" x2="915.0" y2="667.0" stroke="#e2e2e2" stroke-width="6.2"/><line x1="902.0" y1="665.8" x2="915.0" y2="665.8" stroke="#ffffff" stroke-width="2.4" opacity="0.9"/></g>
<circle cx="907.0" cy="667.0" r="4" fill="#5a5a5a"/>
<g opacity="1.0">
<g opacity="1.0" stroke-linecap="round"><line x1="739.2" y1="694.6" x2="736.8" y2="702.3" stroke="#888" stroke-width="7.4"/><line x1="739.2" y1="694.6" x2="736.8" y2="702.3" stroke="#e4e4e4" stroke-width="5.6"/><line x1="738.1" y1="694.3" x2="735.7" y2="701.9" stroke="#ffffff" stroke-width="2.1" opacity="0.9"/></g>
<g opacity="1.0" stroke-linecap="round"><line x1="729.2" y1="688.9" x2="723.8" y2="694.7" stroke="#888" stroke-width="7.4"/><line x1="729.2" y1="688.9" x2="723.8" y2="694.7" stroke="#e4e4e4" stroke-width="5.6"/><line x1="728.4" y1="688.1" x2="722.9" y2="694.0" stroke="#ffffff" stroke-width="2.1" opacity="0.9"/></g>
<g opacity="1.0" stroke-linecap="round"><line x1="754.3" y1="645.4" x2="756.7" y2="637.7" stroke="#888" stroke-width="7.4"/><line x1="754.3" y1="645.4" x2="756.7" y2="637.7" stroke="#e4e4e4" stroke-width="5.6"/><line x1="753.2" y1="645.0" x2="755.6" y2="637.4" stroke="#ffffff" stroke-width="2.1" opacity="0.9"/></g>
<g opacity="1.0" stroke-linecap="round"><line x1="764.3" y1="651.1" x2="769.7" y2="645.3" stroke="#888" stroke-width="7.4"/><line x1="764.3" y1="651.1" x2="769.7" y2="645.3" stroke="#e4e4e4" stroke-width="5.6"/><line x1="763.5" y1="650.4" x2="768.9" y2="644.5" stroke="#ffffff" stroke-width="2.1" opacity="0.9"/></g>
<path d="M756.7,675.8 L739.2,694.6 L729.2,688.9 L736.8,664.2 L754.3,645.4 L764.3,651.1 Z" fill="none" stroke="#222222" stroke-width="8.3" stroke-linejoin="round"/><path d="M756.7,675.8 L739.2,694.6 L729.2,688.9 L736.8,664.2 L754.3,645.4 L764.3,651.1 Z" fill="none" stroke="#7e7e7e" stroke-width="6.5" stroke-linejoin="round"/>
<line x1="739.2" y1="693.6" x2="729.2" y2="687.9" stroke="#f4f4f4" stroke-width="2.3" stroke-linecap="round" opacity="0.85"/>
<line x1="754.3" y1="644.4" x2="764.3" y2="650.1" stroke="#f4f4f4" stroke-width="2.3" stroke-linecap="round" opacity="0.85"/>
<line x1="756.7" y1="674.8" x2="739.2" y2="693.6" stroke="#f4f4f4" stroke-width="2.3" stroke-linecap="round" opacity="0.85"/>
<line x1="736.8" y1="663.2" x2="754.3" y2="644.4" stroke="#f4f4f4" stroke-width="2.3" stroke-linecap="round" opacity="0.85"/>
</g>
<line x1="742.0" y1="728.0" x2="949.0" y2="728.0" stroke="#2c2c2c" stroke-width="6.5" stroke-linecap="round"/>
<line x1="744.0" y1="728.0" x2="947.0" y2="728.0" stroke="#6a6a6a" stroke-width="3" stroke-linecap="round"/>
<g opacity="1.0" stroke-linecap="round"><line x1="736.0" y1="723.5" x2="953.0" y2="723.5" stroke="#2a2a2a" stroke-width="9.6"/><line x1="736.0" y1="723.5" x2="953.0" y2="723.5" stroke="#8e8e8e" stroke-width="7.8"/><line x1="736.0" y1="721.9" x2="953.0" y2="721.9" stroke="#ffffff" stroke-width="3.0" opacity="0.9"/></g>
<rect x="757.6" y="720.0" width="5" height="7" fill="#4a4a4a" opacity="0.6"/>
<rect x="779.0" y="720.0" width="5" height="7" fill="#4a4a4a" opacity="0.6"/>
<rect x="795.9" y="720.0" width="5" height="7" fill="#4a4a4a" opacity="0.6"/>
<rect x="818.7" y="720.0" width="5" height="7" fill="#4a4a4a" opacity="0.6"/>
<rect x="840.5" y="720.0" width="5" height="7" fill="#4a4a4a" opacity="0.6"/>
<rect x="865.1" y="720.0" width="5" height="7" fill="#4a4a4a" opacity="0.6"/>
<rect x="885.4" y="720.0" width="5" height="7" fill="#4a4a4a" opacity="0.6"/>
<rect x="907.5" y="720.0" width="5" height="7" fill="#4a4a4a" opacity="0.6"/>
<rect x="930.4" y="720.0" width="5" height="7" fill="#4a4a4a" opacity="0.6"/>
<rect x="743.0" y="720.0" width="7" height="7.5" fill="#3d62e8"/><rect x="743.0" y="721.2" width="7" height="2" fill="#8aa4ff"/>
<rect x="940.0" y="720.0" width="7" height="7.5" fill="#3d62e8"/><rect x="940.0" y="721.2" width="7" height="2" fill="#8aa4ff"/>
<ellipse cx="754.0" cy="723.0" rx="6" ry="4.6" fill="#d40000"/><ellipse cx="752.5" cy="721.2" rx="2.4" ry="1.5" fill="#ff8080"/>
<ellipse cx="826.6" cy="723.0" rx="6" ry="4.6" fill="#d40000"/><ellipse cx="825.1" cy="721.2" rx="2.4" ry="1.5" fill="#ff8080"/>
<ellipse cx="928.0" cy="723.0" rx="6" ry="4.6" fill="#d40000"/><ellipse cx="926.5" cy="721.2" rx="2.4" ry="1.5" fill="#ff8080"/>
<g opacity="1.0" stroke-linecap="round"><line x1="731.0" y1="724.0" x2="727.0" y2="710.0" stroke="#7a7a7a" stroke-width="8.0"/><line x1="731.0" y1="724.0" x2="727.0" y2="710.0" stroke="#e2e2e2" stroke-width="6.2"/><line x1="732.2" y1="723.7" x2="728.2" y2="709.7" stroke="#ffffff" stroke-width="2.4" opacity="0.9"/></g>
<g opacity="1.0" stroke-linecap="round"><line x1="731.0" y1="724.0" x2="727.0" y2="738.0" stroke="#7a7a7a" stroke-width="8.0"/><line x1="731.0" y1="724.0" x2="727.0" y2="738.0" stroke="#e2e2e2" stroke-width="6.2"/><line x1="729.8" y1="723.7" x2="725.8" y2="737.7" stroke="#ffffff" stroke-width="2.4" opacity="0.9"/></g>
<g opacity="1.0" stroke-linecap="round"><line x1="737.0" y1="724.0" x2="724.0" y2="724.0" stroke="#7a7a7a" stroke-width="8.0"/><line x1="737.0" y1="724.0" x2="724.0" y2="724.0" stroke="#e2e2e2" stroke-width="6.2"/><line x1="737.0" y1="722.8" x2="724.0" y2="722.8" stroke="#ffffff" stroke-width="2.4" opacity="0.9"/></g>
<circle cx="732.0" cy="724.0" r="4" fill="#5a5a5a"/>
<g opacity="1.0" stroke-linecap="round"><line x1="958.0" y1="724.0" x2="962.0" y2="710.0" stroke="#7a7a7a" stroke-width="8.0"/><line x1="958.0" y1="724.0" x2="962.0" y2="710.0" stroke="#e2e2e2" stroke-width="6.2"/><line x1="956.8" y1="723.7" x2="960.8" y2="709.7" stroke="#ffffff" stroke-width="2.4" opacity="0.9"/></g>
<g opacity="1.0" stroke-linecap="round"><line x1="958.0" y1="724.0" x2="962.0" y2="738.0" stroke="#7a7a7a" stroke-width="8.0"/><line x1="958.0" y1="724.0" x2="962.0" y2="738.0" stroke="#e2e2e2" stroke-width="6.2"/><line x1="959.2" y1="723.7" x2="963.2" y2="737.7" stroke="#ffffff" stroke-width="2.4" opacity="0.9"/></g>
<g opacity="1.0" stroke-linecap="round"><line x1="952.0" y1="724.0" x2="965.0" y2="724.0" stroke="#7a7a7a" stroke-width="8.0"/><line x1="952.0" y1="724.0" x2="965.0" y2="724.0" stroke="#e2e2e2" stroke-width="6.2"/><line x1="952.0" y1="722.8" x2="965.0" y2="722.8" stroke="#ffffff" stroke-width="2.4" opacity="0.9"/></g>
<circle cx="957.0" cy="724.0" r="4" fill="#5a5a5a"/>
<g opacity="1.0">
<g opacity="1.0" stroke-linecap="round"><line x1="788.9" y1="751.6" x2="786.5" y2="759.3" stroke="#888" stroke-width="7.4"/><line x1="788.9" y1="751.6" x2="786.5" y2="759.3" stroke="#e4e4e4" stroke-width="5.6"/><line x1="787.8" y1="751.3" x2="785.5" y2="758.9" stroke="#ffffff" stroke-width="2.1" opacity="0.9"/></g>
<g opacity="1.0" stroke-linecap="round"><line x1="778.9" y1="745.9" x2="773.5" y2="751.7" stroke="#888" stroke-width="7.4"/><line x1="778.9" y1="745.9" x2="773.5" y2="751.7" stroke="#e4e4e4" stroke-width="5.6"/><line x1="778.1" y1="745.1" x2="772.7" y2="751.0" stroke="#ffffff" stroke-width="2.1" opacity="0.9"/></g>
<g opacity="1.0" stroke-linecap="round"><line x1="804.0" y1="702.4" x2="806.4" y2="694.7" stroke="#888" stroke-width="7.4"/><line x1="804.0" y1="702.4" x2="806.4" y2="694.7" stroke="#e4e4e4" stroke-width="5.6"/><line x1="803.0" y1="702.0" x2="805.3" y2="694.4" stroke="#ffffff" stroke-width="2.1" opacity="0.9"/></g>
<g opacity="1.0" stroke-linecap="round"><line x1="814.0" y1="708.1" x2="819.4" y2="702.3" stroke="#888" stroke-width="7.4"/><line x1="814.0" y1="708.1" x2="819.4" y2="702.3" stroke="#e4e4e4" stroke-width="5.6"/><line x1="813.2" y1="707.4" x2="818.6" y2="701.5" stroke="#ffffff" stroke-width="2.1" opacity="0.9"/></g>
<path d="M806.4,732.8 L788.9,751.6 L778.9,745.9 L786.5,721.2 L804.0,702.4 L814.0,708.1 Z" fill="none" stroke="#222222" stroke-width="8.3" stroke-linejoin="round"/><path d="M806.4,732.8 L788.9,751.6 L778.9,745.9 L786.5,721.2 L804.0,702.4 L814.0,708.1 Z" fill="none" stroke="#7e7e7e" stroke-width="6.5" stroke-linejoin="round"/>
<line x1="788.9" y1="750.6" x2="778.9" y2="744.9" stroke="#f4f4f4" stroke-width="2.3" stroke-linecap="round" opacity="0.85"/>
<line x1="804.0" y1="701.4" x2="814.0" y2="707.1" stroke="#f4f4f4" stroke-width="2.3" stroke-linecap="round" opacity="0.85"/>
<line x1="806.4" y1="731.8" x2="788.9" y2="750.6" stroke="#f4f4f4" stroke-width="2.3" stroke-linecap="round" opacity="0.85"/>
<line x1="786.5" y1="720.2" x2="804.0" y2="701.4" stroke="#f4f4f4" stroke-width="2.3" stroke-linecap="round" opacity="0.85"/>
</g>
<line x1="789.5" y1="778.0" x2="997.0" y2="778.0" stroke="#2c2c2c" stroke-width="6.5" stroke-linecap="round"/>
<line x1="791.5" y1="778.0" x2="995.0" y2="778.0" stroke="#6a6a6a" stroke-width="3" stroke-linecap="round"/>
<g opacity="1.0" stroke-linecap="round"><line x1="783.5" y1="773.5" x2="1001.0" y2="773.5" stroke="#2a2a2a" stroke-width="9.6"/><line x1="783.5" y1="773.5" x2="1001.0" y2="773.5" stroke="#8e8e8e" stroke-width="7.8"/><line x1="783.5" y1="771.9" x2="1001.0" y2="771.9" stroke="#ffffff" stroke-width="3.0" opacity="0.9"/></g>
<rect x="802.4" y="770.0" width="5" height="7" fill="#4a4a4a" opacity="0.6"/>
<rect x="824.2" y="770.0" width="5" height="7" fill="#4a4a4a" opacity="0.6"/>
<rect x="848.9" y="770.0" width="5" height="7" fill="#4a4a4a" opacity="0.6"/>
<rect x="869.3" y="770.0" width="5" height="7" fill="#4a4a4a" opacity="0.6"/>
<rect x="891.6" y="770.0" width="5" height="7" fill="#4a4a4a" opacity="0.6"/>
<rect x="909.0" y="770.0" width="5" height="7" fill="#4a4a4a" opacity="0.6"/>
<rect x="932.7" y="770.0" width="5" height="7" fill="#4a4a4a" opacity="0.6"/>
<rect x="955.5" y="770.0" width="5" height="7" fill="#4a4a4a" opacity="0.6"/>
<rect x="976.5" y="770.0" width="5" height="7" fill="#4a4a4a" opacity="0.6"/>
<rect x="790.5" y="770.0" width="7" height="7.5" fill="#3d62e8"/><rect x="790.5" y="771.2" width="7" height="2" fill="#8aa4ff"/>
<rect x="988.0" y="770.0" width="7" height="7.5" fill="#3d62e8"/><rect x="988.0" y="771.2" width="7" height="2" fill="#8aa4ff"/>
<ellipse cx="801.5" cy="773.0" rx="6" ry="4.6" fill="#d40000"/><ellipse cx="800.0" cy="771.2" rx="2.4" ry="1.5" fill="#ff8080"/>
<ellipse cx="865.3" cy="773.0" rx="6" ry="4.6" fill="#d40000"/><ellipse cx="863.8" cy="771.2" rx="2.4" ry="1.5" fill="#ff8080"/>
<ellipse cx="976.0" cy="773.0" rx="6" ry="4.6" fill="#d40000"/><ellipse cx="974.5" cy="771.2" rx="2.4" ry="1.5" fill="#ff8080"/>
<g opacity="1.0" stroke-linecap="round"><line x1="778.5" y1="774.0" x2="774.5" y2="760.0" stroke="#7a7a7a" stroke-width="8.0"/><line x1="778.5" y1="774.0" x2="774.5" y2="760.0" stroke="#e2e2e2" stroke-width="6.2"/><line x1="779.7" y1="773.7" x2="775.7" y2="759.7" stroke="#ffffff" stroke-width="2.4" opacity="0.9"/></g>
<g opacity="1.0" stroke-linecap="round"><line x1="778.5" y1="774.0" x2="774.5" y2="788.0" stroke="#7a7a7a" stroke-width="8.0"/><line x1="778.5" y1="774.0" x2="774.5" y2="788.0" stroke="#e2e2e2" stroke-width="6.2"/><line x1="777.3" y1="773.7" x2="773.3" y2="787.7" stroke="#ffffff" stroke-width="2.4" opacity="0.9"/></g>
<g opacity="1.0" stroke-linecap="round"><line x1="784.5" y1="774.0" x2="771.5" y2="774.0" stroke="#7a7a7a" stroke-width="8.0"/><line x1="784.5" y1="774.0" x2="771.5" y2="774.0" stroke="#e2e2e2" stroke-width="6.2"/><line x1="784.5" y1="772.8" x2="771.5" y2="772.8" stroke="#ffffff" stroke-width="2.4" opacity="0.9"/></g>
<circle cx="779.5" cy="774.0" r="4" fill="#5a5a5a"/>
<g opacity="1.0" stroke-linecap="round"><line x1="1006.0" y1="774.0" x2="1010.0" y2="760.0" stroke="#7a7a7a" stroke-width="8.0"/><line x1="1006.0" y1="774.0" x2="1010.0" y2="760.0" stroke="#e2e2e2" stroke-width="6.2"/><line x1="1004.8" y1="773.7" x2="1008.8" y2="759.7" stroke="#ffffff" stroke-width="2.4" opacity="0.9"/></g>
<g opacity="1.0" stroke-linecap="round"><line x1="1006.0" y1="774.0" x2="1010.0" y2="788.0" stroke="#7a7a7a" stroke-width="8.0"/><line x1="1006.0" y1="774.0" x2="1010.0" y2="788.0" stroke="#e2e2e2" stroke-width="6.2"/><line x1="1007.2" y1="773.7" x2="1011.2" y2="787.7" stroke="#ffffff" stroke-width="2.4" opacity="0.9"/></g>
<g opacity="1.0" stroke-linecap="round"><line x1="1000.0" y1="774.0" x2="1013.0" y2="774.0" stroke="#7a7a7a" stroke-width="8.0"/><line x1="1000.0" y1="774.0" x2="1013.0" y2="774.0" stroke="#e2e2e2" stroke-width="6.2"/><line x1="1000.0" y1="772.8" x2="1013.0" y2="772.8" stroke="#ffffff" stroke-width="2.4" opacity="0.9"/></g>
<circle cx="1005.0" cy="774.0" r="4" fill="#5a5a5a"/>
<g opacity="1.0">
<g opacity="1.0" stroke-linecap="round"><line x1="832.3" y1="801.6" x2="830.0" y2="809.3" stroke="#888" stroke-width="7.4"/><line x1="832.3" y1="801.6" x2="830.0" y2="809.3" stroke="#e4e4e4" stroke-width="5.6"/><line x1="831.2" y1="801.3" x2="828.9" y2="808.9" stroke="#ffffff" stroke-width="2.1" opacity="0.9"/></g>
<g opacity="1.0" stroke-linecap="round"><line x1="822.4" y1="795.9" x2="816.9" y2="801.7" stroke="#888" stroke-width="7.4"/><line x1="822.4" y1="795.9" x2="816.9" y2="801.7" stroke="#e4e4e4" stroke-width="5.6"/><line x1="821.5" y1="795.1" x2="816.1" y2="801.0" stroke="#ffffff" stroke-width="2.1" opacity="0.9"/></g>
<g opacity="1.0" stroke-linecap="round"><line x1="847.5" y1="752.4" x2="849.8" y2="744.7" stroke="#888" stroke-width="7.4"/><line x1="847.5" y1="752.4" x2="849.8" y2="744.7" stroke="#e4e4e4" stroke-width="5.6"/><line x1="846.4" y1="752.0" x2="848.8" y2="744.4" stroke="#ffffff" stroke-width="2.1" opacity="0.9"/></g>
<g opacity="1.0" stroke-linecap="round"><line x1="857.4" y1="758.1" x2="862.9" y2="752.3" stroke="#888" stroke-width="7.4"/><line x1="857.4" y1="758.1" x2="862.9" y2="752.3" stroke="#e4e4e4" stroke-width="5.6"/><line x1="856.6" y1="757.4" x2="862.1" y2="751.5" stroke="#ffffff" stroke-width="2.1" opacity="0.9"/></g>
<path d="M849.8,782.8 L832.3,801.6 L822.4,795.9 L829.9,771.2 L847.5,752.4 L857.4,758.1 Z" fill="none" stroke="#222222" stroke-width="8.3" stroke-linejoin="round"/><path d="M849.8,782.8 L832.3,801.6 L822.4,795.9 L829.9,771.2 L847.5,752.4 L857.4,758.1 Z" fill="none" stroke="#7e7e7e" stroke-width="6.5" stroke-linejoin="round"/>
<line x1="832.3" y1="800.6" x2="822.4" y2="794.9" stroke="#f4f4f4" stroke-width="2.3" stroke-linecap="round" opacity="0.85"/>
<line x1="847.5" y1="751.4" x2="857.4" y2="757.1" stroke="#f4f4f4" stroke-width="2.3" stroke-linecap="round" opacity="0.85"/>
<line x1="849.8" y1="781.8" x2="832.3" y2="800.6" stroke="#f4f4f4" stroke-width="2.3" stroke-linecap="round" opacity="0.85"/>
<line x1="829.9" y1="770.2" x2="847.5" y2="751.4" stroke="#f4f4f4" stroke-width="2.3" stroke-linecap="round" opacity="0.85"/>
</g>
<line x1="837.0" y1="830.0" x2="1047.0" y2="830.0" stroke="#2c2c2c" stroke-width="6.5" stroke-linecap="round"/>
<line x1="839.0" y1="830.0" x2="1045.0" y2="830.0" stroke="#6a6a6a" stroke-width="3" stroke-linecap="round"/>
<g opacity="1.0" stroke-linecap="round"><line x1="831.0" y1="825.5" x2="1051.0" y2="825.5" stroke="#2a2a2a" stroke-width="9.6"/><line x1="831.0" y1="825.5" x2="1051.0" y2="825.5" stroke="#8e8e8e" stroke-width="7.8"/><line x1="831.0" y1="823.9" x2="1051.0" y2="823.9" stroke="#ffffff" stroke-width="3.0" opacity="0.9"/></g>
<rect x="852.7" y="822.0" width="5" height="7" fill="#4a4a4a" opacity="0.6"/>
<rect x="874.3" y="822.0" width="5" height="7" fill="#4a4a4a" opacity="0.6"/>
<rect x="897.0" y="822.0" width="5" height="7" fill="#4a4a4a" opacity="0.6"/>
<rect x="913.5" y="822.0" width="5" height="7" fill="#4a4a4a" opacity="0.6"/>
<rect x="935.6" y="822.0" width="5" height="7" fill="#4a4a4a" opacity="0.6"/>
<rect x="959.4" y="822.0" width="5" height="7" fill="#4a4a4a" opacity="0.6"/>
<rect x="984.3" y="822.0" width="5" height="7" fill="#4a4a4a" opacity="0.6"/>
<rect x="1005.6" y="822.0" width="5" height="7" fill="#4a4a4a" opacity="0.6"/>
<rect x="1029.0" y="822.0" width="5" height="7" fill="#4a4a4a" opacity="0.6"/>
<rect x="838.0" y="822.0" width="7" height="7.5" fill="#3d62e8"/><rect x="838.0" y="823.2" width="7" height="2" fill="#8aa4ff"/>
<rect x="1038.0" y="822.0" width="7" height="7.5" fill="#3d62e8"/><rect x="1038.0" y="823.2" width="7" height="2" fill="#8aa4ff"/>
<ellipse cx="849.0" cy="825.0" rx="6" ry="4.6" fill="#d40000"/><ellipse cx="847.5" cy="823.2" rx="2.4" ry="1.5" fill="#ff8080"/>
<ellipse cx="929.2" cy="825.0" rx="6" ry="4.6" fill="#d40000"/><ellipse cx="927.7" cy="823.2" rx="2.4" ry="1.5" fill="#ff8080"/>
<ellipse cx="1026.0" cy="825.0" rx="6" ry="4.6" fill="#d40000"/><ellipse cx="1024.5" cy="823.2" rx="2.4" ry="1.5" fill="#ff8080"/>
<g opacity="1.0" stroke-linecap="round"><line x1="826.0" y1="826.0" x2="822.0" y2="812.0" stroke="#7a7a7a" stroke-width="8.0"/><line x1="826.0" y1="826.0" x2="822.0" y2="812.0" stroke="#e2e2e2" stroke-width="6.2"/><line x1="827.2" y1="825.7" x2="823.2" y2="811.7" stroke="#ffffff" stroke-width="2.4" opacity="0.9"/></g>
<g opacity="1.0" stroke-linecap="round"><line x1="826.0" y1="826.0" x2="822.0" y2="840.0" stroke="#7a7a7a" stroke-width="8.0"/><line x1="826.0" y1="826.0" x2="822.0" y2="840.0" stroke="#e2e2e2" stroke-width="6.2"/><line x1="824.8" y1="825.7" x2="820.8" y2="839.7" stroke="#ffffff" stroke-width="2.4" opacity="0.9"/></g>
<g opacity="1.0" stroke-linecap="round"><line x1="832.0" y1="826.0" x2="819.0" y2="826.0" stroke="#7a7a7a" stroke-width="8.0"/><line x1="832.0" y1="826.0" x2="819.0" y2="826.0" stroke="#e2e2e2" stroke-width="6.2"/><line x1="832.0" y1="824.8" x2="819.0" y2="824.8" stroke="#ffffff" stroke-width="2.4" opacity="0.9"/></g>
<circle cx="827.0" cy="826.0" r="4" fill="#5a5a5a"/>
<g opacity="1.0" stroke-linecap="round"><line x1="1056.0" y1="826.0" x2="1060.0" y2="812.0" stroke="#7a7a7a" stroke-width="8.0"/><line x1="1056.0" y1="826.0" x2="1060.0" y2="812.0" stroke="#e2e2e2" stroke-width="6.2"/><line x1="1054.8" y1="825.7" x2="1058.8" y2="811.7" stroke="#ffffff" stroke-width="2.4" opacity="0.9"/></g>
<g opacity="1.0" stroke-linecap="round"><line x1="1056.0" y1="826.0" x2="1060.0" y2="840.0" stroke="#7a7a7a" stroke-width="8.0"/><line x1="1056.0" y1="826.0" x2="1060.0" y2="840.0" stroke="#e2e2e2" stroke-width="6.2"/><line x1="1057.2" y1="825.7" x2="1061.2" y2="839.7" stroke="#ffffff" stroke-width="2.4" opacity="0.9"/></g>
<g opacity="1.0" stroke-linecap="round"><line x1="1050.0" y1="826.0" x2="1063.0" y2="826.0" stroke="#7a7a7a" stroke-width="8.0"/><line x1="1050.0" y1="826.0" x2="1063.0" y2="826.0" stroke="#e2e2e2" stroke-width="6.2"/><line x1="1050.0" y1="824.8" x2="1063.0" y2="824.8" stroke="#ffffff" stroke-width="2.4" opacity="0.9"/></g>
<circle cx="1055.0" cy="826.0" r="4" fill="#5a5a5a"/>
<g opacity="1.0">
<g opacity="1.0" stroke-linecap="round"><line x1="881.0" y1="853.6" x2="878.7" y2="861.3" stroke="#888" stroke-width="7.4"/><line x1="881.0" y1="853.6" x2="878.7" y2="861.3" stroke="#e4e4e4" stroke-width="5.6"/><line x1="880.0" y1="853.3" x2="877.6" y2="860.9" stroke="#ffffff" stroke-width="2.1" opacity="0.9"/></g>
<g opacity="1.0" stroke-linecap="round"><line x1="871.1" y1="847.9" x2="865.6" y2="853.7" stroke="#888" stroke-width="7.4"/><line x1="871.1" y1="847.9" x2="865.6" y2="853.7" stroke="#e4e4e4" stroke-width="5.6"/><line x1="870.3" y1="847.1" x2="864.8" y2="853.0" stroke="#ffffff" stroke-width="2.1" opacity="0.9"/></g>
<g opacity="1.0" stroke-linecap="round"><line x1="896.2" y1="804.4" x2="898.5" y2="796.7" stroke="#888" stroke-width="7.4"/><line x1="896.2" y1="804.4" x2="898.5" y2="796.7" stroke="#e4e4e4" stroke-width="5.6"/><line x1="895.1" y1="804.0" x2="897.5" y2="796.4" stroke="#ffffff" stroke-width="2.1" opacity="0.9"/></g>
<g opacity="1.0" stroke-linecap="round"><line x1="906.2" y1="810.1" x2="911.6" y2="804.3" stroke="#888" stroke-width="7.4"/><line x1="906.2" y1="810.1" x2="911.6" y2="804.3" stroke="#e4e4e4" stroke-width="5.6"/><line x1="905.3" y1="809.4" x2="910.8" y2="803.5" stroke="#ffffff" stroke-width="2.1" opacity="0.9"/></g>
<path d="M898.6,834.8 L881.0,853.6 L871.1,847.9 L878.7,823.2 L896.2,804.4 L906.2,810.1 Z" fill="none" stroke="#222222" stroke-width="8.3" stroke-linejoin="round"/><path d="M898.6,834.8 L881.0,853.6 L871.1,847.9 L878.7,823.2 L896.2,804.4 L906.2,810.1 Z" fill="none" stroke="#7e7e7e" stroke-width="6.5" stroke-linejoin="round"/>
<line x1="881.0" y1="852.6" x2="871.1" y2="846.9" stroke="#f4f4f4" stroke-width="2.3" stroke-linecap="round" opacity="0.85"/>
<line x1="896.2" y1="803.4" x2="906.2" y2="809.1" stroke="#f4f4f4" stroke-width="2.3" stroke-linecap="round" opacity="0.85"/>
<line x1="898.6" y1="833.8" x2="881.0" y2="852.6" stroke="#f4f4f4" stroke-width="2.3" stroke-linecap="round" opacity="0.85"/>
<line x1="878.7" y1="822.2" x2="896.2" y2="803.4" stroke="#f4f4f4" stroke-width="2.3" stroke-linecap="round" opacity="0.85"/>
</g>
<g opacity="0.95">
<g opacity="1.0" stroke-linecap="round"><line x1="1466.1" y1="549.4" x2="1463.9" y2="557.1" stroke="#888" stroke-width="7.4"/><line x1="1466.1" y1="549.4" x2="1463.9" y2="557.1" stroke="#eaeaea" stroke-width="5.6"/><line x1="1465.0" y1="549.1" x2="1462.8" y2="556.8" stroke="#ffffff" stroke-width="2.1" opacity="0.9"/></g>
<g opacity="1.0" stroke-linecap="round"><line x1="1457.5" y1="545.3" x2="1452.8" y2="551.7" stroke="#888" stroke-width="7.4"/><line x1="1457.5" y1="545.3" x2="1452.8" y2="551.7" stroke="#eaeaea" stroke-width="5.6"/><line x1="1456.6" y1="544.6" x2="1451.9" y2="551.0" stroke="#ffffff" stroke-width="2.1" opacity="0.9"/></g>
<g opacity="1.0" stroke-linecap="round"><line x1="1480.3" y1="498.6" x2="1482.5" y2="490.9" stroke="#888" stroke-width="7.4"/><line x1="1480.3" y1="498.6" x2="1482.5" y2="490.9" stroke="#eaeaea" stroke-width="5.6"/><line x1="1479.2" y1="498.3" x2="1481.4" y2="490.6" stroke="#ffffff" stroke-width="2.1" opacity="0.9"/></g>
<g opacity="1.0" stroke-linecap="round"><line x1="1488.8" y1="502.7" x2="1493.6" y2="496.3" stroke="#888" stroke-width="7.4"/><line x1="1488.8" y1="502.7" x2="1493.6" y2="496.3" stroke="#eaeaea" stroke-width="5.6"/><line x1="1487.9" y1="502.1" x2="1492.7" y2="495.6" stroke="#ffffff" stroke-width="2.1" opacity="0.9"/></g>
<path d="M1481.7,528.2 L1466.1,549.4 L1457.5,545.3 L1464.6,519.8 L1480.3,498.6 L1488.8,502.7 Z" fill="none" stroke="#6e6e6e" stroke-width="7.8" stroke-linejoin="round"/><path d="M1481.7,528.2 L1466.1,549.4 L1457.5,545.3 L1464.6,519.8 L1480.3,498.6 L1488.8,502.7 Z" fill="none" stroke="#b4b4b4" stroke-width="6.0" stroke-linejoin="round"/>
<line x1="1466.1" y1="548.4" x2="1457.5" y2="544.3" stroke="#f4f4f4" stroke-width="2.1" stroke-linecap="round" opacity="0.85"/>
<line x1="1480.3" y1="497.6" x2="1488.8" y2="501.7" stroke="#f4f4f4" stroke-width="2.1" stroke-linecap="round" opacity="0.85"/>
<line x1="1481.7" y1="527.2" x2="1466.1" y2="548.4" stroke="#f4f4f4" stroke-width="2.1" stroke-linecap="round" opacity="0.85"/>
<line x1="1464.6" y1="518.8" x2="1480.3" y2="497.6" stroke="#f4f4f4" stroke-width="2.1" stroke-linecap="round" opacity="0.85"/>
</g>
<g opacity="0.9">
<g opacity="1.0" stroke-linecap="round"><line x1="1419.2" y1="576.4" x2="1417.3" y2="584.2" stroke="#888" stroke-width="7.4"/><line x1="1419.2" y1="576.4" x2="1417.3" y2="584.2" stroke="#eeeeee" stroke-width="5.6"/><line x1="1418.2" y1="576.2" x2="1416.2" y2="583.9" stroke="#ffffff" stroke-width="2.1" opacity="0.9"/></g>
<g opacity="1.0" stroke-linecap="round"><line x1="1411.2" y1="572.5" x2="1406.3" y2="578.8" stroke="#888" stroke-width="7.4"/><line x1="1411.2" y1="572.5" x2="1406.3" y2="578.8" stroke="#eeeeee" stroke-width="5.6"/><line x1="1410.3" y1="571.8" x2="1405.4" y2="578.1" stroke="#ffffff" stroke-width="2.1" opacity="0.9"/></g>
<g opacity="1.0" stroke-linecap="round"><line x1="1430.1" y1="533.6" x2="1432.1" y2="525.8" stroke="#888" stroke-width="7.4"/><line x1="1430.1" y1="533.6" x2="1432.1" y2="525.8" stroke="#eeeeee" stroke-width="5.6"/><line x1="1429.1" y1="533.3" x2="1431.0" y2="525.5" stroke="#ffffff" stroke-width="2.1" opacity="0.9"/></g>
<g opacity="1.0" stroke-linecap="round"><line x1="1438.2" y1="537.5" x2="1443.1" y2="531.2" stroke="#888" stroke-width="7.4"/><line x1="1438.2" y1="537.5" x2="1443.1" y2="531.2" stroke="#eeeeee" stroke-width="5.6"/><line x1="1437.3" y1="536.8" x2="1442.2" y2="530.5" stroke="#ffffff" stroke-width="2.1" opacity="0.9"/></g>
<path d="M1432.8,558.9 L1419.2,576.4 L1411.2,572.5 L1416.6,551.1 L1430.1,533.6 L1438.2,537.5 Z" fill="none" stroke="#7a7a7a" stroke-width="7.6" stroke-linejoin="round"/><path d="M1432.8,558.9 L1419.2,576.4 L1411.2,572.5 L1416.6,551.1 L1430.1,533.6 L1438.2,537.5 Z" fill="none" stroke="#bcbcbc" stroke-width="5.8" stroke-linejoin="round"/>
<line x1="1419.2" y1="575.4" x2="1411.2" y2="571.5" stroke="#f4f4f4" stroke-width="2.0" stroke-linecap="round" opacity="0.85"/>
<line x1="1430.1" y1="532.6" x2="1438.2" y2="536.5" stroke="#f4f4f4" stroke-width="2.0" stroke-linecap="round" opacity="0.85"/>
<line x1="1432.8" y1="557.9" x2="1419.2" y2="575.4" stroke="#f4f4f4" stroke-width="2.0" stroke-linecap="round" opacity="0.85"/>
<line x1="1416.6" y1="550.1" x2="1430.1" y2="532.6" stroke="#f4f4f4" stroke-width="2.0" stroke-linecap="round" opacity="0.85"/>
</g>
<g opacity="0.95">
<g opacity="1.0" stroke-linecap="round"><line x1="1514.4" y1="603.1" x2="1512.2" y2="610.8" stroke="#888" stroke-width="7.4"/><line x1="1514.4" y1="603.1" x2="1512.2" y2="610.8" stroke="#eaeaea" stroke-width="5.6"/><line x1="1513.3" y1="602.8" x2="1511.1" y2="610.5" stroke="#ffffff" stroke-width="2.1" opacity="0.9"/></g>
<g opacity="1.0" stroke-linecap="round"><line x1="1505.8" y1="599.0" x2="1501.1" y2="605.4" stroke="#888" stroke-width="7.4"/><line x1="1505.8" y1="599.0" x2="1501.1" y2="605.4" stroke="#eaeaea" stroke-width="5.6"/><line x1="1504.9" y1="598.3" x2="1500.2" y2="604.7" stroke="#ffffff" stroke-width="2.1" opacity="0.9"/></g>
<g opacity="1.0" stroke-linecap="round"><line x1="1528.6" y1="552.3" x2="1530.8" y2="544.6" stroke="#888" stroke-width="7.4"/><line x1="1528.6" y1="552.3" x2="1530.8" y2="544.6" stroke="#eaeaea" stroke-width="5.6"/><line x1="1527.5" y1="552.0" x2="1529.7" y2="544.3" stroke="#ffffff" stroke-width="2.1" opacity="0.9"/></g>
<g opacity="1.0" stroke-linecap="round"><line x1="1537.2" y1="556.4" x2="1541.9" y2="550.0" stroke="#888" stroke-width="7.4"/><line x1="1537.2" y1="556.4" x2="1541.9" y2="550.0" stroke="#eaeaea" stroke-width="5.6"/><line x1="1536.3" y1="555.8" x2="1541.0" y2="549.3" stroke="#ffffff" stroke-width="2.1" opacity="0.9"/></g>
<path d="M1530.0,581.9 L1514.4,603.1 L1505.8,599.0 L1513.0,573.5 L1528.6,552.3 L1537.2,556.4 Z" fill="none" stroke="#6e6e6e" stroke-width="7.8" stroke-linejoin="round"/><path d="M1530.0,581.9 L1514.4,603.1 L1505.8,599.0 L1513.0,573.5 L1528.6,552.3 L1537.2,556.4 Z" fill="none" stroke="#b4b4b4" stroke-width="6.0" stroke-linejoin="round"/>
<line x1="1514.4" y1="602.1" x2="1505.8" y2="598.0" stroke="#f4f4f4" stroke-width="2.1" stroke-linecap="round" opacity="0.85"/>
<line x1="1528.6" y1="551.3" x2="1537.2" y2="555.4" stroke="#f4f4f4" stroke-width="2.1" stroke-linecap="round" opacity="0.85"/>
<line x1="1530.0" y1="580.9" x2="1514.4" y2="602.1" stroke="#f4f4f4" stroke-width="2.1" stroke-linecap="round" opacity="0.85"/>
<line x1="1513.0" y1="572.5" x2="1528.6" y2="551.3" stroke="#f4f4f4" stroke-width="2.1" stroke-linecap="round" opacity="0.85"/>
</g>
<g opacity="0.9">
<g opacity="1.0" stroke-linecap="round"><line x1="1468.4" y1="630.1" x2="1466.4" y2="637.9" stroke="#888" stroke-width="7.4"/><line x1="1468.4" y1="630.1" x2="1466.4" y2="637.9" stroke="#eeeeee" stroke-width="5.6"/><line x1="1467.3" y1="629.9" x2="1465.3" y2="637.6" stroke="#ffffff" stroke-width="2.1" opacity="0.9"/></g>
<g opacity="1.0" stroke-linecap="round"><line x1="1460.3" y1="626.2" x2="1455.4" y2="632.5" stroke="#888" stroke-width="7.4"/><line x1="1460.3" y1="626.2" x2="1455.4" y2="632.5" stroke="#eeeeee" stroke-width="5.6"/><line x1="1459.4" y1="625.5" x2="1454.5" y2="631.8" stroke="#ffffff" stroke-width="2.1" opacity="0.9"/></g>
<g opacity="1.0" stroke-linecap="round"><line x1="1479.3" y1="587.3" x2="1481.3" y2="579.5" stroke="#888" stroke-width="7.4"/><line x1="1479.3" y1="587.3" x2="1481.3" y2="579.5" stroke="#eeeeee" stroke-width="5.6"/><line x1="1478.2" y1="587.0" x2="1480.2" y2="579.2" stroke="#ffffff" stroke-width="2.1" opacity="0.9"/></g>
<g opacity="1.0" stroke-linecap="round"><line x1="1487.4" y1="591.2" x2="1492.3" y2="584.9" stroke="#888" stroke-width="7.4"/><line x1="1487.4" y1="591.2" x2="1492.3" y2="584.9" stroke="#eeeeee" stroke-width="5.6"/><line x1="1486.5" y1="590.5" x2="1491.4" y2="584.2" stroke="#ffffff" stroke-width="2.1" opacity="0.9"/></g>
<path d="M1481.9,612.6 L1468.4,630.1 L1460.3,626.2 L1465.8,604.8 L1479.3,587.3 L1487.4,591.2 Z" fill="none" stroke="#7a7a7a" stroke-width="7.6" stroke-linejoin="round"/><path d="M1481.9,612.6 L1468.4,630.1 L1460.3,626.2 L1465.8,604.8 L1479.3,587.3 L1487.4,591.2 Z" fill="none" stroke="#bcbcbc" stroke-width="5.8" stroke-linejoin="round"/>
<line x1="1468.4" y1="629.1" x2="1460.3" y2="625.2" stroke="#f4f4f4" stroke-width="2.0" stroke-linecap="round" opacity="0.85"/>
<line x1="1479.3" y1="586.3" x2="1487.4" y2="590.2" stroke="#f4f4f4" stroke-width="2.0" stroke-linecap="round" opacity="0.85"/>
<line x1="1481.9" y1="611.6" x2="1468.4" y2="629.1" stroke="#f4f4f4" stroke-width="2.0" stroke-linecap="round" opacity="0.85"/>
<line x1="1465.8" y1="603.8" x2="1479.3" y2="586.3" stroke="#f4f4f4" stroke-width="2.0" stroke-linecap="round" opacity="0.85"/>
</g>
<g opacity="0.95">
<g opacity="1.0" stroke-linecap="round"><line x1="1566.9" y1="655.2" x2="1564.7" y2="662.9" stroke="#888" stroke-width="7.4"/><line x1="1566.9" y1="655.2" x2="1564.7" y2="662.9" stroke="#eaeaea" stroke-width="5.6"/><line x1="1565.8" y1="654.9" x2="1563.6" y2="662.6" stroke="#ffffff" stroke-width="2.1" opacity="0.9"/></g>
<g opacity="1.0" stroke-linecap="round"><line x1="1558.3" y1="651.1" x2="1553.6" y2="657.5" stroke="#888" stroke-width="7.4"/><line x1="1558.3" y1="651.1" x2="1553.6" y2="657.5" stroke="#eaeaea" stroke-width="5.6"/><line x1="1557.4" y1="650.4" x2="1552.7" y2="656.8" stroke="#ffffff" stroke-width="2.1" opacity="0.9"/></g>
<g opacity="1.0" stroke-linecap="round"><line x1="1581.1" y1="604.4" x2="1583.3" y2="596.7" stroke="#888" stroke-width="7.4"/><line x1="1581.1" y1="604.4" x2="1583.3" y2="596.7" stroke="#eaeaea" stroke-width="5.6"/><line x1="1580.0" y1="604.1" x2="1582.2" y2="596.4" stroke="#ffffff" stroke-width="2.1" opacity="0.9"/></g>
<g opacity="1.0" stroke-linecap="round"><line x1="1589.7" y1="608.5" x2="1594.4" y2="602.1" stroke="#888" stroke-width="7.4"/><line x1="1589.7" y1="608.5" x2="1594.4" y2="602.1" stroke="#eaeaea" stroke-width="5.6"/><line x1="1588.8" y1="607.9" x2="1593.5" y2="601.4" stroke="#ffffff" stroke-width="2.1" opacity="0.9"/></g>
<path d="M1582.5,634.0 L1566.9,655.2 L1558.3,651.1 L1565.5,625.6 L1581.1,604.4 L1589.7,608.5 Z" fill="none" stroke="#6e6e6e" stroke-width="7.8" stroke-linejoin="round"/><path d="M1582.5,634.0 L1566.9,655.2 L1558.3,651.1 L1565.5,625.6 L1581.1,604.4 L1589.7,608.5 Z" fill="none" stroke="#b4b4b4" stroke-width="6.0" stroke-linejoin="round"/>
<line x1="1566.9" y1="654.2" x2="1558.3" y2="650.1" stroke="#f4f4f4" stroke-width="2.1" stroke-linecap="round" opacity="0.85"/>
<line x1="1581.1" y1="603.4" x2="1589.7" y2="607.5" stroke="#f4f4f4" stroke-width="2.1" stroke-linecap="round" opacity="0.85"/>
<line x1="1582.5" y1="633.0" x2="1566.9" y2="654.2" stroke="#f4f4f4" stroke-width="2.1" stroke-linecap="round" opacity="0.85"/>
<line x1="1565.5" y1="624.6" x2="1581.1" y2="603.4" stroke="#f4f4f4" stroke-width="2.1" stroke-linecap="round" opacity="0.85"/>
</g>
<g opacity="0.9">
<g opacity="1.0" stroke-linecap="round"><line x1="1511.7" y1="682.2" x2="1509.7" y2="690.0" stroke="#888" stroke-width="7.4"/><line x1="1511.7" y1="682.2" x2="1509.7" y2="690.0" stroke="#eeeeee" stroke-width="5.6"/><line x1="1510.6" y1="682.0" x2="1508.6" y2="689.7" stroke="#ffffff" stroke-width="2.1" opacity="0.9"/></g>
<g opacity="1.0" stroke-linecap="round"><line x1="1503.6" y1="678.3" x2="1498.7" y2="684.6" stroke="#888" stroke-width="7.4"/><line x1="1503.6" y1="678.3" x2="1498.7" y2="684.6" stroke="#eeeeee" stroke-width="5.6"/><line x1="1502.7" y1="677.6" x2="1497.8" y2="683.9" stroke="#ffffff" stroke-width="2.1" opacity="0.9"/></g>
<g opacity="1.0" stroke-linecap="round"><line x1="1522.6" y1="639.4" x2="1524.6" y2="631.6" stroke="#888" stroke-width="7.4"/><line x1="1522.6" y1="639.4" x2="1524.6" y2="631.6" stroke="#eeeeee" stroke-width="5.6"/><line x1="1521.5" y1="639.1" x2="1523.5" y2="631.3" stroke="#ffffff" stroke-width="2.1" opacity="0.9"/></g>
<g opacity="1.0" stroke-linecap="round"><line x1="1530.7" y1="643.3" x2="1535.6" y2="637.0" stroke="#888" stroke-width="7.4"/><line x1="1530.7" y1="643.3" x2="1535.6" y2="637.0" stroke="#eeeeee" stroke-width="5.6"/><line x1="1529.8" y1="642.6" x2="1534.7" y2="636.3" stroke="#ffffff" stroke-width="2.1" opacity="0.9"/></g>
<path d="M1525.2,664.7 L1511.7,682.2 L1503.6,678.3 L1509.1,656.9 L1522.6,639.4 L1530.7,643.3 Z" fill="none" stroke="#7a7a7a" stroke-width="7.6" stroke-linejoin="round"/><path d="M1525.2,664.7 L1511.7,682.2 L1503.6,678.3 L1509.1,656.9 L1522.6,639.4 L1530.7,643.3 Z" fill="none" stroke="#bcbcbc" stroke-width="5.8" stroke-linejoin="round"/>
<line x1="1511.7" y1="681.2" x2="1503.6" y2="677.3" stroke="#f4f4f4" stroke-width="2.0" stroke-linecap="round" opacity="0.85"/>
<line x1="1522.6" y1="638.4" x2="1530.7" y2="642.3" stroke="#f4f4f4" stroke-width="2.0" stroke-linecap="round" opacity="0.85"/>
<line x1="1525.2" y1="663.7" x2="1511.7" y2="681.2" stroke="#f4f4f4" stroke-width="2.0" stroke-linecap="round" opacity="0.85"/>
<line x1="1509.1" y1="655.9" x2="1522.6" y2="638.4" stroke="#f4f4f4" stroke-width="2.0" stroke-linecap="round" opacity="0.85"/>
</g>
<g opacity="0.95">
<g opacity="1.0" stroke-linecap="round"><line x1="1615.1" y1="710.7" x2="1613.0" y2="718.4" stroke="#888" stroke-width="7.4"/><line x1="1615.1" y1="710.7" x2="1613.0" y2="718.4" stroke="#eaeaea" stroke-width="5.6"/><line x1="1614.0" y1="710.4" x2="1611.9" y2="718.1" stroke="#ffffff" stroke-width="2.1" opacity="0.9"/></g>
<g opacity="1.0" stroke-linecap="round"><line x1="1606.6" y1="706.6" x2="1601.8" y2="713.0" stroke="#888" stroke-width="7.4"/><line x1="1606.6" y1="706.6" x2="1601.8" y2="713.0" stroke="#eaeaea" stroke-width="5.6"/><line x1="1605.7" y1="705.9" x2="1600.9" y2="712.3" stroke="#ffffff" stroke-width="2.1" opacity="0.9"/></g>
<g opacity="1.0" stroke-linecap="round"><line x1="1629.4" y1="659.9" x2="1631.5" y2="652.2" stroke="#888" stroke-width="7.4"/><line x1="1629.4" y1="659.9" x2="1631.5" y2="652.2" stroke="#eaeaea" stroke-width="5.6"/><line x1="1628.3" y1="659.6" x2="1630.4" y2="651.9" stroke="#ffffff" stroke-width="2.1" opacity="0.9"/></g>
<g opacity="1.0" stroke-linecap="round"><line x1="1637.9" y1="664.0" x2="1642.6" y2="657.6" stroke="#888" stroke-width="7.4"/><line x1="1637.9" y1="664.0" x2="1642.6" y2="657.6" stroke="#eaeaea" stroke-width="5.6"/><line x1="1637.0" y1="663.4" x2="1641.7" y2="656.9" stroke="#ffffff" stroke-width="2.1" opacity="0.9"/></g>
<path d="M1630.8,689.5 L1615.1,710.7 L1606.6,706.6 L1613.7,681.1 L1629.4,659.9 L1637.9,664.0 Z" fill="none" stroke="#6e6e6e" stroke-width="7.8" stroke-linejoin="round"/><path d="M1630.8,689.5 L1615.1,710.7 L1606.6,706.6 L1613.7,681.1 L1629.4,659.9 L1637.9,664.0 Z" fill="none" stroke="#b4b4b4" stroke-width="6.0" stroke-linejoin="round"/>
<line x1="1615.1" y1="709.7" x2="1606.6" y2="705.6" stroke="#f4f4f4" stroke-width="2.1" stroke-linecap="round" opacity="0.85"/>
<line x1="1629.4" y1="658.9" x2="1637.9" y2="663.0" stroke="#f4f4f4" stroke-width="2.1" stroke-linecap="round" opacity="0.85"/>
<line x1="1630.8" y1="688.5" x2="1615.1" y2="709.7" stroke="#f4f4f4" stroke-width="2.1" stroke-linecap="round" opacity="0.85"/>
<line x1="1613.7" y1="680.1" x2="1629.4" y2="658.9" stroke="#f4f4f4" stroke-width="2.1" stroke-linecap="round" opacity="0.85"/>
</g>
<g opacity="0.9">
<g opacity="1.0" stroke-linecap="round"><line x1="1556.5" y1="737.7" x2="1554.5" y2="745.5" stroke="#888" stroke-width="7.4"/><line x1="1556.5" y1="737.7" x2="1554.5" y2="745.5" stroke="#eeeeee" stroke-width="5.6"/><line x1="1555.4" y1="737.5" x2="1553.4" y2="745.2" stroke="#ffffff" stroke-width="2.1" opacity="0.9"/></g>
<g opacity="1.0" stroke-linecap="round"><line x1="1548.4" y1="733.8" x2="1543.5" y2="740.1" stroke="#888" stroke-width="7.4"/><line x1="1548.4" y1="733.8" x2="1543.5" y2="740.1" stroke="#eeeeee" stroke-width="5.6"/><line x1="1547.5" y1="733.1" x2="1542.6" y2="739.4" stroke="#ffffff" stroke-width="2.1" opacity="0.9"/></g>
<g opacity="1.0" stroke-linecap="round"><line x1="1567.4" y1="694.9" x2="1569.3" y2="687.1" stroke="#888" stroke-width="7.4"/><line x1="1567.4" y1="694.9" x2="1569.3" y2="687.1" stroke="#eeeeee" stroke-width="5.6"/><line x1="1566.3" y1="694.6" x2="1568.2" y2="686.8" stroke="#ffffff" stroke-width="2.1" opacity="0.9"/></g>
<g opacity="1.0" stroke-linecap="round"><line x1="1575.4" y1="698.8" x2="1580.3" y2="692.5" stroke="#888" stroke-width="7.4"/><line x1="1575.4" y1="698.8" x2="1580.3" y2="692.5" stroke="#eeeeee" stroke-width="5.6"/><line x1="1574.6" y1="698.1" x2="1579.5" y2="691.8" stroke="#ffffff" stroke-width="2.1" opacity="0.9"/></g>
<path d="M1570.0,720.2 L1556.5,737.7 L1548.4,733.8 L1553.8,712.4 L1567.4,694.9 L1575.4,698.8 Z" fill="none" stroke="#7a7a7a" stroke-width="7.6" stroke-linejoin="round"/><path d="M1570.0,720.2 L1556.5,737.7 L1548.4,733.8 L1553.8,712.4 L1567.4,694.9 L1575.4,698.8 Z" fill="none" stroke="#bcbcbc" stroke-width="5.8" stroke-linejoin="round"/>
<line x1="1556.5" y1="736.7" x2="1548.4" y2="732.8" stroke="#f4f4f4" stroke-width="2.0" stroke-linecap="round" opacity="0.85"/>
<line x1="1567.4" y1="693.9" x2="1575.4" y2="697.8" stroke="#f4f4f4" stroke-width="2.0" stroke-linecap="round" opacity="0.85"/>
<line x1="1570.0" y1="719.2" x2="1556.5" y2="736.7" stroke="#f4f4f4" stroke-width="2.0" stroke-linecap="round" opacity="0.85"/>
<line x1="1553.8" y1="711.4" x2="1567.4" y2="693.9" stroke="#f4f4f4" stroke-width="2.0" stroke-linecap="round" opacity="0.85"/>
</g>
<g opacity="0.95">
<g opacity="1.0" stroke-linecap="round"><line x1="1653.1" y1="759.6" x2="1650.9" y2="767.3" stroke="#888" stroke-width="7.4"/><line x1="1653.1" y1="759.6" x2="1650.9" y2="767.3" stroke="#eaeaea" stroke-width="5.6"/><line x1="1652.0" y1="759.3" x2="1649.8" y2="767.0" stroke="#ffffff" stroke-width="2.1" opacity="0.9"/></g>
<g opacity="1.0" stroke-linecap="round"><line x1="1644.5" y1="755.5" x2="1639.8" y2="761.9" stroke="#888" stroke-width="7.4"/><line x1="1644.5" y1="755.5" x2="1639.8" y2="761.9" stroke="#eaeaea" stroke-width="5.6"/><line x1="1643.6" y1="754.8" x2="1638.9" y2="761.2" stroke="#ffffff" stroke-width="2.1" opacity="0.9"/></g>
<g opacity="1.0" stroke-linecap="round"><line x1="1667.3" y1="708.8" x2="1669.5" y2="701.1" stroke="#888" stroke-width="7.4"/><line x1="1667.3" y1="708.8" x2="1669.5" y2="701.1" stroke="#eaeaea" stroke-width="5.6"/><line x1="1666.2" y1="708.5" x2="1668.4" y2="700.8" stroke="#ffffff" stroke-width="2.1" opacity="0.9"/></g>
<g opacity="1.0" stroke-linecap="round"><line x1="1675.9" y1="712.9" x2="1680.6" y2="706.5" stroke="#888" stroke-width="7.4"/><line x1="1675.9" y1="712.9" x2="1680.6" y2="706.5" stroke="#eaeaea" stroke-width="5.6"/><line x1="1675.0" y1="712.3" x2="1679.7" y2="705.8" stroke="#ffffff" stroke-width="2.1" opacity="0.9"/></g>
<path d="M1668.7,738.4 L1653.1,759.6 L1644.5,755.5 L1651.7,730.0 L1667.3,708.8 L1675.9,712.9 Z" fill="none" stroke="#6e6e6e" stroke-width="7.8" stroke-linejoin="round"/><path d="M1668.7,738.4 L1653.1,759.6 L1644.5,755.5 L1651.7,730.0 L1667.3,708.8 L1675.9,712.9 Z" fill="none" stroke="#b4b4b4" stroke-width="6.0" stroke-linejoin="round"/>
<line x1="1653.1" y1="758.6" x2="1644.5" y2="754.5" stroke="#f4f4f4" stroke-width="2.1" stroke-linecap="round" opacity="0.85"/>
<line x1="1667.3" y1="707.8" x2="1675.9" y2="711.9" stroke="#f4f4f4" stroke-width="2.1" stroke-linecap="round" opacity="0.85"/>
<line x1="1668.7" y1="737.4" x2="1653.1" y2="758.6" stroke="#f4f4f4" stroke-width="2.1" stroke-linecap="round" opacity="0.85"/>
<line x1="1651.7" y1="729.0" x2="1667.3" y2="707.8" stroke="#f4f4f4" stroke-width="2.1" stroke-linecap="round" opacity="0.85"/>
</g>
<g opacity="0.9">
<g opacity="1.0" stroke-linecap="round"><line x1="1614.0" y1="786.6" x2="1612.0" y2="794.4" stroke="#888" stroke-width="7.4"/><line x1="1614.0" y1="786.6" x2="1612.0" y2="794.4" stroke="#eeeeee" stroke-width="5.6"/><line x1="1612.9" y1="786.4" x2="1611.0" y2="794.1" stroke="#ffffff" stroke-width="2.1" opacity="0.9"/></g>
<g opacity="1.0" stroke-linecap="round"><line x1="1605.9" y1="782.7" x2="1601.0" y2="789.0" stroke="#888" stroke-width="7.4"/><line x1="1605.9" y1="782.7" x2="1601.0" y2="789.0" stroke="#eeeeee" stroke-width="5.6"/><line x1="1605.0" y1="782.0" x2="1600.1" y2="788.3" stroke="#ffffff" stroke-width="2.1" opacity="0.9"/></g>
<g opacity="1.0" stroke-linecap="round"><line x1="1624.9" y1="743.8" x2="1626.9" y2="736.0" stroke="#888" stroke-width="7.4"/><line x1="1624.9" y1="743.8" x2="1626.9" y2="736.0" stroke="#eeeeee" stroke-width="5.6"/><line x1="1623.8" y1="743.5" x2="1625.8" y2="735.7" stroke="#ffffff" stroke-width="2.1" opacity="0.9"/></g>
<g opacity="1.0" stroke-linecap="round"><line x1="1633.0" y1="747.7" x2="1637.9" y2="741.4" stroke="#888" stroke-width="7.4"/><line x1="1633.0" y1="747.7" x2="1637.9" y2="741.4" stroke="#eeeeee" stroke-width="5.6"/><line x1="1632.1" y1="747.0" x2="1637.0" y2="740.7" stroke="#ffffff" stroke-width="2.1" opacity="0.9"/></g>
<path d="M1627.6,769.1 L1614.0,786.6 L1605.9,782.7 L1611.4,761.3 L1624.9,743.8 L1633.0,747.7 Z" fill="none" stroke="#7a7a7a" stroke-width="7.6" stroke-linejoin="round"/><path d="M1627.6,769.1 L1614.0,786.6 L1605.9,782.7 L1611.4,761.3 L1624.9,743.8 L1633.0,747.7 Z" fill="none" stroke="#bcbcbc" stroke-width="5.8" stroke-linejoin="round"/>
<line x1="1614.0" y1="785.6" x2="1605.9" y2="781.7" stroke="#f4f4f4" stroke-width="2.0" stroke-linecap="round" opacity="0.85"/>
<line x1="1624.9" y1="742.8" x2="1633.0" y2="746.7" stroke="#f4f4f4" stroke-width="2.0" stroke-linecap="round" opacity="0.85"/>
<line x1="1627.6" y1="768.1" x2="1614.0" y2="785.6" stroke="#f4f4f4" stroke-width="2.0" stroke-linecap="round" opacity="0.85"/>
<line x1="1611.4" y1="760.3" x2="1624.9" y2="742.8" stroke="#f4f4f4" stroke-width="2.0" stroke-linecap="round" opacity="0.85"/>
</g>
<g opacity="0.95">
<g opacity="1.0" stroke-linecap="round"><line x1="1706.7" y1="816.5" x2="1704.6" y2="824.2" stroke="#888" stroke-width="7.4"/><line x1="1706.7" y1="816.5" x2="1704.6" y2="824.2" stroke="#eaeaea" stroke-width="5.6"/><line x1="1705.6" y1="816.2" x2="1703.5" y2="823.9" stroke="#ffffff" stroke-width="2.1" opacity="0.9"/></g>
<g opacity="1.0" stroke-linecap="round"><line x1="1698.2" y1="812.4" x2="1693.4" y2="818.8" stroke="#888" stroke-width="7.4"/><line x1="1698.2" y1="812.4" x2="1693.4" y2="818.8" stroke="#eaeaea" stroke-width="5.6"/><line x1="1697.3" y1="811.7" x2="1692.5" y2="818.1" stroke="#ffffff" stroke-width="2.1" opacity="0.9"/></g>
<g opacity="1.0" stroke-linecap="round"><line x1="1721.0" y1="765.7" x2="1723.1" y2="758.0" stroke="#888" stroke-width="7.4"/><line x1="1721.0" y1="765.7" x2="1723.1" y2="758.0" stroke="#eaeaea" stroke-width="5.6"/><line x1="1719.9" y1="765.4" x2="1722.0" y2="757.7" stroke="#ffffff" stroke-width="2.1" opacity="0.9"/></g>
<g opacity="1.0" stroke-linecap="round"><line x1="1729.5" y1="769.8" x2="1734.2" y2="763.4" stroke="#888" stroke-width="7.4"/><line x1="1729.5" y1="769.8" x2="1734.2" y2="763.4" stroke="#eaeaea" stroke-width="5.6"/><line x1="1728.6" y1="769.2" x2="1733.3" y2="762.7" stroke="#ffffff" stroke-width="2.1" opacity="0.9"/></g>
<path d="M1722.4,795.3 L1706.7,816.5 L1698.2,812.4 L1705.3,786.9 L1721.0,765.7 L1729.5,769.8 Z" fill="none" stroke="#6e6e6e" stroke-width="7.8" stroke-linejoin="round"/><path d="M1722.4,795.3 L1706.7,816.5 L1698.2,812.4 L1705.3,786.9 L1721.0,765.7 L1729.5,769.8 Z" fill="none" stroke="#b4b4b4" stroke-width="6.0" stroke-linejoin="round"/>
<line x1="1706.7" y1="815.5" x2="1698.2" y2="811.4" stroke="#f4f4f4" stroke-width="2.1" stroke-linecap="round" opacity="0.85"/>
<line x1="1721.0" y1="764.7" x2="1729.5" y2="768.8" stroke="#f4f4f4" stroke-width="2.1" stroke-linecap="round" opacity="0.85"/>
<line x1="1722.4" y1="794.3" x2="1706.7" y2="815.5" stroke="#f4f4f4" stroke-width="2.1" stroke-linecap="round" opacity="0.85"/>
<line x1="1705.3" y1="785.9" x2="1721.0" y2="764.7" stroke="#f4f4f4" stroke-width="2.1" stroke-linecap="round" opacity="0.85"/>
</g>
<g opacity="0.9">
<g opacity="1.0" stroke-linecap="round"><line x1="1658.1" y1="843.5" x2="1656.1" y2="851.3" stroke="#888" stroke-width="7.4"/><line x1="1658.1" y1="843.5" x2="1656.1" y2="851.3" stroke="#eeeeee" stroke-width="5.6"/><line x1="1657.0" y1="843.3" x2="1655.0" y2="851.0" stroke="#ffffff" stroke-width="2.1" opacity="0.9"/></g>
<g opacity="1.0" stroke-linecap="round"><line x1="1650.0" y1="839.6" x2="1645.1" y2="845.9" stroke="#888" stroke-width="7.4"/><line x1="1650.0" y1="839.6" x2="1645.1" y2="845.9" stroke="#eeeeee" stroke-width="5.6"/><line x1="1649.1" y1="838.9" x2="1644.2" y2="845.2" stroke="#ffffff" stroke-width="2.1" opacity="0.9"/></g>
<g opacity="1.0" stroke-linecap="round"><line x1="1669.0" y1="800.7" x2="1670.9" y2="792.9" stroke="#888" stroke-width="7.4"/><line x1="1669.0" y1="800.7" x2="1670.9" y2="792.9" stroke="#eeeeee" stroke-width="5.6"/><line x1="1667.9" y1="800.4" x2="1669.9" y2="792.6" stroke="#ffffff" stroke-width="2.1" opacity="0.9"/></g>
<g opacity="1.0" stroke-linecap="round"><line x1="1677.1" y1="804.6" x2="1682.0" y2="798.3" stroke="#888" stroke-width="7.4"/><line x1="1677.1" y1="804.6" x2="1682.0" y2="798.3" stroke="#eeeeee" stroke-width="5.6"/><line x1="1676.2" y1="803.9" x2="1681.1" y2="797.6" stroke="#ffffff" stroke-width="2.1" opacity="0.9"/></g>
<path d="M1671.6,826.0 L1658.1,843.5 L1650.0,839.6 L1655.4,818.2 L1669.0,800.7 L1677.1,804.6 Z" fill="none" stroke="#7a7a7a" stroke-width="7.6" stroke-linejoin="round"/><path d="M1671.6,826.0 L1658.1,843.5 L1650.0,839.6 L1655.4,818.2 L1669.0,800.7 L1677.1,804.6 Z" fill="none" stroke="#bcbcbc" stroke-width="5.8" stroke-linejoin="round"/>
<line x1="1658.1" y1="842.5" x2="1650.0" y2="838.6" stroke="#f4f4f4" stroke-width="2.0" stroke-linecap="round" opacity="0.85"/>
<line x1="1669.0" y1="799.7" x2="1677.1" y2="803.6" stroke="#f4f4f4" stroke-width="2.0" stroke-linecap="round" opacity="0.85"/>
<line x1="1671.6" y1="825.0" x2="1658.1" y2="842.5" stroke="#f4f4f4" stroke-width="2.0" stroke-linecap="round" opacity="0.85"/>
<line x1="1655.4" y1="817.2" x2="1669.0" y2="799.7" stroke="#f4f4f4" stroke-width="2.0" stroke-linecap="round" opacity="0.85"/>
</g>
<line x1="1316.6" y1="534.0" x2="1525.3" y2="534.0" stroke="#2c2c2c" stroke-width="6.5" stroke-linecap="round"/>
<line x1="1318.6" y1="534.0" x2="1523.3" y2="534.0" stroke="#6a6a6a" stroke-width="3" stroke-linecap="round"/>
<g opacity="1.0" stroke-linecap="round"><line x1="1310.6" y1="529.5" x2="1529.3" y2="529.5" stroke="#2a2a2a" stroke-width="9.6"/><line x1="1310.6" y1="529.5" x2="1529.3" y2="529.5" stroke="#8e8e8e" stroke-width="7.8"/><line x1="1310.6" y1="527.9" x2="1529.3" y2="527.9" stroke="#ffffff" stroke-width="3.0" opacity="0.9"/></g>
<rect x="1331.9" y="526.0" width="5" height="7" fill="#4a4a4a" opacity="0.6"/>
<rect x="1354.2" y="526.0" width="5" height="7" fill="#4a4a4a" opacity="0.6"/>
<rect x="1371.8" y="526.0" width="5" height="7" fill="#4a4a4a" opacity="0.6"/>
<rect x="1394.4" y="526.0" width="5" height="7" fill="#4a4a4a" opacity="0.6"/>
<rect x="1417.3" y="526.0" width="5" height="7" fill="#4a4a4a" opacity="0.6"/>
<rect x="1437.3" y="526.0" width="5" height="7" fill="#4a4a4a" opacity="0.6"/>
<rect x="1458.7" y="526.0" width="5" height="7" fill="#4a4a4a" opacity="0.6"/>
<rect x="1484.5" y="526.0" width="5" height="7" fill="#4a4a4a" opacity="0.6"/>
<rect x="1503.9" y="526.0" width="5" height="7" fill="#4a4a4a" opacity="0.6"/>
<rect x="1317.6" y="526.0" width="7" height="7.5" fill="#3d62e8"/><rect x="1317.6" y="527.2" width="7" height="2" fill="#8aa4ff"/>
<rect x="1516.3" y="526.0" width="7" height="7.5" fill="#3d62e8"/><rect x="1516.3" y="527.2" width="7" height="2" fill="#8aa4ff"/>
<ellipse cx="1328.6" cy="529.0" rx="6" ry="4.6" fill="#d40000"/><ellipse cx="1327.1" cy="527.2" rx="2.4" ry="1.5" fill="#ff8080"/>
<ellipse cx="1405.0" cy="529.0" rx="6" ry="4.6" fill="#d40000"/><ellipse cx="1403.5" cy="527.2" rx="2.4" ry="1.5" fill="#ff8080"/>
<ellipse cx="1504.3" cy="529.0" rx="6" ry="4.6" fill="#d40000"/><ellipse cx="1502.8" cy="527.2" rx="2.4" ry="1.5" fill="#ff8080"/>
<g opacity="1.0" stroke-linecap="round"><line x1="1305.6" y1="530.0" x2="1301.6" y2="516.0" stroke="#7a7a7a" stroke-width="8.0"/><line x1="1305.6" y1="530.0" x2="1301.6" y2="516.0" stroke="#e2e2e2" stroke-width="6.2"/><line x1="1306.8" y1="529.7" x2="1302.8" y2="515.7" stroke="#ffffff" stroke-width="2.4" opacity="0.9"/></g>
<g opacity="1.0" stroke-linecap="round"><line x1="1305.6" y1="530.0" x2="1301.6" y2="544.0" stroke="#7a7a7a" stroke-width="8.0"/><line x1="1305.6" y1="530.0" x2="1301.6" y2="544.0" stroke="#e2e2e2" stroke-width="6.2"/><line x1="1304.4" y1="529.7" x2="1300.4" y2="543.7" stroke="#ffffff" stroke-width="2.4" opacity="0.9"/></g>
<g opacity="1.0" stroke-linecap="round"><line x1="1311.6" y1="530.0" x2="1298.6" y2="530.0" stroke="#7a7a7a" stroke-width="8.0"/><line x1="1311.6" y1="530.0" x2="1298.6" y2="530.0" stroke="#e2e2e2" stroke-width="6.2"/><line x1="1311.6" y1="528.8" x2="1298.6" y2="528.8" stroke="#ffffff" stroke-width="2.4" opacity="0.9"/></g>
<circle cx="1306.6" cy="530.0" r="4" fill="#5a5a5a"/>
<g opacity="1.0" stroke-linecap="round"><line x1="1534.3" y1="530.0" x2="1538.3" y2="516.0" stroke="#7a7a7a" stroke-width="8.0"/><line x1="1534.3" y1="530.0" x2="1538.3" y2="516.0" stroke="#e2e2e2" stroke-width="6.2"/><line x1="1533.1" y1="529.7" x2="1537.1" y2="515.7" stroke="#ffffff" stroke-width="2.4" opacity="0.9"/></g>
<g opacity="1.0" stroke-linecap="round"><line x1="1534.3" y1="530.0" x2="1538.3" y2="544.0" stroke="#7a7a7a" stroke-width="8.0"/><line x1="1534.3" y1="530.0" x2="1538.3" y2="544.0" stroke="#e2e2e2" stroke-width="6.2"/><line x1="1535.5" y1="529.7" x2="1539.5" y2="543.7" stroke="#ffffff" stroke-width="2.4" opacity="0.9"/></g>
<g opacity="1.0" stroke-linecap="round"><line x1="1528.3" y1="530.0" x2="1541.3" y2="530.0" stroke="#7a7a7a" stroke-width="8.0"/><line x1="1528.3" y1="530.0" x2="1541.3" y2="530.0" stroke="#e2e2e2" stroke-width="6.2"/><line x1="1528.3" y1="528.8" x2="1541.3" y2="528.8" stroke="#ffffff" stroke-width="2.4" opacity="0.9"/></g>
<circle cx="1533.3" cy="530.0" r="4" fill="#5a5a5a"/>
<g opacity="1.0">
<g opacity="1.0" stroke-linecap="round"><line x1="1364.9" y1="557.6" x2="1362.5" y2="565.3" stroke="#888" stroke-width="7.4"/><line x1="1364.9" y1="557.6" x2="1362.5" y2="565.3" stroke="#e4e4e4" stroke-width="5.6"/><line x1="1363.8" y1="557.3" x2="1361.4" y2="564.9" stroke="#ffffff" stroke-width="2.1" opacity="0.9"/></g>
<g opacity="1.0" stroke-linecap="round"><line x1="1354.9" y1="551.9" x2="1349.5" y2="557.7" stroke="#888" stroke-width="7.4"/><line x1="1354.9" y1="551.9" x2="1349.5" y2="557.7" stroke="#e4e4e4" stroke-width="5.6"/><line x1="1354.1" y1="551.1" x2="1348.6" y2="557.0" stroke="#ffffff" stroke-width="2.1" opacity="0.9"/></g>
<g opacity="1.0" stroke-linecap="round"><line x1="1380.0" y1="508.4" x2="1382.4" y2="500.7" stroke="#888" stroke-width="7.4"/><line x1="1380.0" y1="508.4" x2="1382.4" y2="500.7" stroke="#e4e4e4" stroke-width="5.6"/><line x1="1379.0" y1="508.0" x2="1381.3" y2="500.4" stroke="#ffffff" stroke-width="2.1" opacity="0.9"/></g>
<g opacity="1.0" stroke-linecap="round"><line x1="1390.0" y1="514.1" x2="1395.4" y2="508.3" stroke="#888" stroke-width="7.4"/><line x1="1390.0" y1="514.1" x2="1395.4" y2="508.3" stroke="#e4e4e4" stroke-width="5.6"/><line x1="1389.2" y1="513.4" x2="1394.6" y2="507.5" stroke="#ffffff" stroke-width="2.1" opacity="0.9"/></g>
<path d="M1382.4,538.8 L1364.9,557.6 L1354.9,551.9 L1362.5,527.2 L1380.0,508.4 L1390.0,514.1 Z" fill="none" stroke="#222222" stroke-width="8.3" stroke-linejoin="round"/><path d="M1382.4,538.8 L1364.9,557.6 L1354.9,551.9 L1362.5,527.2 L1380.0,508.4 L1390.0,514.1 Z" fill="none" stroke="#7e7e7e" stroke-width="6.5" stroke-linejoin="round"/>
<line x1="1364.9" y1="556.6" x2="1354.9" y2="550.9" stroke="#f4f4f4" stroke-width="2.3" stroke-linecap="round" opacity="0.85"/>
<line x1="1380.0" y1="507.4" x2="1390.0" y2="513.1" stroke="#f4f4f4" stroke-width="2.3" stroke-linecap="round" opacity="0.85"/>
<line x1="1382.4" y1="537.8" x2="1364.9" y2="556.6" stroke="#f4f4f4" stroke-width="2.3" stroke-linecap="round" opacity="0.85"/>
<line x1="1362.5" y1="526.2" x2="1380.0" y2="507.4" stroke="#f4f4f4" stroke-width="2.3" stroke-linecap="round" opacity="0.85"/>
</g>
<line x1="1366.4" y1="587.7" x2="1575.0" y2="587.7" stroke="#2c2c2c" stroke-width="6.5" stroke-linecap="round"/>
<line x1="1368.4" y1="587.7" x2="1573.0" y2="587.7" stroke="#6a6a6a" stroke-width="3" stroke-linecap="round"/>
<g opacity="1.0" stroke-linecap="round"><line x1="1360.4" y1="583.2" x2="1579.0" y2="583.2" stroke="#2a2a2a" stroke-width="9.6"/><line x1="1360.4" y1="583.2" x2="1579.0" y2="583.2" stroke="#8e8e8e" stroke-width="7.8"/><line x1="1360.4" y1="581.6" x2="1579.0" y2="581.6" stroke="#ffffff" stroke-width="3.0" opacity="0.9"/></g>
<rect x="1381.0" y="579.7" width="5" height="7" fill="#4a4a4a" opacity="0.6"/>
<rect x="1403.7" y="579.7" width="5" height="7" fill="#4a4a4a" opacity="0.6"/>
<rect x="1426.2" y="579.7" width="5" height="7" fill="#4a4a4a" opacity="0.6"/>
<rect x="1446.1" y="579.7" width="5" height="7" fill="#4a4a4a" opacity="0.6"/>
<rect x="1465.4" y="579.7" width="5" height="7" fill="#4a4a4a" opacity="0.6"/>
<rect x="1491.9" y="579.7" width="5" height="7" fill="#4a4a4a" opacity="0.6"/>
<rect x="1513.4" y="579.7" width="5" height="7" fill="#4a4a4a" opacity="0.6"/>
<rect x="1533.2" y="579.7" width="5" height="7" fill="#4a4a4a" opacity="0.6"/>
<rect x="1554.4" y="579.7" width="5" height="7" fill="#4a4a4a" opacity="0.6"/>
<rect x="1367.4" y="579.7" width="7" height="7.5" fill="#3d62e8"/><rect x="1367.4" y="580.9" width="7" height="2" fill="#8aa4ff"/>
<rect x="1566.0" y="579.7" width="7" height="7.5" fill="#3d62e8"/><rect x="1566.0" y="580.9" width="7" height="2" fill="#8aa4ff"/>
<ellipse cx="1378.4" cy="582.7" rx="6" ry="4.6" fill="#d40000"/><ellipse cx="1376.9" cy="580.9" rx="2.4" ry="1.5" fill="#ff8080"/>
<ellipse cx="1451.4" cy="582.7" rx="6" ry="4.6" fill="#d40000"/><ellipse cx="1449.9" cy="580.9" rx="2.4" ry="1.5" fill="#ff8080"/>
<ellipse cx="1554.0" cy="582.7" rx="6" ry="4.6" fill="#d40000"/><ellipse cx="1552.5" cy="580.9" rx="2.4" ry="1.5" fill="#ff8080"/>
<g opacity="1.0" stroke-linecap="round"><line x1="1355.4" y1="583.7" x2="1351.4" y2="569.7" stroke="#7a7a7a" stroke-width="8.0"/><line x1="1355.4" y1="583.7" x2="1351.4" y2="569.7" stroke="#e2e2e2" stroke-width="6.2"/><line x1="1356.6" y1="583.4" x2="1352.6" y2="569.4" stroke="#ffffff" stroke-width="2.4" opacity="0.9"/></g>
<g opacity="1.0" stroke-linecap="round"><line x1="1355.4" y1="583.7" x2="1351.4" y2="597.7" stroke="#7a7a7a" stroke-width="8.0"/><line x1="1355.4" y1="583.7" x2="1351.4" y2="597.7" stroke="#e2e2e2" stroke-width="6.2"/><line x1="1354.2" y1="583.4" x2="1350.2" y2="597.4" stroke="#ffffff" stroke-width="2.4" opacity="0.9"/></g>
<g opacity="1.0" stroke-linecap="round"><line x1="1361.4" y1="583.7" x2="1348.4" y2="583.7" stroke="#7a7a7a" stroke-width="8.0"/><line x1="1361.4" y1="583.7" x2="1348.4" y2="583.7" stroke="#e2e2e2" stroke-width="6.2"/><line x1="1361.4" y1="582.5" x2="1348.4" y2="582.5" stroke="#ffffff" stroke-width="2.4" opacity="0.9"/></g>
<circle cx="1356.4" cy="583.7" r="4" fill="#5a5a5a"/>
<g opacity="1.0" stroke-linecap="round"><line x1="1584.0" y1="583.7" x2="1588.0" y2="569.7" stroke="#7a7a7a" stroke-width="8.0"/><line x1="1584.0" y1="583.7" x2="1588.0" y2="569.7" stroke="#e2e2e2" stroke-width="6.2"/><line x1="1582.8" y1="583.4" x2="1586.8" y2="569.4" stroke="#ffffff" stroke-width="2.4" opacity="0.9"/></g>
<g opacity="1.0" stroke-linecap="round"><line x1="1584.0" y1="583.7" x2="1588.0" y2="597.7" stroke="#7a7a7a" stroke-width="8.0"/><line x1="1584.0" y1="583.7" x2="1588.0" y2="597.7" stroke="#e2e2e2" stroke-width="6.2"/><line x1="1585.2" y1="583.4" x2="1589.2" y2="597.4" stroke="#ffffff" stroke-width="2.4" opacity="0.9"/></g>
<g opacity="1.0" stroke-linecap="round"><line x1="1578.0" y1="583.7" x2="1591.0" y2="583.7" stroke="#7a7a7a" stroke-width="8.0"/><line x1="1578.0" y1="583.7" x2="1591.0" y2="583.7" stroke="#e2e2e2" stroke-width="6.2"/><line x1="1578.0" y1="582.5" x2="1591.0" y2="582.5" stroke="#ffffff" stroke-width="2.4" opacity="0.9"/></g>
<circle cx="1583.0" cy="583.7" r="4" fill="#5a5a5a"/>
<g opacity="1.0">
<g opacity="1.0" stroke-linecap="round"><line x1="1409.9" y1="611.3" x2="1407.6" y2="619.0" stroke="#888" stroke-width="7.4"/><line x1="1409.9" y1="611.3" x2="1407.6" y2="619.0" stroke="#e4e4e4" stroke-width="5.6"/><line x1="1408.8" y1="611.0" x2="1406.5" y2="618.6" stroke="#ffffff" stroke-width="2.1" opacity="0.9"/></g>
<g opacity="1.0" stroke-linecap="round"><line x1="1400.0" y1="605.6" x2="1394.5" y2="611.4" stroke="#888" stroke-width="7.4"/><line x1="1400.0" y1="605.6" x2="1394.5" y2="611.4" stroke="#e4e4e4" stroke-width="5.6"/><line x1="1399.1" y1="604.8" x2="1393.7" y2="610.7" stroke="#ffffff" stroke-width="2.1" opacity="0.9"/></g>
<g opacity="1.0" stroke-linecap="round"><line x1="1425.1" y1="562.1" x2="1427.4" y2="554.4" stroke="#888" stroke-width="7.4"/><line x1="1425.1" y1="562.1" x2="1427.4" y2="554.4" stroke="#e4e4e4" stroke-width="5.6"/><line x1="1424.0" y1="561.7" x2="1426.4" y2="554.1" stroke="#ffffff" stroke-width="2.1" opacity="0.9"/></g>
<g opacity="1.0" stroke-linecap="round"><line x1="1435.0" y1="567.8" x2="1440.5" y2="562.0" stroke="#888" stroke-width="7.4"/><line x1="1435.0" y1="567.8" x2="1440.5" y2="562.0" stroke="#e4e4e4" stroke-width="5.6"/><line x1="1434.2" y1="567.1" x2="1439.7" y2="561.2" stroke="#ffffff" stroke-width="2.1" opacity="0.9"/></g>
<path d="M1427.5,592.5 L1409.9,611.3 L1400.0,605.6 L1407.5,581.0 L1425.1,562.1 L1435.0,567.8 Z" fill="none" stroke="#222222" stroke-width="8.3" stroke-linejoin="round"/><path d="M1427.5,592.5 L1409.9,611.3 L1400.0,605.6 L1407.5,581.0 L1425.1,562.1 L1435.0,567.8 Z" fill="none" stroke="#7e7e7e" stroke-width="6.5" stroke-linejoin="round"/>
<line x1="1409.9" y1="610.3" x2="1400.0" y2="604.6" stroke="#f4f4f4" stroke-width="2.3" stroke-linecap="round" opacity="0.85"/>
<line x1="1425.1" y1="561.1" x2="1435.0" y2="566.8" stroke="#f4f4f4" stroke-width="2.3" stroke-linecap="round" opacity="0.85"/>
<line x1="1427.5" y1="591.5" x2="1409.9" y2="610.3" stroke="#f4f4f4" stroke-width="2.3" stroke-linecap="round" opacity="0.85"/>
<line x1="1407.5" y1="580.0" x2="1425.1" y2="561.1" stroke="#f4f4f4" stroke-width="2.3" stroke-linecap="round" opacity="0.85"/>
</g>
<line x1="1413.9" y1="639.8" x2="1625.0" y2="639.8" stroke="#2c2c2c" stroke-width="6.5" stroke-linecap="round"/>
<line x1="1415.9" y1="639.8" x2="1623.0" y2="639.8" stroke="#6a6a6a" stroke-width="3" stroke-linecap="round"/>
<g opacity="1.0" stroke-linecap="round"><line x1="1407.9" y1="635.3" x2="1629.0" y2="635.3" stroke="#2a2a2a" stroke-width="9.6"/><line x1="1407.9" y1="635.3" x2="1629.0" y2="635.3" stroke="#8e8e8e" stroke-width="7.8"/><line x1="1407.9" y1="633.7" x2="1629.0" y2="633.7" stroke="#ffffff" stroke-width="3.0" opacity="0.9"/></g>
<rect x="1430.4" y="631.8" width="5" height="7" fill="#4a4a4a" opacity="0.6"/>
<rect x="1449.0" y="631.8" width="5" height="7" fill="#4a4a4a" opacity="0.6"/>
<rect x="1469.6" y="631.8" width="5" height="7" fill="#4a4a4a" opacity="0.6"/>
<rect x="1496.7" y="631.8" width="5" height="7" fill="#4a4a4a" opacity="0.6"/>
<rect x="1517.7" y="631.8" width="5" height="7" fill="#4a4a4a" opacity="0.6"/>
<rect x="1538.8" y="631.8" width="5" height="7" fill="#4a4a4a" opacity="0.6"/>
<rect x="1562.6" y="631.8" width="5" height="7" fill="#4a4a4a" opacity="0.6"/>
<rect x="1583.0" y="631.8" width="5" height="7" fill="#4a4a4a" opacity="0.6"/>
<rect x="1601.5" y="631.8" width="5" height="7" fill="#4a4a4a" opacity="0.6"/>
<rect x="1414.9" y="631.8" width="7" height="7.5" fill="#3d62e8"/><rect x="1414.9" y="633.0" width="7" height="2" fill="#8aa4ff"/>
<rect x="1616.0" y="631.8" width="7" height="7.5" fill="#3d62e8"/><rect x="1616.0" y="633.0" width="7" height="2" fill="#8aa4ff"/>
<ellipse cx="1425.9" cy="634.8" rx="6" ry="4.6" fill="#d40000"/><ellipse cx="1424.4" cy="633.0" rx="2.4" ry="1.5" fill="#ff8080"/>
<ellipse cx="1503.7" cy="634.8" rx="6" ry="4.6" fill="#d40000"/><ellipse cx="1502.2" cy="633.0" rx="2.4" ry="1.5" fill="#ff8080"/>
<ellipse cx="1604.0" cy="634.8" rx="6" ry="4.6" fill="#d40000"/><ellipse cx="1602.5" cy="633.0" rx="2.4" ry="1.5" fill="#ff8080"/>
<g opacity="1.0" stroke-linecap="round"><line x1="1402.9" y1="635.8" x2="1398.9" y2="621.8" stroke="#7a7a7a" stroke-width="8.0"/><line x1="1402.9" y1="635.8" x2="1398.9" y2="621.8" stroke="#e2e2e2" stroke-width="6.2"/><line x1="1404.1" y1="635.5" x2="1400.1" y2="621.5" stroke="#ffffff" stroke-width="2.4" opacity="0.9"/></g>
<g opacity="1.0" stroke-linecap="round"><line x1="1402.9" y1="635.8" x2="1398.9" y2="649.8" stroke="#7a7a7a" stroke-width="8.0"/><line x1="1402.9" y1="635.8" x2="1398.9" y2="649.8" stroke="#e2e2e2" stroke-width="6.2"/><line x1="1401.7" y1="635.5" x2="1397.7" y2="649.5" stroke="#ffffff" stroke-width="2.4" opacity="0.9"/></g>
<g opacity="1.0" stroke-linecap="round"><line x1="1408.9" y1="635.8" x2="1395.9" y2="635.8" stroke="#7a7a7a" stroke-width="8.0"/><line x1="1408.9" y1="635.8" x2="1395.9" y2="635.8" stroke="#e2e2e2" stroke-width="6.2"/><line x1="1408.9" y1="634.6" x2="1395.9" y2="634.6" stroke="#ffffff" stroke-width="2.4" opacity="0.9"/></g>
<circle cx="1403.9" cy="635.8" r="4" fill="#5a5a5a"/>
<g opacity="1.0" stroke-linecap="round"><line x1="1634.0" y1="635.8" x2="1638.0" y2="621.8" stroke="#7a7a7a" stroke-width="8.0"/><line x1="1634.0" y1="635.8" x2="1638.0" y2="621.8" stroke="#e2e2e2" stroke-width="6.2"/><line x1="1632.8" y1="635.5" x2="1636.8" y2="621.5" stroke="#ffffff" stroke-width="2.4" opacity="0.9"/></g>
<g opacity="1.0" stroke-linecap="round"><line x1="1634.0" y1="635.8" x2="1638.0" y2="649.8" stroke="#7a7a7a" stroke-width="8.0"/><line x1="1634.0" y1="635.8" x2="1638.0" y2="649.8" stroke="#e2e2e2" stroke-width="6.2"/><line x1="1635.2" y1="635.5" x2="1639.2" y2="649.5" stroke="#ffffff" stroke-width="2.4" opacity="0.9"/></g>
<g opacity="1.0" stroke-linecap="round"><line x1="1628.0" y1="635.8" x2="1641.0" y2="635.8" stroke="#7a7a7a" stroke-width="8.0"/><line x1="1628.0" y1="635.8" x2="1641.0" y2="635.8" stroke="#e2e2e2" stroke-width="6.2"/><line x1="1628.0" y1="634.6" x2="1641.0" y2="634.6" stroke="#ffffff" stroke-width="2.4" opacity="0.9"/></g>
<circle cx="1633.0" cy="635.8" r="4" fill="#5a5a5a"/>
<g opacity="1.0">
<g opacity="1.0" stroke-linecap="round"><line x1="1459.6" y1="663.4" x2="1457.2" y2="671.1" stroke="#888" stroke-width="7.4"/><line x1="1459.6" y1="663.4" x2="1457.2" y2="671.1" stroke="#e4e4e4" stroke-width="5.6"/><line x1="1458.5" y1="663.1" x2="1456.2" y2="670.7" stroke="#ffffff" stroke-width="2.1" opacity="0.9"/></g>
<g opacity="1.0" stroke-linecap="round"><line x1="1449.6" y1="657.7" x2="1444.2" y2="663.5" stroke="#888" stroke-width="7.4"/><line x1="1449.6" y1="657.7" x2="1444.2" y2="663.5" stroke="#e4e4e4" stroke-width="5.6"/><line x1="1448.8" y1="656.9" x2="1443.4" y2="662.8" stroke="#ffffff" stroke-width="2.1" opacity="0.9"/></g>
<g opacity="1.0" stroke-linecap="round"><line x1="1474.7" y1="614.2" x2="1477.1" y2="606.5" stroke="#888" stroke-width="7.4"/><line x1="1474.7" y1="614.2" x2="1477.1" y2="606.5" stroke="#e4e4e4" stroke-width="5.6"/><line x1="1473.7" y1="613.8" x2="1476.0" y2="606.2" stroke="#ffffff" stroke-width="2.1" opacity="0.9"/></g>
<g opacity="1.0" stroke-linecap="round"><line x1="1484.7" y1="619.9" x2="1490.1" y2="614.1" stroke="#888" stroke-width="7.4"/><line x1="1484.7" y1="619.9" x2="1490.1" y2="614.1" stroke="#e4e4e4" stroke-width="5.6"/><line x1="1483.9" y1="619.2" x2="1489.3" y2="613.3" stroke="#ffffff" stroke-width="2.1" opacity="0.9"/></g>
<path d="M1477.1,644.5 L1459.6,663.4 L1449.6,657.7 L1457.2,633.0 L1474.7,614.2 L1484.7,619.9 Z" fill="none" stroke="#222222" stroke-width="8.3" stroke-linejoin="round"/><path d="M1477.1,644.5 L1459.6,663.4 L1449.6,657.7 L1457.2,633.0 L1474.7,614.2 L1484.7,619.9 Z" fill="none" stroke="#7e7e7e" stroke-width="6.5" stroke-linejoin="round"/>
<line x1="1459.6" y1="662.4" x2="1449.6" y2="656.7" stroke="#f4f4f4" stroke-width="2.3" stroke-linecap="round" opacity="0.85"/>
<line x1="1474.7" y1="613.2" x2="1484.7" y2="618.9" stroke="#f4f4f4" stroke-width="2.3" stroke-linecap="round" opacity="0.85"/>
<line x1="1477.1" y1="643.5" x2="1459.6" y2="662.4" stroke="#f4f4f4" stroke-width="2.3" stroke-linecap="round" opacity="0.85"/>
<line x1="1457.2" y1="632.0" x2="1474.7" y2="613.2" stroke="#f4f4f4" stroke-width="2.3" stroke-linecap="round" opacity="0.85"/>
</g>
<line x1="1463.7" y1="695.3" x2="1672.3" y2="695.3" stroke="#2c2c2c" stroke-width="6.5" stroke-linecap="round"/>
<line x1="1465.7" y1="695.3" x2="1670.3" y2="695.3" stroke="#6a6a6a" stroke-width="3" stroke-linecap="round"/>
<g opacity="1.0" stroke-linecap="round"><line x1="1457.7" y1="690.8" x2="1676.3" y2="690.8" stroke="#2a2a2a" stroke-width="9.6"/><line x1="1457.7" y1="690.8" x2="1676.3" y2="690.8" stroke="#8e8e8e" stroke-width="7.8"/><line x1="1457.7" y1="689.2" x2="1676.3" y2="689.2" stroke="#ffffff" stroke-width="3.0" opacity="0.9"/></g>
<rect x="1480.0" y="687.3" width="5" height="7" fill="#4a4a4a" opacity="0.6"/>
<rect x="1496.4" y="687.3" width="5" height="7" fill="#4a4a4a" opacity="0.6"/>
<rect x="1519.3" y="687.3" width="5" height="7" fill="#4a4a4a" opacity="0.6"/>
<rect x="1544.7" y="687.3" width="5" height="7" fill="#4a4a4a" opacity="0.6"/>
<rect x="1566.9" y="687.3" width="5" height="7" fill="#4a4a4a" opacity="0.6"/>
<rect x="1586.8" y="687.3" width="5" height="7" fill="#4a4a4a" opacity="0.6"/>
<rect x="1608.8" y="687.3" width="5" height="7" fill="#4a4a4a" opacity="0.6"/>
<rect x="1632.1" y="687.3" width="5" height="7" fill="#4a4a4a" opacity="0.6"/>
<rect x="1654.8" y="687.3" width="5" height="7" fill="#4a4a4a" opacity="0.6"/>
<rect x="1464.7" y="687.3" width="7" height="7.5" fill="#3d62e8"/><rect x="1464.7" y="688.5" width="7" height="2" fill="#8aa4ff"/>
<rect x="1663.3" y="687.3" width="7" height="7.5" fill="#3d62e8"/><rect x="1663.3" y="688.5" width="7" height="2" fill="#8aa4ff"/>
<ellipse cx="1475.7" cy="690.3" rx="6" ry="4.6" fill="#d40000"/><ellipse cx="1474.2" cy="688.5" rx="2.4" ry="1.5" fill="#ff8080"/>
<ellipse cx="1555.0" cy="690.3" rx="6" ry="4.6" fill="#d40000"/><ellipse cx="1553.5" cy="688.5" rx="2.4" ry="1.5" fill="#ff8080"/>
<ellipse cx="1651.3" cy="690.3" rx="6" ry="4.6" fill="#d40000"/><ellipse cx="1649.8" cy="688.5" rx="2.4" ry="1.5" fill="#ff8080"/>
<g opacity="1.0" stroke-linecap="round"><line x1="1452.7" y1="691.3" x2="1448.7" y2="677.3" stroke="#7a7a7a" stroke-width="8.0"/><line x1="1452.7" y1="691.3" x2="1448.7" y2="677.3" stroke="#e2e2e2" stroke-width="6.2"/><line x1="1453.9" y1="691.0" x2="1449.9" y2="677.0" stroke="#ffffff" stroke-width="2.4" opacity="0.9"/></g>
<g opacity="1.0" stroke-linecap="round"><line x1="1452.7" y1="691.3" x2="1448.7" y2="705.3" stroke="#7a7a7a" stroke-width="8.0"/><line x1="1452.7" y1="691.3" x2="1448.7" y2="705.3" stroke="#e2e2e2" stroke-width="6.2"/><line x1="1451.5" y1="691.0" x2="1447.5" y2="705.0" stroke="#ffffff" stroke-width="2.4" opacity="0.9"/></g>
<g opacity="1.0" stroke-linecap="round"><line x1="1458.7" y1="691.3" x2="1445.7" y2="691.3" stroke="#7a7a7a" stroke-width="8.0"/><line x1="1458.7" y1="691.3" x2="1445.7" y2="691.3" stroke="#e2e2e2" stroke-width="6.2"/><line x1="1458.7" y1="690.1" x2="1445.7" y2="690.1" stroke="#ffffff" stroke-width="2.4" opacity="0.9"/></g>
<circle cx="1453.7" cy="691.3" r="4" fill="#5a5a5a"/>
<g opacity="1.0" stroke-linecap="round"><line x1="1681.3" y1="691.3" x2="1685.3" y2="677.3" stroke="#7a7a7a" stroke-width="8.0"/><line x1="1681.3" y1="691.3" x2="1685.3" y2="677.3" stroke="#e2e2e2" stroke-width="6.2"/><line x1="1680.1" y1="691.0" x2="1684.1" y2="677.0" stroke="#ffffff" stroke-width="2.4" opacity="0.9"/></g>
<g opacity="1.0" stroke-linecap="round"><line x1="1681.3" y1="691.3" x2="1685.3" y2="705.3" stroke="#7a7a7a" stroke-width="8.0"/><line x1="1681.3" y1="691.3" x2="1685.3" y2="705.3" stroke="#e2e2e2" stroke-width="6.2"/><line x1="1682.5" y1="691.0" x2="1686.5" y2="705.0" stroke="#ffffff" stroke-width="2.4" opacity="0.9"/></g>
<g opacity="1.0" stroke-linecap="round"><line x1="1675.3" y1="691.3" x2="1688.3" y2="691.3" stroke="#7a7a7a" stroke-width="8.0"/><line x1="1675.3" y1="691.3" x2="1688.3" y2="691.3" stroke="#e2e2e2" stroke-width="6.2"/><line x1="1675.3" y1="690.1" x2="1688.3" y2="690.1" stroke="#ffffff" stroke-width="2.4" opacity="0.9"/></g>
<circle cx="1680.3" cy="691.3" r="4" fill="#5a5a5a"/>
<g opacity="1.0">
<g opacity="1.0" stroke-linecap="round"><line x1="1510.8" y1="718.9" x2="1508.4" y2="726.6" stroke="#888" stroke-width="7.4"/><line x1="1510.8" y1="718.9" x2="1508.4" y2="726.6" stroke="#e4e4e4" stroke-width="5.6"/><line x1="1509.7" y1="718.6" x2="1507.3" y2="726.2" stroke="#ffffff" stroke-width="2.1" opacity="0.9"/></g>
<g opacity="1.0" stroke-linecap="round"><line x1="1500.8" y1="713.2" x2="1495.4" y2="719.0" stroke="#888" stroke-width="7.4"/><line x1="1500.8" y1="713.2" x2="1495.4" y2="719.0" stroke="#e4e4e4" stroke-width="5.6"/><line x1="1500.0" y1="712.4" x2="1494.5" y2="718.3" stroke="#ffffff" stroke-width="2.1" opacity="0.9"/></g>
<g opacity="1.0" stroke-linecap="round"><line x1="1525.9" y1="669.7" x2="1528.3" y2="662.0" stroke="#888" stroke-width="7.4"/><line x1="1525.9" y1="669.7" x2="1528.3" y2="662.0" stroke="#e4e4e4" stroke-width="5.6"/><line x1="1524.8" y1="669.3" x2="1527.2" y2="661.7" stroke="#ffffff" stroke-width="2.1" opacity="0.9"/></g>
<g opacity="1.0" stroke-linecap="round"><line x1="1535.9" y1="675.4" x2="1541.3" y2="669.6" stroke="#888" stroke-width="7.4"/><line x1="1535.9" y1="675.4" x2="1541.3" y2="669.6" stroke="#e4e4e4" stroke-width="5.6"/><line x1="1535.1" y1="674.7" x2="1540.5" y2="668.8" stroke="#ffffff" stroke-width="2.1" opacity="0.9"/></g>
<path d="M1528.3,700.0 L1510.8,718.9 L1500.8,713.2 L1508.4,688.5 L1525.9,669.7 L1535.9,675.4 Z" fill="none" stroke="#222222" stroke-width="8.3" stroke-linejoin="round"/><path d="M1528.3,700.0 L1510.8,718.9 L1500.8,713.2 L1508.4,688.5 L1525.9,669.7 L1535.9,675.4 Z" fill="none" stroke="#7e7e7e" stroke-width="6.5" stroke-linejoin="round"/>
<line x1="1510.8" y1="717.9" x2="1500.8" y2="712.2" stroke="#f4f4f4" stroke-width="2.3" stroke-linecap="round" opacity="0.85"/>
<line x1="1525.9" y1="668.7" x2="1535.9" y2="674.4" stroke="#f4f4f4" stroke-width="2.3" stroke-linecap="round" opacity="0.85"/>
<line x1="1528.3" y1="699.0" x2="1510.8" y2="717.9" stroke="#f4f4f4" stroke-width="2.3" stroke-linecap="round" opacity="0.85"/>
<line x1="1508.4" y1="687.5" x2="1525.9" y2="668.7" stroke="#f4f4f4" stroke-width="2.3" stroke-linecap="round" opacity="0.85"/>
</g>
<line x1="1511.0" y1="744.2" x2="1719.8" y2="744.2" stroke="#2c2c2c" stroke-width="6.5" stroke-linecap="round"/>
<line x1="1513.0" y1="744.2" x2="1717.8" y2="744.2" stroke="#6a6a6a" stroke-width="3" stroke-linecap="round"/>
<g opacity="1.0" stroke-linecap="round"><line x1="1505.0" y1="739.7" x2="1723.8" y2="739.7" stroke="#2a2a2a" stroke-width="9.6"/><line x1="1505.0" y1="739.7" x2="1723.8" y2="739.7" stroke="#8e8e8e" stroke-width="7.8"/><line x1="1505.0" y1="738.1" x2="1723.8" y2="738.1" stroke="#ffffff" stroke-width="3.0" opacity="0.9"/></g>
<rect x="1522.6" y="736.2" width="5" height="7" fill="#4a4a4a" opacity="0.6"/>
<rect x="1548.8" y="736.2" width="5" height="7" fill="#4a4a4a" opacity="0.6"/>
<rect x="1567.4" y="736.2" width="5" height="7" fill="#4a4a4a" opacity="0.6"/>
<rect x="1592.0" y="736.2" width="5" height="7" fill="#4a4a4a" opacity="0.6"/>
<rect x="1611.6" y="736.2" width="5" height="7" fill="#4a4a4a" opacity="0.6"/>
<rect x="1630.8" y="736.2" width="5" height="7" fill="#4a4a4a" opacity="0.6"/>
<rect x="1655.4" y="736.2" width="5" height="7" fill="#4a4a4a" opacity="0.6"/>
<rect x="1679.3" y="736.2" width="5" height="7" fill="#4a4a4a" opacity="0.6"/>
<rect x="1699.0" y="736.2" width="5" height="7" fill="#4a4a4a" opacity="0.6"/>
<rect x="1512.0" y="736.2" width="7" height="7.5" fill="#3d62e8"/><rect x="1512.0" y="737.4" width="7" height="2" fill="#8aa4ff"/>
<rect x="1710.8" y="736.2" width="7" height="7.5" fill="#3d62e8"/><rect x="1710.8" y="737.4" width="7" height="2" fill="#8aa4ff"/>
<ellipse cx="1523.0" cy="739.2" rx="6" ry="4.6" fill="#d40000"/><ellipse cx="1521.5" cy="737.4" rx="2.4" ry="1.5" fill="#ff8080"/>
<ellipse cx="1597.7" cy="739.2" rx="6" ry="4.6" fill="#d40000"/><ellipse cx="1596.2" cy="737.4" rx="2.4" ry="1.5" fill="#ff8080"/>
<ellipse cx="1698.8" cy="739.2" rx="6" ry="4.6" fill="#d40000"/><ellipse cx="1697.3" cy="737.4" rx="2.4" ry="1.5" fill="#ff8080"/>
<g opacity="1.0" stroke-linecap="round"><line x1="1500.0" y1="740.2" x2="1496.0" y2="726.2" stroke="#7a7a7a" stroke-width="8.0"/><line x1="1500.0" y1="740.2" x2="1496.0" y2="726.2" stroke="#e2e2e2" stroke-width="6.2"/><line x1="1501.2" y1="739.9" x2="1497.2" y2="725.9" stroke="#ffffff" stroke-width="2.4" opacity="0.9"/></g>
<g opacity="1.0" stroke-linecap="round"><line x1="1500.0" y1="740.2" x2="1496.0" y2="754.2" stroke="#7a7a7a" stroke-width="8.0"/><line x1="1500.0" y1="740.2" x2="1496.0" y2="754.2" stroke="#e2e2e2" stroke-width="6.2"/><line x1="1498.8" y1="739.9" x2="1494.8" y2="753.9" stroke="#ffffff" stroke-width="2.4" opacity="0.9"/></g>
<g opacity="1.0" stroke-linecap="round"><line x1="1506.0" y1="740.2" x2="1493.0" y2="740.2" stroke="#7a7a7a" stroke-width="8.0"/><line x1="1506.0" y1="740.2" x2="1493.0" y2="740.2" stroke="#e2e2e2" stroke-width="6.2"/><line x1="1506.0" y1="739.0" x2="1493.0" y2="739.0" stroke="#ffffff" stroke-width="2.4" opacity="0.9"/></g>
<circle cx="1501.0" cy="740.2" r="4" fill="#5a5a5a"/>
<g opacity="1.0" stroke-linecap="round"><line x1="1728.8" y1="740.2" x2="1732.8" y2="726.2" stroke="#7a7a7a" stroke-width="8.0"/><line x1="1728.8" y1="740.2" x2="1732.8" y2="726.2" stroke="#e2e2e2" stroke-width="6.2"/><line x1="1727.6" y1="739.9" x2="1731.6" y2="725.9" stroke="#ffffff" stroke-width="2.4" opacity="0.9"/></g>
<g opacity="1.0" stroke-linecap="round"><line x1="1728.8" y1="740.2" x2="1732.8" y2="754.2" stroke="#7a7a7a" stroke-width="8.0"/><line x1="1728.8" y1="740.2" x2="1732.8" y2="754.2" stroke="#e2e2e2" stroke-width="6.2"/><line x1="1730.0" y1="739.9" x2="1734.0" y2="753.9" stroke="#ffffff" stroke-width="2.4" opacity="0.9"/></g>
<g opacity="1.0" stroke-linecap="round"><line x1="1722.8" y1="740.2" x2="1735.8" y2="740.2" stroke="#7a7a7a" stroke-width="8.0"/><line x1="1722.8" y1="740.2" x2="1735.8" y2="740.2" stroke="#e2e2e2" stroke-width="6.2"/><line x1="1722.8" y1="739.0" x2="1735.8" y2="739.0" stroke="#ffffff" stroke-width="2.4" opacity="0.9"/></g>
<circle cx="1727.8" cy="740.2" r="4" fill="#5a5a5a"/>
<g opacity="1.0">
<g opacity="1.0" stroke-linecap="round"><line x1="1555.8" y1="767.8" x2="1553.5" y2="775.5" stroke="#888" stroke-width="7.4"/><line x1="1555.8" y1="767.8" x2="1553.5" y2="775.5" stroke="#e4e4e4" stroke-width="5.6"/><line x1="1554.8" y1="767.5" x2="1552.4" y2="775.1" stroke="#ffffff" stroke-width="2.1" opacity="0.9"/></g>
<g opacity="1.0" stroke-linecap="round"><line x1="1545.9" y1="762.1" x2="1540.4" y2="767.9" stroke="#888" stroke-width="7.4"/><line x1="1545.9" y1="762.1" x2="1540.4" y2="767.9" stroke="#e4e4e4" stroke-width="5.6"/><line x1="1545.0" y1="761.3" x2="1539.6" y2="767.2" stroke="#ffffff" stroke-width="2.1" opacity="0.9"/></g>
<g opacity="1.0" stroke-linecap="round"><line x1="1571.0" y1="718.6" x2="1573.3" y2="710.9" stroke="#888" stroke-width="7.4"/><line x1="1571.0" y1="718.6" x2="1573.3" y2="710.9" stroke="#e4e4e4" stroke-width="5.6"/><line x1="1569.9" y1="718.2" x2="1572.3" y2="710.6" stroke="#ffffff" stroke-width="2.1" opacity="0.9"/></g>
<g opacity="1.0" stroke-linecap="round"><line x1="1580.9" y1="724.3" x2="1586.4" y2="718.5" stroke="#888" stroke-width="7.4"/><line x1="1580.9" y1="724.3" x2="1586.4" y2="718.5" stroke="#e4e4e4" stroke-width="5.6"/><line x1="1580.1" y1="723.6" x2="1585.6" y2="717.7" stroke="#ffffff" stroke-width="2.1" opacity="0.9"/></g>
<path d="M1573.4,749.0 L1555.8,767.8 L1545.9,762.1 L1553.4,737.5 L1571.0,718.6 L1580.9,724.3 Z" fill="none" stroke="#222222" stroke-width="8.3" stroke-linejoin="round"/><path d="M1573.4,749.0 L1555.8,767.8 L1545.9,762.1 L1553.4,737.5 L1571.0,718.6 L1580.9,724.3 Z" fill="none" stroke="#7e7e7e" stroke-width="6.5" stroke-linejoin="round"/>
<line x1="1555.8" y1="766.8" x2="1545.9" y2="761.1" stroke="#f4f4f4" stroke-width="2.3" stroke-linecap="round" opacity="0.85"/>
<line x1="1571.0" y1="717.6" x2="1580.9" y2="723.3" stroke="#f4f4f4" stroke-width="2.3" stroke-linecap="round" opacity="0.85"/>
<line x1="1573.4" y1="748.0" x2="1555.8" y2="766.8" stroke="#f4f4f4" stroke-width="2.3" stroke-linecap="round" opacity="0.85"/>
<line x1="1553.4" y1="736.5" x2="1571.0" y2="717.6" stroke="#f4f4f4" stroke-width="2.3" stroke-linecap="round" opacity="0.85"/>
</g>
<line x1="1558.5" y1="801.1" x2="1769.6" y2="801.1" stroke="#2c2c2c" stroke-width="6.5" stroke-linecap="round"/>
<line x1="1560.5" y1="801.1" x2="1767.6" y2="801.1" stroke="#6a6a6a" stroke-width="3" stroke-linecap="round"/>
<g opacity="1.0" stroke-linecap="round"><line x1="1552.5" y1="796.6" x2="1773.6" y2="796.6" stroke="#2a2a2a" stroke-width="9.6"/><line x1="1552.5" y1="796.6" x2="1773.6" y2="796.6" stroke="#8e8e8e" stroke-width="7.8"/><line x1="1552.5" y1="795.0" x2="1773.6" y2="795.0" stroke="#ffffff" stroke-width="3.0" opacity="0.9"/></g>
<rect x="1572.6" y="793.1" width="5" height="7" fill="#4a4a4a" opacity="0.6"/>
<rect x="1594.5" y="793.1" width="5" height="7" fill="#4a4a4a" opacity="0.6"/>
<rect x="1618.7" y="793.1" width="5" height="7" fill="#4a4a4a" opacity="0.6"/>
<rect x="1641.3" y="793.1" width="5" height="7" fill="#4a4a4a" opacity="0.6"/>
<rect x="1662.2" y="793.1" width="5" height="7" fill="#4a4a4a" opacity="0.6"/>
<rect x="1682.2" y="793.1" width="5" height="7" fill="#4a4a4a" opacity="0.6"/>
<rect x="1705.0" y="793.1" width="5" height="7" fill="#4a4a4a" opacity="0.6"/>
<rect x="1728.7" y="793.1" width="5" height="7" fill="#4a4a4a" opacity="0.6"/>
<rect x="1749.5" y="793.1" width="5" height="7" fill="#4a4a4a" opacity="0.6"/>
<rect x="1559.5" y="793.1" width="7" height="7.5" fill="#3d62e8"/><rect x="1559.5" y="794.3" width="7" height="2" fill="#8aa4ff"/>
<rect x="1760.6" y="793.1" width="7" height="7.5" fill="#3d62e8"/><rect x="1760.6" y="794.3" width="7" height="2" fill="#8aa4ff"/>
<ellipse cx="1570.5" cy="796.1" rx="6" ry="4.6" fill="#d40000"/><ellipse cx="1569.0" cy="794.3" rx="2.4" ry="1.5" fill="#ff8080"/>
<ellipse cx="1638.6" cy="796.1" rx="6" ry="4.6" fill="#d40000"/><ellipse cx="1637.1" cy="794.3" rx="2.4" ry="1.5" fill="#ff8080"/>
<ellipse cx="1748.6" cy="796.1" rx="6" ry="4.6" fill="#d40000"/><ellipse cx="1747.1" cy="794.3" rx="2.4" ry="1.5" fill="#ff8080"/>
<g opacity="1.0" stroke-linecap="round"><line x1="1547.5" y1="797.1" x2="1543.5" y2="783.1" stroke="#7a7a7a" stroke-width="8.0"/><line x1="1547.5" y1="797.1" x2="1543.5" y2="783.1" stroke="#e2e2e2" stroke-width="6.2"/><line x1="1548.7" y1="796.8" x2="1544.7" y2="782.8" stroke="#ffffff" stroke-width="2.4" opacity="0.9"/></g>
<g opacity="1.0" stroke-linecap="round"><line x1="1547.5" y1="797.1" x2="1543.5" y2="811.1" stroke="#7a7a7a" stroke-width="8.0"/><line x1="1547.5" y1="797.1" x2="1543.5" y2="811.1" stroke="#e2e2e2" stroke-width="6.2"/><line x1="1546.3" y1="796.8" x2="1542.3" y2="810.8" stroke="#ffffff" stroke-width="2.4" opacity="0.9"/></g>
<g opacity="1.0" stroke-linecap="round"><line x1="1553.5" y1="797.1" x2="1540.5" y2="797.1" stroke="#7a7a7a" stroke-width="8.0"/><line x1="1553.5" y1="797.1" x2="1540.5" y2="797.1" stroke="#e2e2e2" stroke-width="6.2"/><line x1="1553.5" y1="795.9" x2="1540.5" y2="795.9" stroke="#ffffff" stroke-width="2.4" opacity="0.9"/></g>
<circle cx="1548.5" cy="797.1" r="4" fill="#5a5a5a"/>
<g opacity="1.0" stroke-linecap="round"><line x1="1778.6" y1="797.1" x2="1782.6" y2="783.1" stroke="#7a7a7a" stroke-width="8.0"/><line x1="1778.6" y1="797.1" x2="1782.6" y2="783.1" stroke="#e2e2e2" stroke-width="6.2"/><line x1="1777.4" y1="796.8" x2="1781.4" y2="782.8" stroke="#ffffff" stroke-width="2.4" opacity="0.9"/></g>
<g opacity="1.0" stroke-linecap="round"><line x1="1778.6" y1="797.1" x2="1782.6" y2="811.1" stroke="#7a7a7a" stroke-width="8.0"/><line x1="1778.6" y1="797.1" x2="1782.6" y2="811.1" stroke="#e2e2e2" stroke-width="6.2"/><line x1="1779.8" y1="796.8" x2="1783.8" y2="810.8" stroke="#ffffff" stroke-width="2.4" opacity="0.9"/></g>
<g opacity="1.0" stroke-linecap="round"><line x1="1772.6" y1="797.1" x2="1785.6" y2="797.1" stroke="#7a7a7a" stroke-width="8.0"/><line x1="1772.6" y1="797.1" x2="1785.6" y2="797.1" stroke="#e2e2e2" stroke-width="6.2"/><line x1="1772.6" y1="795.9" x2="1785.6" y2="795.9" stroke="#ffffff" stroke-width="2.4" opacity="0.9"/></g>
<circle cx="1777.6" cy="797.1" r="4" fill="#5a5a5a"/>
<g opacity="1.0">
<g opacity="1.0" stroke-linecap="round"><line x1="1600.1" y1="824.7" x2="1597.7" y2="832.4" stroke="#888" stroke-width="7.4"/><line x1="1600.1" y1="824.7" x2="1597.7" y2="832.4" stroke="#e4e4e4" stroke-width="5.6"/><line x1="1599.0" y1="824.4" x2="1596.7" y2="832.0" stroke="#ffffff" stroke-width="2.1" opacity="0.9"/></g>
<g opacity="1.0" stroke-linecap="round"><line x1="1590.1" y1="819.0" x2="1584.7" y2="824.8" stroke="#888" stroke-width="7.4"/><line x1="1590.1" y1="819.0" x2="1584.7" y2="824.8" stroke="#e4e4e4" stroke-width="5.6"/><line x1="1589.3" y1="818.2" x2="1583.9" y2="824.1" stroke="#ffffff" stroke-width="2.1" opacity="0.9"/></g>
<g opacity="1.0" stroke-linecap="round"><line x1="1615.2" y1="775.5" x2="1617.6" y2="767.8" stroke="#888" stroke-width="7.4"/><line x1="1615.2" y1="775.5" x2="1617.6" y2="767.8" stroke="#e4e4e4" stroke-width="5.6"/><line x1="1614.2" y1="775.1" x2="1616.5" y2="767.5" stroke="#ffffff" stroke-width="2.1" opacity="0.9"/></g>
<g opacity="1.0" stroke-linecap="round"><line x1="1625.2" y1="781.2" x2="1630.6" y2="775.4" stroke="#888" stroke-width="7.4"/><line x1="1625.2" y1="781.2" x2="1630.6" y2="775.4" stroke="#e4e4e4" stroke-width="5.6"/><line x1="1624.4" y1="780.5" x2="1629.8" y2="774.6" stroke="#ffffff" stroke-width="2.1" opacity="0.9"/></g>
<path d="M1617.6,805.9 L1600.1,824.7 L1590.1,819.0 L1597.7,794.4 L1615.2,775.5 L1625.2,781.2 Z" fill="none" stroke="#222222" stroke-width="8.3" stroke-linejoin="round"/><path d="M1617.6,805.9 L1600.1,824.7 L1590.1,819.0 L1597.7,794.4 L1615.2,775.5 L1625.2,781.2 Z" fill="none" stroke="#7e7e7e" stroke-width="6.5" stroke-linejoin="round"/>
<line x1="1600.1" y1="823.7" x2="1590.1" y2="818.0" stroke="#f4f4f4" stroke-width="2.3" stroke-linecap="round" opacity="0.85"/>
<line x1="1615.2" y1="774.5" x2="1625.2" y2="780.2" stroke="#f4f4f4" stroke-width="2.3" stroke-linecap="round" opacity="0.85"/>
<line x1="1617.6" y1="804.9" x2="1600.1" y2="823.7" stroke="#f4f4f4" stroke-width="2.3" stroke-linecap="round" opacity="0.85"/>
<line x1="1597.7" y1="793.4" x2="1615.2" y2="774.5" stroke="#f4f4f4" stroke-width="2.3" stroke-linecap="round" opacity="0.85"/>
</g>
<ellipse cx="1537" cy="662" rx="64" ry="15" transform="rotate(32 1537 662)" fill="#ee2a2a" opacity="0.6" filter="url(#bl6)"/>
<ellipse cx="1486" cy="630" rx="30" ry="22" fill="#ee1c1c" opacity="0.6" filter="url(#bl6)"/>
<ellipse cx="1588" cy="694" rx="30" ry="22" fill="#ee1c1c" opacity="0.6" filter="url(#bl6)"/>
<line x1="9.7" y1="917" x2="95" y2="863" stroke="#a6dc82" stroke-width="5" stroke-linecap="round"/>
<circle cx="96" cy="862" r="22" fill="#d4f3b8" opacity="0.85" filter="url(#bl6)"/>
<line x1="100.0" y1="862.0" x2="113.0" y2="862.0" stroke="#a8e47c" stroke-width="2"/>
<line x1="99.6" y1="863.7" x2="106.8" y2="867.2" stroke="#a8e47c" stroke-width="2"/>
<line x1="98.5" y1="865.1" x2="106.6" y2="875.3" stroke="#a8e47c" stroke-width="2"/>
<line x1="96.9" y1="865.9" x2="98.7" y2="873.7" stroke="#a8e47c" stroke-width="2"/>
<line x1="95.1" y1="865.9" x2="92.2" y2="878.6" stroke="#a8e47c" stroke-width="2"/>
<line x1="93.5" y1="865.1" x2="88.5" y2="871.4" stroke="#a8e47c" stroke-width="2"/>
<line x1="92.4" y1="863.7" x2="80.7" y2="869.4" stroke="#a8e47c" stroke-width="2"/>
<line x1="92.0" y1="862.0" x2="84.0" y2="862.0" stroke="#a8e47c" stroke-width="2"/>
<line x1="92.4" y1="860.3" x2="80.7" y2="854.6" stroke="#a8e47c" stroke-width="2"/>
<line x1="93.5" y1="858.9" x2="88.5" y2="852.6" stroke="#a8e47c" stroke-width="2"/>
<line x1="95.1" y1="858.1" x2="92.2" y2="845.4" stroke="#a8e47c" stroke-width="2"/>
<line x1="96.9" y1="858.1" x2="98.7" y2="850.3" stroke="#a8e47c" stroke-width="2"/>
<line x1="98.5" y1="858.9" x2="106.6" y2="848.7" stroke="#a8e47c" stroke-width="2"/>
<line x1="99.6" y1="860.3" x2="106.8" y2="856.8" stroke="#a8e47c" stroke-width="2"/>
<circle cx="96" cy="862" r="5" fill="#c9f0a5"/>
<g>
<g opacity="0.62" filter="url(#bl12)"><line x1="1667.7" y1="538.6" x2="1688.1" y2="575.3" stroke="#ee5a5e" stroke-width="30" stroke-linecap="round"/><line x1="1661.2" y1="511.3" x2="1700.0" y2="581.3" stroke="#ee5a5e" stroke-width="30" stroke-linecap="round"/><line x1="1654.1" y1="483.2" x2="1712.3" y2="588.2" stroke="#ee5a5e" stroke-width="30" stroke-linecap="round"/><line x1="1650.3" y1="460.7" x2="1725.5" y2="596.4" stroke="#ee5a5e" stroke-width="30" stroke-linecap="round"/><line x1="1662.9" y1="468.0" x2="1735.7" y2="599.3" stroke="#ee5a5e" stroke-width="30" stroke-linecap="round"/><line x1="1678.0" y1="479.7" x2="1748.3" y2="606.6" stroke="#ee5a5e" stroke-width="30" stroke-linecap="round"/><line x1="1692.0" y1="489.6" x2="1759.9" y2="612.1" stroke="#ee5a5e" stroke-width="30" stroke-linecap="round"/><line x1="1704.4" y1="496.5" x2="1757.8" y2="592.7" stroke="#ee5a5e" stroke-width="30" stroke-linecap="round"/><line x1="1714.6" y1="499.4" x2="1751.0" y2="565.0" stroke="#ee5a5e" stroke-width="30" stroke-linecap="round"/><line x1="1726.1" y1="505.6" x2="1746.9" y2="543.3" stroke="#ee5a5e" stroke-width="30" stroke-linecap="round"/><path d="M1633,595 L1645,584 L1663,572 L1666,555 L1670,553 M1736,520 L1743,509 L1765,497 L1776,491 L1790,483" stroke="#ee6a6e" stroke-width="26" fill="none" stroke-linecap="round"/></g>
<path d="M1666.5,536.4 Q1683.8,553.7 1689.3,577.5 Q1671.9,560.3 1666.5,536.4 Z" fill="#e2e2e2" stroke="#e2e2e2" stroke-width="5" stroke-linejoin="round"/>
<path d="M1659.9,509.1 Q1686.5,543.0 1701.2,583.5 Q1674.6,549.6 1659.9,509.1 Z" fill="#e2e2e2" stroke="#e2e2e2" stroke-width="5" stroke-linejoin="round"/>
<path d="M1652.9,481.0 Q1689.2,532.4 1713.6,590.4 Q1677.3,539.0 1652.9,481.0 Z" fill="#e2e2e2" stroke="#e2e2e2" stroke-width="5" stroke-linejoin="round"/>
<path d="M1649.1,458.5 Q1693.8,525.2 1726.7,598.5 Q1681.9,531.8 1649.1,458.5 Z" fill="#e2e2e2" stroke="#e2e2e2" stroke-width="5" stroke-linejoin="round"/>
<path d="M1661.7,465.8 Q1705.2,530.4 1736.9,601.5 Q1693.3,537.0 1661.7,465.8 Z" fill="#e2e2e2" stroke="#e2e2e2" stroke-width="5" stroke-linejoin="round"/>
<path d="M1676.7,477.5 Q1719.1,539.8 1749.5,608.8 Q1707.2,546.4 1676.7,477.5 Z" fill="#e2e2e2" stroke="#e2e2e2" stroke-width="5" stroke-linejoin="round"/>
<path d="M1690.8,487.4 Q1731.9,547.6 1761.1,614.3 Q1720.0,554.2 1690.8,487.4 Z" fill="#e2e2e2" stroke="#e2e2e2" stroke-width="5" stroke-linejoin="round"/>
<path d="M1703.2,494.3 Q1737.0,541.3 1759.0,594.9 Q1725.1,547.9 1703.2,494.3 Z" fill="#e2e2e2" stroke="#e2e2e2" stroke-width="5" stroke-linejoin="round"/>
<path d="M1713.4,497.2 Q1738.8,528.9 1752.2,567.2 Q1726.8,535.5 1713.4,497.2 Z" fill="#e2e2e2" stroke="#e2e2e2" stroke-width="5" stroke-linejoin="round"/>
<path d="M1724.9,503.5 Q1742.5,521.2 1748.1,545.5 Q1730.5,527.8 1724.9,503.5 Z" fill="#e2e2e2" stroke="#e2e2e2" stroke-width="5" stroke-linejoin="round"/>
<path d="M1633,595 L1645,584 L1663,572 L1666,555 L1670,553 M1736,520 L1743,509 L1765,497 L1776,491" stroke="#e2e2e2" stroke-width="8" fill="none" stroke-linecap="round" stroke-linejoin="round"/>
<path d="M1790,483 L1767,487 L1775,500 Z" fill="#e2e2e2" stroke="#e2e2e2" stroke-width="4" stroke-linejoin="round"/>
<path d="M1667.7,538.6 Q1683.3,553.9 1688.1,575.3 Q1672.5,560.0 1667.7,538.6 Z" fill="#3a0900"/>
<path d="M1661.2,511.3 Q1686.0,543.3 1700.0,581.3 Q1675.1,549.3 1661.2,511.3 Z" fill="#3a0900"/>
<path d="M1654.1,483.2 Q1688.7,532.7 1712.3,588.2 Q1677.8,538.7 1654.1,483.2 Z" fill="#3a0900"/>
<path d="M1650.3,460.7 Q1693.3,525.5 1725.5,596.4 Q1682.4,531.5 1650.3,460.7 Z" fill="#3a0900"/>
<path d="M1662.9,468.0 Q1704.7,530.6 1735.7,599.3 Q1693.9,536.7 1662.9,468.0 Z" fill="#3a0900"/>
<path d="M1678.0,479.7 Q1718.5,540.1 1748.3,606.6 Q1707.7,546.1 1678.0,479.7 Z" fill="#3a0900"/>
<path d="M1692.0,489.6 Q1731.4,547.9 1759.9,612.1 Q1720.6,553.9 1692.0,489.6 Z" fill="#3a0900"/>
<path d="M1704.4,496.5 Q1736.5,541.6 1757.8,592.7 Q1725.7,547.6 1704.4,496.5 Z" fill="#3a0900"/>
<path d="M1714.6,499.4 Q1738.2,529.2 1751.0,565.0 Q1727.4,535.2 1714.6,499.4 Z" fill="#3a0900"/>
<path d="M1726.1,505.6 Q1741.9,521.5 1746.9,543.3 Q1731.1,527.5 1726.1,505.6 Z" fill="#3a0900"/>
<path d="M1633,595 L1645,584 L1663,572 L1666,555 L1670,553 M1736,520 L1743,509 L1765,497 L1776,491" stroke="#c23a08" stroke-width="3.2" fill="none" stroke-linecap="round" stroke-linejoin="round"/>
<path d="M1790,483 L1767,487 L1775,500 Z" fill="#c23a08"/>
</g>
<line x1="594.7" y1="586.3" x2="609.3" y2="605.9" stroke="#000" stroke-width="3.8"/>
<path d="M615.0,613.6 L602.6,607.8 L609.3,605.9 L613.1,600.1 Z" fill="#000"/>
<path d="M589.0,578.6 L590.9,592.1 L594.7,586.3 L601.4,584.4 Z" fill="#000"/>
<line x1="645.1" y1="650.1" x2="656.7" y2="668.3" stroke="#000" stroke-width="3.8"/>
<path d="M661.8,676.4 L649.9,669.7 L656.7,668.3 L660.9,662.8 Z" fill="#000"/>
<path d="M640.0,642.0 L640.9,655.6 L645.1,650.1 L651.9,648.7 Z" fill="#000"/>
<line x1="690.9" y1="702.4" x2="706.4" y2="725.1" stroke="#000" stroke-width="3.8"/>
<path d="M711.8,733.0 L699.7,726.8 L706.4,725.1 L710.4,719.4 Z" fill="#000"/>
<path d="M685.5,694.5 L686.9,708.1 L690.9,702.4 L697.6,700.7 Z" fill="#000"/>
<line x1="731.6" y1="754.9" x2="747.5" y2="779.6" stroke="#000" stroke-width="3.8"/>
<path d="M752.7,787.7 L740.7,781.1 L747.5,779.6 L751.7,774.1 Z" fill="#000"/>
<path d="M726.4,746.8 L727.4,760.4 L731.6,754.9 L738.4,753.4 Z" fill="#000"/>
<line x1="775.8" y1="809.7" x2="789.7" y2="834.0" stroke="#000" stroke-width="3.8"/>
<path d="M794.5,842.3 L782.9,835.1 L789.7,834.0 L794.2,828.7 Z" fill="#000"/>
<path d="M771.0,801.4 L771.3,815.0 L775.8,809.7 L782.6,808.6 Z" fill="#000"/>
<path d="M678.6,642.0 L643.6,642.0 L643.6,749.0 L678.6,749.0" fill="none" stroke="#000" stroke-width="4"/>
<path d="M967.0,642.0 L1004.5,642.0 L1004.5,749.0 L967.0,749.0" fill="none" stroke="#000" stroke-width="4"/>
<path d="M1364.5,609.8 L1326.5,609.8 L1326.5,716.5 L1364.5,716.5" fill="none" stroke="#000" stroke-width="4"/>
<path d="M1690.3,608.8 L1727.3,608.8 L1727.3,716.5 L1690.3,716.5" fill="none" stroke="#000" stroke-width="4"/>
<line x1="153.6" y1="944.4" x2="853.0" y2="944.4" stroke="#000" stroke-width="4"/>
<path d="M871.0,944.4 L851.0,952.4 L856.0,944.4 L851.0,936.4 Z" fill="#000"/>
<line x1="980.0" y1="944.4" x2="1649.3" y2="944.4" stroke="#000" stroke-width="4"/>
<path d="M1667.3,944.4 L1647.3,952.4 L1652.3,944.4 L1647.3,936.4 Z" fill="#000"/>
<line x1="1095.7" y1="657.8" x2="1262.4" y2="657.8" stroke="#000" stroke-width="3.6"/>
<path d="M1279.4,657.8 L1260.4,665.3 L1265.2,657.8 L1260.4,650.3 Z" fill="#000"/>
<text x="0.8" y="457.2" font-size="39.5" text-anchor="start" font-weight="bold" font-style="normal" fill="#000" font-family="'Liberation Sans', Arial, sans-serif" stroke="#000" stroke-width="1.4">d</text>
<text x="1249.8" y="463.3" font-size="37.6" text-anchor="start" font-weight="bold" font-style="normal" fill="#000" font-family="'Liberation Sans', Arial, sans-serif" stroke="#000" stroke-width="1.4">e</text>
<text x="35.4" y="703.7" font-size="25.5" text-anchor="start" font-weight="bold" font-style="normal" fill="#000" font-family="'Liberation Sans', Arial, sans-serif" textLength="70.6" lengthAdjust="spacingAndGlyphs" stroke="#000" stroke-width="0.7">PBI-2</text>
<text x="35.4" y="735.2" font-size="27" text-anchor="start" font-weight="normal" font-style="italic" fill="#fff" stroke="#fff" stroke-width="4" stroke-linejoin="round" opacity="0.85" font-family="'Liberation Serif', serif">Φ</text>
<text x="35.4" y="735.2" font-size="27" text-anchor="start" font-weight="normal" font-style="italic" fill="#000" font-family="'Liberation Serif', serif" stroke="#000" stroke-width="0.6">Φ</text>
<text x="56.4" y="743.2" font-size="18" text-anchor="start" font-weight="normal" font-style="normal" fill="#fff" stroke="#fff" stroke-width="4" stroke-linejoin="round" opacity="0.85" font-family="'Liberation Sans', Arial, sans-serif">FL(ME)</text>
<text x="56.4" y="743.2" font-size="18" text-anchor="start" font-weight="normal" font-style="normal" fill="#000" font-family="'Liberation Sans', Arial, sans-serif" >FL(ME)</text>
<text x="120.4" y="735.2" font-size="26.5" text-anchor="start" font-weight="normal" font-style="normal" fill="#fff" stroke="#fff" stroke-width="4" stroke-linejoin="round" opacity="0.85" font-family="'Liberation Sans', Arial, sans-serif">= 31%</text>
<text x="120.4" y="735.2" font-size="26.5" text-anchor="start" font-weight="normal" font-style="normal" fill="#000" font-family="'Liberation Sans', Arial, sans-serif" >= 31%</text>
<text x="218.5" y="549.0" font-size="25.5" text-anchor="start" font-weight="bold" font-style="normal" fill="#fff" stroke="#fff" stroke-width="4" stroke-linejoin="round" opacity="0.85" font-family="'Liberation Sans', Arial, sans-serif" textLength="70.5" lengthAdjust="spacingAndGlyphs">PBI-5</text>
<text x="218.5" y="549.0" font-size="25.5" text-anchor="start" font-weight="bold" font-style="normal" fill="#000" font-family="'Liberation Sans', Arial, sans-serif" textLength="70.5" lengthAdjust="spacingAndGlyphs" stroke="#000" stroke-width="0.7">PBI-5</text>
<text x="217.5" y="581.0" font-size="27" text-anchor="start" font-weight="normal" font-style="italic" fill="#fff" stroke="#fff" stroke-width="4" stroke-linejoin="round" opacity="0.85" font-family="'Liberation Serif', serif">Φ</text>
<text x="217.5" y="581.0" font-size="27" text-anchor="start" font-weight="normal" font-style="italic" fill="#000" font-family="'Liberation Serif', serif" stroke="#000" stroke-width="0.6">Φ</text>
<text x="238.5" y="589.0" font-size="18" text-anchor="start" font-weight="normal" font-style="normal" fill="#fff" stroke="#fff" stroke-width="4" stroke-linejoin="round" opacity="0.85" font-family="'Liberation Sans', Arial, sans-serif">FL(ME)</text>
<text x="238.5" y="589.0" font-size="18" text-anchor="start" font-weight="normal" font-style="normal" fill="#000" font-family="'Liberation Sans', Arial, sans-serif" >FL(ME)</text>
<text x="302.5" y="581.0" font-size="26.5" text-anchor="start" font-weight="normal" font-style="normal" fill="#fff" stroke="#fff" stroke-width="4" stroke-linejoin="round" opacity="0.85" font-family="'Liberation Sans', Arial, sans-serif">= 57%</text>
<text x="302.5" y="581.0" font-size="26.5" text-anchor="start" font-weight="normal" font-style="normal" fill="#000" font-family="'Liberation Sans', Arial, sans-serif" >= 57%</text>
<text x="568.0" y="480.0" font-size="25.5" text-anchor="start" font-weight="bold" font-style="normal" fill="#000" font-family="'Liberation Sans', Arial, sans-serif" textLength="83" lengthAdjust="spacingAndGlyphs" stroke="#000" stroke-width="0.7">PBI-14</text>
<text x="568.0" y="511.8" font-size="27" text-anchor="start" font-weight="normal" font-style="italic" fill="#000" font-family="'Liberation Serif', serif" stroke="#000" stroke-width="0.6">Φ</text>
<text x="589.0" y="519.8" font-size="18" text-anchor="start" font-weight="normal" font-style="normal" fill="#000" font-family="'Liberation Sans', Arial, sans-serif" >FL(ME)</text>
<text x="653.0" y="511.8" font-size="26.5" text-anchor="start" font-weight="normal" font-style="normal" fill="#000" font-family="'Liberation Sans', Arial, sans-serif" >= 75%</text>
<text x="836.4" y="480.0" font-size="26.5" text-anchor="start" font-weight="normal" font-style="normal" fill="#000" font-family="'Liberation Sans', Arial, sans-serif" textLength="244.6" lengthAdjust="spacingAndGlyphs" >Initially delocalized</text>
<text x="841.0" y="511.8" font-size="26.5" text-anchor="start" font-weight="normal" font-style="normal" fill="#000" font-family="'Liberation Sans', Arial, sans-serif" textLength="236" lengthAdjust="spacingAndGlyphs" >LE + CT interaction</text>
<text x="700.0" y="810.5" font-size="27" text-anchor="start" font-weight="normal" font-style="italic" fill="#000" font-family="'Liberation Sans', Arial, sans-serif" >J</text>
<text x="713.0" y="818.0" font-size="18" text-anchor="start" font-weight="normal" font-style="normal" fill="#000" font-family="'Liberation Sans', Arial, sans-serif" >CT</text>
<text x="1028.6" y="762.7" font-size="26.5" text-anchor="start" font-weight="normal" font-style="normal" fill="#000" font-family="'Liberation Sans', Arial, sans-serif" >5</text>
<text x="796.0" y="891.7" font-size="26.5" text-anchor="start" font-weight="normal" font-style="normal" fill="#000" font-family="'Liberation Sans', Arial, sans-serif" textLength="184" lengthAdjust="spacingAndGlyphs" >Exciton size ≤6</text>
<text x="796.0" y="924.5" font-size="26.5" text-anchor="start" font-weight="normal" font-style="normal" fill="#000" font-family="'Liberation Sans', Arial, sans-serif" >units</text>
<text x="56.7" y="913.0" font-size="27" text-anchor="start" font-weight="normal" font-style="italic" fill="#000" font-family="'Liberation Sans', Arial, sans-serif" >hv</text>
<text x="444.6" y="932.0" font-size="26.5" text-anchor="start" font-weight="normal" font-style="normal" fill="#000" font-family="'Liberation Sans', Arial, sans-serif" textLength="135.4" lengthAdjust="spacingAndGlyphs" >Elongation</text>
<text x="250.8" y="978.3" font-size="26.5" text-anchor="start" font-weight="normal" font-style="normal" fill="#000" font-family="'Liberation Sans', Arial, sans-serif" >Rising </text>
<text x="332.0" y="966.0" font-size="16" text-anchor="start" font-weight="normal" font-style="normal" fill="#000" font-family="'Liberation Sans', Arial, sans-serif" >1</text>
<text x="340.5" y="978.3" font-size="26.5" text-anchor="start" font-weight="normal" font-style="normal" fill="#000" font-family="'Liberation Sans', Arial, sans-serif" textLength="433.5" lengthAdjust="spacingAndGlyphs" >(ME) fluorescence quantum yields</text>
<text x="1123.6" y="612.5" font-size="26.5" text-anchor="start" font-weight="normal" font-style="normal" fill="#000" font-family="'Liberation Sans', Arial, sans-serif" textLength="125.6" lengthAdjust="spacingAndGlyphs" >Structural</text>
<text x="1123.0" y="644.0" font-size="26.5" text-anchor="start" font-weight="normal" font-style="normal" fill="#000" font-family="'Liberation Sans', Arial, sans-serif" textLength="125.6" lengthAdjust="spacingAndGlyphs" >relaxation</text>
<text x="1157.8" y="688.7" font-size="26.5" text-anchor="start" font-weight="normal" font-style="normal" fill="#000" font-family="'Liberation Sans', Arial, sans-serif" textLength="57.8" lengthAdjust="spacingAndGlyphs" >MEG</text>
<text x="1311.6" y="462.0" font-size="25.5" text-anchor="start" font-weight="bold" font-style="normal" fill="#000" font-family="'Liberation Sans', Arial, sans-serif" textLength="83" lengthAdjust="spacingAndGlyphs" stroke="#000" stroke-width="0.7">PBI-14</text>
<text x="1310.8" y="493.5" font-size="27" text-anchor="start" font-weight="normal" font-style="italic" fill="#fff" stroke="#fff" stroke-width="4" stroke-linejoin="round" opacity="0.85" font-family="'Liberation Serif', serif">Φ</text>
<text x="1310.8" y="493.5" font-size="27" text-anchor="start" font-weight="normal" font-style="italic" fill="#000" font-family="'Liberation Serif', serif" stroke="#000" stroke-width="0.6">Φ</text>
<text x="1331.8" y="501.5" font-size="18" text-anchor="start" font-weight="normal" font-style="normal" fill="#fff" stroke="#fff" stroke-width="4" stroke-linejoin="round" opacity="0.85" font-family="'Liberation Sans', Arial, sans-serif">FL</text>
<text x="1331.8" y="501.5" font-size="18" text-anchor="start" font-weight="normal" font-style="normal" fill="#000" font-family="'Liberation Sans', Arial, sans-serif" >FL</text>
<text x="1357.8" y="493.5" font-size="26.5" text-anchor="start" font-weight="normal" font-style="normal" fill="#fff" stroke="#fff" stroke-width="4" stroke-linejoin="round" opacity="0.85" font-family="'Liberation Sans', Arial, sans-serif">= 75%</text>
<text x="1357.8" y="493.5" font-size="26.5" text-anchor="start" font-weight="normal" font-style="normal" fill="#000" font-family="'Liberation Sans', Arial, sans-serif" >= 75%</text>
<text x="1518.0" y="445.2" font-size="26.5" text-anchor="start" font-weight="normal" font-style="normal" fill="#000" font-family="'Liberation Sans', Arial, sans-serif" textLength="74.5" lengthAdjust="spacingAndGlyphs" >Bright</text>
<text x="1599.0" y="432.5" font-size="16.5" text-anchor="start" font-weight="normal" font-style="normal" fill="#000" font-family="'Liberation Sans', Arial, sans-serif" >1</text>
<text x="1608.5" y="445.2" font-size="26.5" text-anchor="start" font-weight="normal" font-style="normal" fill="#000" font-family="'Liberation Sans', Arial, sans-serif" textLength="157.2" lengthAdjust="spacingAndGlyphs" >(ME) exciton</text>
<text x="1518.0" y="476.7" font-size="26.5" text-anchor="start" font-weight="normal" font-style="normal" fill="#000" font-family="'Liberation Sans', Arial, sans-serif" textLength="109.9" lengthAdjust="spacingAndGlyphs" >reservoir</text>
<text x="1749.6" y="729.3" font-size="26.5" text-anchor="start" font-weight="normal" font-style="normal" fill="#000" font-family="'Liberation Sans', Arial, sans-serif" >5</text>
<text x="1351.2" y="792.4" font-size="26.5" text-anchor="start" font-weight="normal" font-style="normal" fill="#000" font-family="'Liberation Sans', Arial, sans-serif" >Localized</text>
<text x="1350.0" y="811.0" font-size="16" text-anchor="start" font-weight="normal" font-style="normal" fill="#000" font-family="'Liberation Sans', Arial, sans-serif" >1</text>
<text x="1358.5" y="823.2" font-size="26.5" text-anchor="start" font-weight="normal" font-style="normal" fill="#000" font-family="'Liberation Sans', Arial, sans-serif" >(ME) state</text>
<text x="1351.2" y="856.4" font-size="26.5" text-anchor="start" font-weight="normal" font-style="normal" fill="#000" font-family="'Liberation Sans', Arial, sans-serif" textLength="250.4" lengthAdjust="spacingAndGlyphs" >exciton size ~2 units</text>
<text x="1200.5" y="932.0" font-size="26.5" text-anchor="start" font-weight="normal" font-style="normal" fill="#000" font-family="'Liberation Sans', Arial, sans-serif" textLength="245.3" lengthAdjust="spacingAndGlyphs" >Exciton localization</text>
<text x="1022.8" y="978.3" font-size="26.5" text-anchor="start" font-weight="normal" font-style="normal" fill="#000" font-family="'Liberation Sans', Arial, sans-serif" textLength="600.7" lengthAdjust="spacingAndGlyphs" >Protection from solvent mediated non-radiative</text>
<text x="1245.4" y="1010.3" font-size="26.5" text-anchor="start" font-weight="normal" font-style="normal" fill="#000" font-family="'Liberation Sans', Arial, sans-serif" textLength="155.1" lengthAdjust="spacingAndGlyphs" >deactivation</text>
</svg></body></html>
